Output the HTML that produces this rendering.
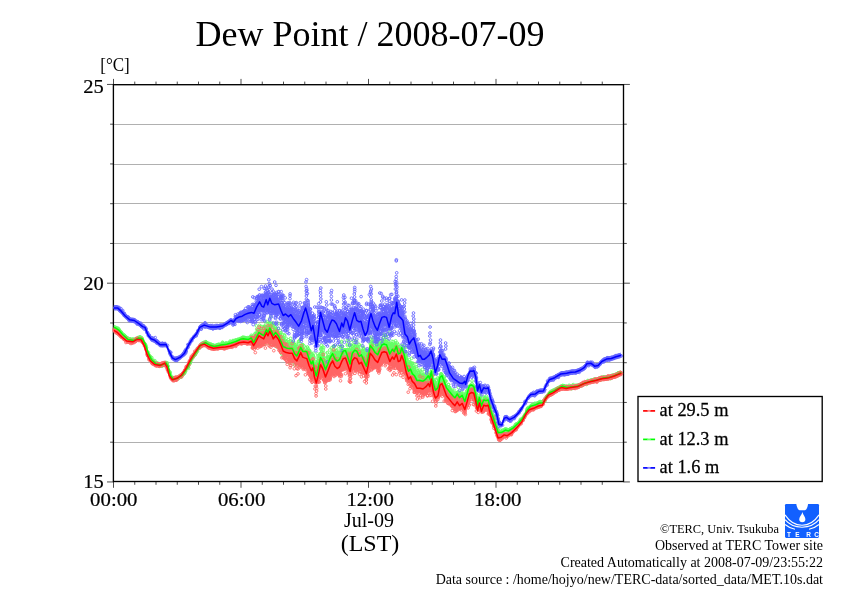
<!DOCTYPE html>
<html lang="en"><head><meta charset="utf-8"><title>Dew Point / 2008-07-09</title>
<style>html,body{margin:0;padding:0;background:#fff}svg{display:block}</style></head>
<body>
<svg width="842" height="595" viewBox="0 0 842 595" font-family="'Liberation Serif', 'Times New Roman', serif" fill="#000">
<defs>
<marker id="mr" markerWidth="4" markerHeight="4" refX="2" refY="2" markerUnits="userSpaceOnUse" overflow="visible"><circle cx="2" cy="2" r="1.35" fill="none" stroke="#ff6464" stroke-width="0.85"/></marker>
<marker id="mg" markerWidth="4" markerHeight="4" refX="2" refY="2" markerUnits="userSpaceOnUse" overflow="visible"><circle cx="2" cy="2" r="1.35" fill="none" stroke="#64ff64" stroke-width="0.85"/></marker>
<marker id="mb" markerWidth="4" markerHeight="4" refX="2" refY="2" markerUnits="userSpaceOnUse" overflow="visible"><circle cx="2" cy="2" r="1.35" fill="none" stroke="#6464ff" stroke-width="0.85"/></marker>
<clipPath id="cp"><rect x="110.5" y="85.0" width="513.0" height="396.5"/></clipPath>
</defs>
<rect width="842" height="595" fill="#fff"/>
<path d="M113.5,124.5H623.5M113.5,164.5H623.5M113.5,203.5H623.5M113.5,243.5H623.5M113.5,283.5H623.5M113.5,322.5H623.5M113.5,362.5H623.5M113.5,402.5H623.5M113.5,442.5H623.5" stroke="#b0b0b0" stroke-width="1" fill="none"/>
<path d="M113.50,481.5v6.3M113.50,84.7v-5.8M134.75,481.5v3.3M134.75,84.7v-3.1M156.00,481.5v3.3M156.00,84.7v-3.1M177.25,481.5v3.3M177.25,84.7v-3.1M198.50,481.5v3.3M198.50,84.7v-3.1M219.75,481.5v3.3M219.75,84.7v-3.1M241.00,481.5v6.3M241.00,84.7v-5.8M262.25,481.5v3.3M262.25,84.7v-3.1M283.50,481.5v3.3M283.50,84.7v-3.1M304.75,481.5v3.3M304.75,84.7v-3.1M326.00,481.5v3.3M326.00,84.7v-3.1M347.25,481.5v3.3M347.25,84.7v-3.1M368.50,481.5v6.3M368.50,84.7v-5.8M389.75,481.5v3.3M389.75,84.7v-3.1M411.00,481.5v3.3M411.00,84.7v-3.1M432.25,481.5v3.3M432.25,84.7v-3.1M453.50,481.5v3.3M453.50,84.7v-3.1M474.75,481.5v3.3M474.75,84.7v-3.1M496.00,481.5v6.3M496.00,84.7v-5.8M517.25,481.5v3.3M517.25,84.7v-3.1M538.50,481.5v3.3M538.50,84.7v-3.1M559.75,481.5v3.3M559.75,84.7v-3.1M581.00,481.5v3.3M581.00,84.7v-3.1M602.25,481.5v3.3M602.25,84.7v-3.1M113.4,481.95h-6.4M623.5,481.95h6.4M113.4,442.20h-3.3M623.5,442.20h3.3M113.4,402.45h-3.3M623.5,402.45h3.3M113.4,362.70h-3.3M623.5,362.70h3.3M113.4,322.95h-3.3M623.5,322.95h3.3M113.4,283.20h-6.4M623.5,283.20h6.4M113.4,243.45h-3.3M623.5,243.45h3.3M113.4,203.70h-3.3M623.5,203.70h3.3M113.4,163.95h-3.3M623.5,163.95h3.3M113.4,124.20h-3.3M623.5,124.20h3.3M113.4,84.45h-6.4M623.5,84.45h6.4" stroke="#000" stroke-width="0.7" fill="none"/>
<rect x="113.40" y="84.70" width="510.10" height="396.80" fill="none" stroke="#000" stroke-width="1.35"/>
<g clip-path="url(#cp)" fill="none" stroke="none" stroke-linejoin="round">
<path d="M113.8,324.9 114.8,324.9 115.8,325.4 116.8,326.1 117.8,326.7 118.8,327.4 119.8,328.5 120.8,329.6 121.8,330.8 122.8,331.9 123.8,333 124.8,333.9 125.8,334.8 126.8,335.8 127.8,336.6 128.8,336.9 129.8,337.1 130.8,337.2 131.8,337.4 132.8,337.6 133.8,337.7 134.8,337.3 135.8,336.8 136.8,336.3 137.8,335.7 138.8,335.4 139.8,335.5 140.8,335.7 141.8,335.8 142.8,336.7 143.8,338.6 144.8,340.5 145.8,342.9 146.8,345.9 147.8,349 148.8,351.6 149.8,353.5 150.8,355.5 151.8,357.3 152.8,358.2 153.8,359.1 154.8,360.1 155.8,361 156.8,361.4 157.8,361.6 158.8,361.8 159.8,362 160.8,362.2 161.8,362.2 162.8,361.7 163.8,361.3 164.8,360.8 165.8,360.4 166.8,361.7 167.8,363.3 168.8,366.3 169.8,370.3 170.8,373.4 171.8,374.7 172.8,375.9 173.8,376.7 174.8,376.3 175.8,376 176.8,375.7 177.8,375.3 178.8,374.7 179.8,374 180.8,373.3 181.8,372.6 182.8,371.7 183.8,370.3 184.8,368.8 185.8,367.3 186.8,365.8 187.8,364 188.8,362 189.8,360 190.8,358 191.8,356.1 192.8,354.5 193.8,352.9 194.8,351.4 195.8,349.8 196.8,348.3 197.8,346.8 198.8,345.2 199.8,343.7 200.8,342.1 201.8,341.5 202.8,341.1 203.8,340.6 204.8,340.2 205.8,340.1 206.8,340.7 207.8,341.2 208.8,341.8 209.8,342.4 210.8,342.7 211.8,343 212.8,343.3 213.8,343.6 214.8,343.8 215.8,343.6 216.8,343.3 217.8,343.1 218.8,342.8 219.8,342.6 220.8,342.4 221.8,342.2 222.8,342.1 223.8,341.9 224.8,341.8 225.8,341.6 226.8,341.4 227.8,341.2 228.8,340.9 229.8,340.6 230.8,340.3 231.8,340.1 232.8,339.7 233.8,339.4 234.8,339.1 235.8,338.7 236.8,338.3 237.8,337.8 238.8,337.4 239.8,336.8 240.8,336.4 241.8,336.3 242.8,336.1 243.8,336 244.8,336.1 245.8,336.3 246.8,336.5 247.8,336.6 248.8,336.4 249.8,335.9 250.8,335.5 251.8,336.1 252.8,337.6 253.8,338.1 254.8,336.6 255.8,335.3 256.8,333.9 257.8,332.5 258.8,331.4 259.8,331.4 260.8,331.6 261.8,331.7 262.8,331.8 263.8,331.7 264.8,330.6 265.8,329.4 266.8,328.9 267.8,329.8 268.8,329.1 269.8,328.2 270.8,329 271.8,330.1 272.8,331.6 273.8,332.1 274.8,331.8 275.8,331.9 276.8,332.9 277.8,333.9 278.8,335.2 279.8,336.7 280.8,338.3 281.8,339.8 282.8,341.4 283.8,342.4 284.8,343.1 285.8,343.8 286.8,344.4 287.8,344.9 288.8,345.3 289.8,345.7 290.8,346 291.8,346.3 292.8,347 293.8,348.2 294.8,349.3 295.8,349.9 296.8,350.5 297.8,349.9 298.8,349 299.8,348.2 300.8,347.6 301.8,348.6 302.8,349.6 303.8,350 304.8,350.5 305.8,350.9 306.8,351.6 307.8,353.4 308.8,355.3 309.8,357 310.8,358.6 311.8,359.2 312.8,359 313.8,361.5 314.8,364.1 315.8,365.7 316.8,365.7 317.8,364 318.8,362.1 319.8,359.9 320.8,358.6 321.8,359.2 322.8,359.9 323.8,361 324.8,362.1 325.8,362.5 326.8,361.1 327.8,359.7 328.8,358.3 329.8,356.8 330.8,355.6 331.8,354.6 332.8,354 333.8,354.7 334.8,355.5 335.8,355.8 336.8,356.1 337.8,355.9 338.8,355.4 339.8,354.7 340.8,353.4 341.8,352.3 342.8,351.2 343.8,350.6 344.8,350.4 345.8,350.6 346.8,351.9 347.8,353.2 348.8,354.4 349.8,355.7 350.8,354.6 351.8,352.3 352.8,350.9 353.8,350.3 354.8,350 355.8,350.1 356.8,350.5 357.8,351.5 358.8,352.6 359.8,352.8 360.8,352.6 361.8,352.9 362.8,354 363.8,355 364.8,355.9 365.8,356.8 366.8,356.4 367.8,354.1 368.8,351.4 369.8,348.3 370.8,347.3 371.8,347.5 372.8,347.8 373.8,348.2 374.8,348.7 375.8,348.9 376.8,349.1 377.8,349 378.8,347.8 379.8,346.5 380.8,345.3 381.8,344.2 382.8,343.8 383.8,343.6 384.8,343.6 385.8,343.8 386.8,344.3 387.8,345.6 388.8,347 389.8,348.1 390.8,347.7 391.8,347 392.8,347.1 393.8,347.9 394.8,347.5 395.8,346.8 396.8,347.2 397.8,349.3 398.8,350.5 399.8,350.8 400.8,350.4 401.8,349.9 402.8,351.6 403.8,353.6 404.8,356.3 405.8,359.4 406.8,361.9 407.8,364.2 408.8,365.9 409.8,366.2 410.8,367 411.8,368.9 412.8,370.5 413.8,371.5 414.8,372.7 415.8,374.2 416.8,375.6 417.8,376.1 418.8,376.4 419.8,376.6 420.8,376.9 421.8,377.2 422.8,377.5 423.8,377.2 424.8,376.8 425.8,376.4 426.8,375.7 427.8,374.9 428.8,375.2 429.8,376 430.8,373.3 431.8,373.7 432.8,377.8 433.8,381 434.8,383.4 435.8,384.6 436.8,384.1 437.8,383.4 438.8,380.5 439.8,377.1 440.8,376 441.8,375.5 442.8,377 443.8,379.1 444.8,381.2 445.8,383.4 446.8,385.3 447.8,386.5 448.8,387.6 449.8,388.8 450.8,389.9 451.8,391.1 452.8,392.2 453.8,393.1 454.8,393.9 455.8,393.1 456.8,391.9 457.8,392.2 458.8,393.5 459.8,394.3 460.8,393.6 461.8,392.9 462.8,393.7 463.8,395.5 464.8,396.8 465.8,394.7 466.8,391.9 467.8,388.9 468.8,385.9 469.8,384.1 470.8,383.7 471.8,383.7 472.8,384.2 473.8,385.2 474.8,388.7 475.8,392.7 476.8,397.4 477.8,400.2 478.8,397 479.8,396.4 480.8,400.3 481.8,401.7 482.8,399.4 483.8,397.6 484.8,397.8 485.8,398.1 486.8,398 487.8,397.8 488.8,400.2 489.8,404.3 490.8,408.1 491.8,411 492.8,413.9 493.8,416.9 494.8,419.9 495.8,423 496.8,426 497.8,429.1 498.8,429.9 499.8,429.7 500.8,429.7 501.8,429.5 502.8,429.1 503.8,428.4 504.8,427.7 505.8,427.4 506.8,427.7 507.8,428.1 508.8,428 509.8,427.4 510.8,426.8 511.8,426.2 512.8,425.6 513.8,424.7 514.8,423.7 515.8,422.8 516.8,421.9 517.8,420.9 518.8,419.9 519.8,418.8 520.8,417.7 521.8,416.6 522.8,415.5 523.8,413.8 524.8,411.9 525.8,410.1 526.8,408.3 527.8,406.7 528.8,405.6 529.8,404.4 530.8,403.5 531.8,403.2 532.8,402.9 533.8,402.6 534.8,402.4 535.8,401.9 536.8,401.5 537.8,401 538.8,400.6 539.8,400.2 540.8,400.1 541.8,400 542.8,399.8 543.8,399 544.8,397.1 545.8,395.2 546.8,393.7 547.8,392.3 548.8,391 549.8,389.9 550.8,389.5 551.8,389 552.8,388.6 553.8,388.1 554.8,387.6 555.8,387.1 556.8,386.5 557.8,386 558.8,385.4 559.8,384.8 560.8,384.3 561.8,383.9 562.8,383.6 563.8,383.9 564.8,384.1 565.8,384.4 566.8,384.6 567.8,384.7 568.8,384.6 569.8,384.5 570.8,384.4 571.8,384.3 572.8,384.1 573.8,384 574.8,383.8 575.8,383.6 576.8,383.5 577.8,383.3 578.8,383.1 579.8,382.8 580.8,382.3 581.8,381.8 582.8,381.3 583.8,380.9 584.8,380.4 585.8,380 586.8,379.7 587.8,379.4 588.8,379.1 589.8,378.8 590.8,378.5 591.8,378.3 592.8,378.1 593.8,377.9 594.8,377.6 595.8,377.4 596.8,377.2 597.8,376.9 598.8,376.6 599.8,376.3 600.8,376 601.8,375.7 602.8,375.4 603.8,375.3 604.8,375.2 605.8,375.1 606.8,375 607.8,374.9 608.8,374.7 609.8,374.5 610.8,374.1 611.8,373.8 612.8,373.5 613.8,373.2 614.8,372.8 615.8,372.3 616.8,371.9 617.8,371.4 618.8,370.9 619.8,370.5 620.8,370 620.8,375.5 619.8,376 618.8,376.4 617.8,376.9 616.8,377.4 615.8,377.8 614.8,378.3 613.8,378.7 612.8,379 611.8,379.3 610.8,379.6 609.8,380 608.8,380.2 607.8,380.4 606.8,380.5 605.8,380.6 604.8,380.7 603.8,380.8 602.8,380.9 601.8,381.2 600.8,381.5 599.8,381.8 598.8,382.1 597.8,382.4 596.8,382.7 595.8,382.9 594.8,383.1 593.8,383.4 592.8,383.6 591.8,383.8 590.8,384 589.8,384.3 588.8,384.6 587.8,384.9 586.8,385.2 585.8,385.5 584.8,385.9 583.8,386.4 582.8,386.8 581.8,387.3 580.8,387.8 579.8,388.3 578.8,388.6 577.8,388.8 576.8,389 575.8,389.1 574.8,389.3 573.8,389.5 572.8,389.6 571.8,389.8 570.8,389.9 569.8,390 568.8,390.1 567.8,390.2 566.8,390.1 565.8,389.9 564.8,389.6 563.8,389.4 562.8,389.1 561.8,389.4 560.8,389.8 559.8,390.3 558.8,390.9 557.8,391.5 556.8,392 555.8,392.6 554.8,393.1 553.8,393.6 552.8,394.1 551.8,394.5 550.8,395 549.8,395.4 548.8,396.5 547.8,397.8 546.8,399.2 545.8,400.7 544.8,402.6 543.8,404.5 542.8,405.3 541.8,405.5 540.8,405.6 539.8,405.7 538.8,406.1 537.8,406.5 536.8,407 535.8,407.4 534.8,407.9 533.8,408.1 532.8,408.4 531.8,408.7 530.8,409 529.8,409.9 528.8,411.1 527.8,412.2 526.8,413.8 525.8,415.6 524.8,417.4 523.8,419.3 522.8,421 521.8,422.1 520.8,423.2 519.8,424.3 518.8,425.4 517.8,426.4 516.8,427.4 515.8,428.3 514.8,429.2 513.8,430.2 512.8,431.1 511.8,431.7 510.8,432.3 509.8,432.9 508.8,433.5 507.8,433.6 506.8,433.2 505.8,432.9 504.8,433.2 503.8,433.9 502.8,434.6 501.8,435 500.8,435.2 499.8,435.2 498.8,435.4 497.8,434.6 496.8,431.5 495.8,428.5 494.8,425.4 493.8,422.4 492.8,419.4 491.8,416.5 490.8,413.6 489.8,409.8 488.8,405.7 487.8,403.3 486.8,403.5 485.8,403.6 484.8,403.3 483.8,403.1 482.8,404.9 481.8,407.2 480.8,405.8 479.8,401.9 478.8,402.5 477.8,405.7 476.8,402.9 475.8,398.2 474.8,394.2 473.8,390.7 472.8,389.7 471.8,389.2 470.8,389.2 469.8,389.6 468.8,391.4 467.8,394.4 466.8,397.4 465.8,400.2 464.8,402.3 463.8,401 462.8,399.2 461.8,398.4 460.8,399.1 459.8,399.8 458.8,399 457.8,397.7 456.8,397.4 455.8,398.6 454.8,399.4 453.8,398.6 452.8,397.7 451.8,396.6 450.8,395.4 449.8,394.3 448.8,393.1 447.8,392 446.8,390.8 445.8,388.9 444.8,386.7 443.8,384.6 442.8,382.5 441.8,381 440.8,381.5 439.8,382.6 438.8,386 437.8,388.9 436.8,389.6 435.8,390.1 434.8,388.9 433.8,386.5 432.8,383.3 431.8,379.2 430.8,378.8 429.8,381.5 428.8,380.7 427.8,380.4 426.8,381.2 425.8,381.9 424.8,382.3 423.8,382.7 422.8,383 421.8,382.7 420.8,382.4 419.8,382.1 418.8,381.9 417.8,381.6 416.8,381.1 415.8,379.7 414.8,378.2 413.8,377 412.8,376 411.8,374.4 410.8,372.5 409.8,371.7 408.8,371.5 407.8,369.8 406.8,367.6 405.8,365 404.8,362.1 403.8,359.3 402.8,357.4 401.8,355.8 400.8,356.2 399.8,356.7 398.8,356.5 397.8,355.2 396.8,353.1 395.8,352.7 394.8,353.5 393.8,353.8 392.8,353 391.8,353 390.8,353.6 389.8,354.1 388.8,352.9 387.8,351.6 386.8,350.3 385.8,349.7 384.8,349.6 383.8,349.6 382.8,349.8 381.8,350.2 380.8,351.3 379.8,352.5 378.8,353.8 377.8,355 376.8,355.1 375.8,354.9 374.8,354.7 373.8,354.2 372.8,353.8 371.8,353.5 370.8,353.3 369.8,354.3 368.8,357.4 367.8,360.1 366.8,362.4 365.8,362.8 364.8,362 363.8,361 362.8,360 361.8,358.9 360.8,358.6 359.8,358.8 358.8,358.6 357.8,357.5 356.8,356.5 355.8,356.2 354.8,356 353.8,356.4 352.8,357 351.8,358.4 350.8,360.6 349.8,361.8 348.8,360.5 347.8,359.2 346.8,357.9 345.8,356.7 344.8,356.4 343.8,356.7 342.8,357.3 341.8,358.3 340.8,359.5 339.8,360.8 338.8,361.5 337.8,362 336.8,362.1 335.8,361.9 334.8,361.6 333.8,360.8 332.8,360.1 331.8,360.7 330.8,361.7 329.8,362.9 328.8,364.4 327.8,365.8 326.8,367.2 325.8,368.5 324.8,368.2 323.8,367 322.8,365.9 321.8,365.2 320.8,364.6 319.8,365.9 318.8,368 317.8,370 316.8,371.7 315.8,371.7 314.8,370 313.8,367.4 312.8,364.9 311.8,365.1 310.8,364.5 309.8,362.9 308.8,361.2 307.8,359.3 306.8,357.5 305.8,356.8 304.8,356.3 303.8,355.9 302.8,355.4 301.8,354.4 300.8,353.4 299.8,354 298.8,354.8 297.8,355.6 296.8,356.2 295.8,355.7 294.8,355 293.8,354 292.8,352.7 291.8,352 290.8,351.7 289.8,351.4 288.8,351 287.8,350.5 286.8,350 285.8,349.4 284.8,348.7 283.8,348 282.8,347 281.8,345.4 280.8,343.8 279.8,342.3 278.8,340.7 277.8,339.5 276.8,338.4 275.8,337.4 274.8,337.3 273.8,337.6 272.8,337.1 271.8,335.6 270.8,334.5 269.8,333.7 268.8,334.6 267.8,335.3 266.8,334.4 265.8,334.9 264.8,336.1 263.8,337.2 262.8,337.3 261.8,337.2 260.8,337.1 259.8,336.9 258.8,336.9 257.8,338 256.8,339.4 255.8,340.8 254.8,342.1 253.8,343.6 252.8,343.1 251.8,341.6 250.8,341 249.8,341.4 248.8,341.9 247.8,342.1 246.8,342 245.8,341.8 244.8,341.6 243.8,341.5 242.8,341.6 241.8,341.8 240.8,341.9 239.8,342.3 238.8,342.9 237.8,343.3 236.8,343.8 235.8,344.2 234.8,344.6 233.8,344.9 232.8,345.2 231.8,345.6 230.8,345.8 229.8,346.1 228.8,346.4 227.8,346.7 226.8,346.9 225.8,347.1 224.8,347.3 223.8,347.4 222.8,347.6 221.8,347.7 220.8,347.9 219.8,348.1 218.8,348.3 217.8,348.6 216.8,348.8 215.8,349.1 214.8,349.3 213.8,349.1 212.8,348.8 211.8,348.5 210.8,348.2 209.8,347.9 208.8,347.3 207.8,346.7 206.8,346.2 205.8,345.6 204.8,345.7 203.8,346.1 202.8,346.6 201.8,347 200.8,347.6 199.8,349.2 198.8,350.7 197.8,352.3 196.8,353.8 195.8,355.3 194.8,356.9 193.8,358.4 192.8,360 191.8,361.6 190.8,363.5 189.8,365.5 188.8,367.5 187.8,369.5 186.8,371.3 185.8,372.8 184.8,374.3 183.8,375.8 182.8,377.2 181.8,378.1 180.8,378.8 179.8,379.5 178.8,380.2 177.8,380.8 176.8,381.2 175.8,381.5 174.8,381.8 173.8,382.2 172.8,381.4 171.8,380.2 170.8,378.9 169.8,375.8 168.8,371.8 167.8,368.8 166.8,367.2 165.8,365.9 164.8,366.3 163.8,366.8 162.8,367.2 161.8,367.7 160.8,367.7 159.8,367.5 158.8,367.3 157.8,367.1 156.8,366.9 155.8,366.5 154.8,365.6 153.8,364.6 152.8,363.7 151.8,362.8 150.8,361 149.8,359 148.8,357.1 147.8,354.5 146.8,351.4 145.8,348.4 144.8,346 143.8,344.1 142.8,342.2 141.8,341.3 140.8,341.2 139.8,341 138.8,340.9 137.8,341.2 136.8,341.8 135.8,342.3 134.8,342.8 133.8,343.2 132.8,343.1 131.8,342.9 130.8,342.7 129.8,342.6 128.8,342.4 127.8,342.1 126.8,341.3 125.8,340.3 124.8,339.4 123.8,338.5 122.8,337.4 121.8,336.3 120.8,335.1 119.8,334 118.8,332.9 117.8,332.2 116.8,331.6 115.8,330.9 114.8,330.4 113.8,330.4Z" fill="#6eff6e"/>
<path d="M115.2,329.3 117.1,328.5 117.1,329.2 117.5,328.3 117.7,329.3 118,330.2 118.4,328.4 119.1,330.4 119.2,330.9 119.2,329.8 119.5,330.2 119.4,330.5 121.2,332.5 121.5,333.2 121.4,332.2 122.7,334 123.6,336.3 124.3,335.6 124.1,334.9 123.8,336 124.8,336 124.9,335.8 126,337 126.1,336.8 127.9,338 128.6,341.8 128.3,339.2 129.7,340 130.1,338.9 131.7,339.9 132.3,339.7 132.2,339.6 132.4,340.7 132.3,342.1 133,340.5 132.9,340.6 133.5,340.1 133.3,339.1 134.1,340.5 134.5,340.9 134.9,340.8 135,339.8 135.1,340.7 135.6,340.1 135.9,339.7 135.8,340.6 136.7,339.1 136.4,339.9 137.2,339.3 138.2,340.2 139,338.6 140,336.7 140.2,338 141.5,338.8 141.8,339.6 142,338.1 141.8,339.2 145.1,344.2 145.4,344.4 145.9,345.7 146,346.4 146.4,347.9 146.3,347.7 148.3,352.5 148.9,354.7 150.3,356.4 150.4,357 151,358.1 151.5,359.8 151.8,357.6 152.9,360.1 154.7,362.6 154.8,360.6 155,363.3 155.2,364.2 155.8,362.4 156.3,364.1 156.4,362.8 157.7,364.6 157.4,364.4 158,364.4 159,365.2 159.6,364.8 160.5,363.9 161.2,365.9 161.6,364.7 162.2,366.2 162.7,363.7 162.4,364.2 163.7,363.1 164.2,364.4 163.8,364 163.8,365.1 164.6,363.6 165.5,363.6 165.5,363 165.6,363.8 166.3,362.6 166.5,364.4 167.1,363.6 167.4,365.3 167.4,362.9 168.1,366.2 169.3,371.3 170.2,372.3 170.2,373.3 170.6,375.1 172.2,378.4 173.2,377.8 172.9,377.5 173.6,378.7 174.1,378.6 174.2,378.3 175.2,379.3 174.9,379.4 175.5,377.8 175.6,379 176.1,379.5 176.2,378.7 176.3,378.8 177.2,377.4 176.9,377.9 177.6,377.5 177.8,378 177.9,378.2 178.4,377.4 178.5,378.5 179,376.9 179.5,376.6 180.1,376.1 180.2,377 180.7,375.5 180.6,376 180.9,376.3 181.1,377.2 181.8,374.8 181.9,374.6 182.4,374.5 182.5,375.3 183.6,374.1 183.4,373.1 184.2,372.4 184.4,372.8 184.7,372.8 184.4,373.5 184.9,371.2 185.3,371.3 185.6,371 185.5,369.6 186.7,367.9 187.1,367.8 187.3,366.8 187.7,366.7 187.8,367.5 187.5,366.5 188.2,367.1 188,366.7 188,367.1 188.6,368.3 188.6,364.6 188.5,365.6 189.6,362.5 189.7,362.7 190.3,362.2 189.9,363.9 190.5,362.6 191.4,360.3 192.6,358.1 193.3,356.5 194.7,355 194.4,353.6 195.1,354.8 195.1,353.6 195.5,353.3 195.4,354.5 196.1,353 195.8,353.3 197,350.9 197.4,351.5 197.4,348.3 198.5,348.2 198.9,348.2 198.9,347.9 199.7,347.5 199.6,347.5 200.1,347.5 199.9,346 200.4,345.1 201,344.6 200.8,345.2 202,344.1 202.3,344.2 203,343.3 203.1,343.5 202.9,343.6 203.9,343.9 204.5,343.1 205.2,343.8 205.8,341.7 206.1,343.5 206,343.4 206.1,342 206.4,342.5 206.9,344 207.2,343.7 208.2,345.3 207.8,344.1 208,344 208.6,343.8 208.9,344.6 208.9,344.8 209.3,344.7 208.9,343.4 209.4,344 209.5,347.5 210.4,344.6 211.1,344.1 212.3,346.9 212,345.7 212.9,347 213.2,345.3 213,346.4 213.4,345.6 214,347.3 214.4,346.9 215.1,347.1 216.2,348.5 216.6,346.3 216.4,345.5 216.6,345.3 217.5,347.1 218.3,344.3 219,346.8 219.2,346.9 219.3,346.6 219,346.2 219.4,346.7 219.5,345.4 220.5,344.7 222.3,344.6 221.9,344.1 222.5,342.2 222.6,344.5 222.8,342.7 223.6,345.7 223.6,344.8 223.5,346.8 225.8,343.7 225.9,343.1 226.7,343.4 228.3,344.5 228.4,344.9 229.2,344.6 229.4,342.8 229.6,342.9 229.5,343.5 229.7,343.4 230.2,342.9 230.1,341.1 230.7,343.8 230.6,345 231.1,343 232,341.5 232,342.3 232.3,342.9 233,340.5 233.8,342.1 233.5,342.2 233.4,340.8 233.6,342.9 233.4,343.7 234.6,341.6 234.9,341.6 235.8,340.7 235.4,339.9 236,340.1 236.8,341.1 237.8,339.9 237.7,341.4 238.1,339.2 238.6,340.4 239.9,341.4 240,339.4 240.5,339 240.4,340.2 240.8,338.9 241.1,338.7 241.5,339.7 242.1,339.5 241.9,338.3 242.7,337.2 242.4,339.1 242.9,338.3 243.4,338.1 243.4,337.3 244.7,338.2 244.7,337.4 245.2,339.4 245.1,339.2 245.3,338.3 245.4,339.1 245.3,339 246,338.6 246.8,339 246.3,338.1 247.2,340.5 247.4,337.7 248.2,338.3 248.5,339.2 249.4,337.3 249.5,340.5 249.4,338 249.6,339 249.9,339.3 250,341 250.2,340.1 250.3,336.9 250.7,337.9 251.1,337 251.3,337.1 251.3,335.3 251.8,337.2 252.2,338.8 252.1,336.2 252.3,343.7 252.4,337.8 252.7,337.4 252.9,343.5 253.1,341.4 252.8,341.1 252.9,339.1 253.3,339.4 253.7,343 253.5,343.8 253.4,339.7 253.7,340.7 253.7,342.5 254.3,342 254,344.6 253.9,341.2 254.3,337.9 254.2,339.2 254.4,347.1 254.5,334 254.8,344.7 254.3,344.3 254.8,337.9 255,341.2 255,337 255,341.9 254.9,342.5 255.4,342.8 255.8,342.1 255.4,342.6 255.6,336.5 255.5,341.5 256,333.7 256.2,338.4 255.9,343.3 256.2,332.3 256,342.2 256.2,336.3 255.8,334.7 256.2,339.3 256.2,339 256.1,341.1 256.3,337.6 256.8,333.4 256.4,325.9 256.4,339.4 256.7,337 256.7,334.4 256.7,329.2 257,336 257.2,339.2 257.6,334.8 257.6,336.1 258.1,334.8 257.9,332.4 258.2,331.6 258.2,332.7 257.8,330.2 258.4,332.1 258.4,329.5 258.9,331.1 259,340.2 259.2,334.2 258.9,337.8 259.5,325.3 259.5,338 259.7,335.7 259.3,329.9 260.1,333.7 260,339.6 260,343.6 259.8,333.9 260.4,339.3 260.3,326.5 260.8,330.4 260.4,336.3 260.6,330.6 260.6,337.5 260.7,335.6 260.6,343.2 260.6,339.5 261.1,329.7 261,332.9 261.2,337.4 261.2,331.1 261.1,336.6 261.3,334 261.7,335.8 261.5,338.4 261.5,336.6 261.4,336.7 261.7,326.4 261.4,332.3 262,332.5 262,331.1 262.2,334.1 262.1,336.4 262.1,334.5 261.9,335.8 261.8,334.2 262.6,337 262.3,333.3 262.4,334 262.7,338.8 262.7,332.6 262.9,334.8 263.2,332.8 263,330.5 262.9,338.6 263.6,340.7 263.7,340.9 263.6,338.1 263.6,340.3 263.3,337.7 263.5,336.4 263.5,328.9 263.8,341.7 263.9,327.7 264.2,335.6 263.9,332 264.2,330.7 263.9,338.2 264.1,337.1 264.4,326.3 264.4,344.2 264.8,332.3 264.7,331.7 264.4,326.2 264.4,326.7 264.4,334.8 265.1,335.2 264.9,326.6 265.2,338.9 265,326.4 264.9,334.2 265.7,322.5 265.5,327.4 265.7,330.1 265.4,329.1 265.5,339.4 265.4,333.7 265.8,327.5 266.2,329.7 265.8,337.1 266.4,333.9 266.5,329.7 266.8,332.5 266.6,328.6 266.8,321.4 267.3,328 267.2,332.4 266.9,334.5 267.3,329.8 267.3,326.7 267.3,334.4 267.6,335.2 267.7,333.5 267.7,326.8 268.2,332.1 268,334.1 268,326.8 268.6,330.9 268.5,337.1 268.5,325.5 268.6,326.1 268.8,332.9 268.4,336 269.3,322.6 268.9,327.3 269.2,330.5 268.9,330.7 269.1,323.3 269.1,325.6 269.1,331.4 269.1,333.2 269.3,334.1 269.5,334.2 269.6,325.7 269.7,323.6 269.4,335 269.8,331.8 269.5,323.5 269.9,338.7 270.2,337.9 269.8,344 270.1,333.4 270.2,330.5 269.9,336.5 270.1,332 269.9,335.5 269.9,335.4 269.8,328 270,329.4 270.2,335 270.7,332.5 270.4,331.9 270.5,335 270.3,327.9 270.5,317.1 270.6,331.1 270.6,329.2 270.9,335 271,338.6 271,324.2 271.2,336.1 271.2,337 270.8,332.7 271,333.2 271.2,326 271.4,331.4 271.4,326.7 271.7,325.5 271.4,338.4 271.4,322.6 271.4,337 271.3,324.6 271.6,331.2 271.8,332.9 272.1,335.4 272.3,334.3 272.4,336.9 272.7,337.6 272.4,323.8 272.4,335.7 272.7,336.6 272.4,327 273,336.9 273.2,325.6 272.8,339.2 273.3,325.9 273.7,330.9 273.5,337.2 273.3,332.6 273.8,324.1 273.7,336.4 273.4,335.7 273.4,341 273.8,334.6 274.1,333.6 274.1,333.2 273.9,339.8 273.9,342.8 274.2,338.1 273.9,333.7 274,335 274.4,330.4 274.5,330.5 275.2,326.7 275,337.2 275,331.5 275,329.4 275,332.9 275.2,339.8 274.9,329.5 274.8,336.1 274.9,332.4 275.1,330 274.8,328.9 275.5,336.4 275.5,336.1 275.7,328.1 275.6,335.8 276.1,340.4 276.1,332 276.2,342.8 276.2,331.8 276.2,344.5 275.8,334.2 275.9,328.7 276.5,336.7 276.8,331.7 276.7,339.7 276.5,340.4 276.6,346.7 276.3,330.6 277.2,343.1 276.9,338.5 277.2,338.1 277.2,345.7 276.8,338.4 277.2,331.1 277,340.4 277.3,341.6 277.4,330.3 277.7,323.7 277.7,336.8 277.4,333 277.7,334.3 277.7,340.4 277.8,346.6 278.2,333.9 278.1,328.5 278.2,340.4 278,342.6 278,338 278,332.8 278.3,337.9 278.6,340.2 278.5,337.7 278.5,337 278.4,342 278.5,339.1 278.5,337.9 278.8,339.4 279,338.6 279.3,341.9 279,343.3 279.2,337.8 278.9,341.4 279.3,334.2 279.1,339.6 279.1,341.2 279.7,336.8 279.6,338.2 280,338.3 280.2,330.7 280.1,336.7 280.2,334.8 280.6,346.3 280.5,338 280.4,334.6 280.4,346.7 280.3,333.1 280.7,336 280.7,349.5 281.1,337.3 281,350.9 281.1,332.5 281.2,344.9 281.3,344.7 281.3,348.5 281.5,343.9 281.7,354 281.4,339.9 281.4,339.3 281.6,339.2 282,345 282.3,338 282.1,346.7 282.6,334.8 282.4,344.8 282.4,350.3 282.6,351.3 282.6,347 282.7,342.1 282.6,338.2 282.4,350.3 283.1,344.4 283.2,339.3 282.9,345.8 282.9,338.7 283.2,344.4 283,345.4 282.9,338.9 283,349.3 283.3,337.5 282.9,341.6 283.7,355.6 283.4,353.5 283.5,350.3 283.5,353.5 283.8,340.6 283.5,349.8 283.4,344.6 283.3,354.7 283.6,345.6 283.3,344.8 284.1,346 284.2,343.3 284.3,342.7 284.2,351.4 284.1,349.1 284,345.2 283.9,343.9 283.9,341.2 284.5,344.7 284.7,335.7 284.6,349.6 284.7,344.8 284.4,351.2 284.7,353.5 284.3,334.8 285,352.1 285,354.9 284.8,352.8 285.3,353.8 285.2,346.7 285.6,343.6 285.3,339.9 286.3,345.2 286.2,341.6 285.9,342.3 285.8,349.8 286.1,346.1 286.2,338.4 286.2,348.6 286.1,343.7 286.3,346.3 286.5,354.8 286.7,348.9 286.4,348.6 286.6,347.9 286.4,342 286.6,350.8 286.4,348.1 287,344.3 287.1,347.6 286.9,350.7 287.1,346.3 286.8,345.1 286.9,353.2 287.1,345 287.6,346.3 287.5,344.6 287.6,349.5 287.4,347.7 287.5,349.9 287.7,344.2 287.4,346.2 287.8,348.7 287.9,347.7 287.9,349.4 288.2,354.4 288.1,350.9 288,353.2 287.9,352.9 287.9,352.9 288.3,339.9 288.6,346.3 288.4,344.5 288.5,341.9 289.2,344.6 288.9,346.9 289.1,343.8 288.8,344.4 289.4,351.4 289.5,351.3 289.5,345.6 289.4,353.6 289.8,356.8 289.7,363.1 289.5,351.9 289.6,341.6 289.6,358.7 290.2,349.9 290.2,346.7 290.2,340.9 290.5,348.2 290.8,353.3 290.7,346 290.3,350.6 290.6,338.4 290.5,343.7 290.4,349.6 290.4,347.2 290.6,349.6 290.3,353.8 291.1,354.8 291.1,347.4 290.9,344.3 291.7,345.8 291.4,354.3 291.7,349.6 291.4,350.3 291.7,359.9 292.3,344.4 292.1,354.3 292.5,351.1 292.4,342.2 292.3,344.9 293.3,355.9 293.2,354.3 293,345.2 292.8,357.6 293.2,343.4 293.5,350.4 293.6,353.5 293.4,350.3 293.4,346.4 293.7,353.5 293.4,341.5 293.7,343.5 293.5,344.3 293.5,351.5 293.5,352.4 293.8,358.5 293.3,351.5 293.5,352.3 294.1,349.5 294,362 294,355.1 294.2,355.8 294.3,352 294.3,354.3 294.5,364.9 294.4,359.3 294.4,359.6 294.4,346.9 294.9,356.9 295,347.2 294.9,359.7 295.3,349.9 295.2,351.2 294.9,344.3 295,344.9 295.5,347.6 295.5,351.4 295.7,350.3 295.7,348.7 295.7,351.4 295.5,347.7 295.6,348.2 295.3,358 295.3,351.8 295.4,347.5 295.4,355.2 296.3,350.5 295.8,362.8 296,358 295.8,354.4 296,359.2 296.1,353.8 296,351.7 296.7,346.5 296.7,351.2 296.7,354.4 296.6,344.3 296.3,353.6 296.7,349 296.8,354.2 297.8,348.1 297.4,348.4 297.8,354.1 297.8,358.2 297.5,352.5 297.5,355.1 297.3,346.6 297.4,356 297.6,354.7 298.3,349.9 298,364.7 298.1,350.1 297.8,356.6 298.2,350.3 298.1,356.3 298,351.2 298.1,353.2 298.6,341.6 298.7,343.7 298.6,351.4 299,352.6 298.9,358.7 298.9,349.3 298.8,355.6 299.1,348.3 298.9,341.6 299.1,353.7 299.5,351.3 299.3,358.3 299.5,340.4 299.4,353.5 299.3,350.7 300,348.5 300.1,351.6 300,352.8 299.9,350 299.9,357.7 300.2,347.1 300.4,350.7 300.3,358.6 300.6,358.3 300.4,345.6 300.5,349.1 300.5,360.2 300.9,347.2 301.2,350.8 301,357.2 301.1,360.4 300.8,355.4 301.6,359.3 301.3,346.4 301.5,349.6 301.5,354.4 301.4,356.7 301.6,357.9 301.5,348.6 301.5,354 302,358.7 302.1,346.1 301.9,354.3 301.8,348.1 301.9,346.8 301.9,345.9 302.1,344.6 302,351.2 301.8,349.6 301.9,352 302.3,347.7 302.2,348.2 302.3,353.9 302.5,352.3 302.6,359.5 302.8,344.8 302.6,344.8 302.6,350.3 302.6,350.7 302.5,349.3 302.5,359.9 302.7,357.6 302.6,351.2 302.8,357.8 302.6,348.6 303.1,354.5 303.3,354.7 303.6,354.6 303.8,352.9 303.7,358.6 303.4,360.7 304.1,353.4 304.2,353.3 304.2,346.1 304.3,352.2 304,352.4 304.3,359.3 304.7,353.2 304.6,362.6 304.5,350.2 305.1,362.1 304.8,352.7 305,357.8 305.3,358.9 305.5,362.4 305.7,354.8 305.5,357.1 305.6,360.2 305.5,347.8 305.6,358.1 306.3,351.8 305.9,353.9 306.3,364.5 306.4,353.5 306.7,359.9 306.6,349.9 306.3,355.8 306.3,353.5 307.1,357.7 307.1,350.9 307.6,351.9 307.8,356.5 307.3,347.1 307.4,355.4 307.5,350.5 307.6,347.2 307.4,359.4 307.5,356.1 308,362.4 308.3,361.6 308.3,359.9 308.1,358.5 308,358 307.9,352.8 308.2,348.8 308.3,358.8 308.2,365.7 307.8,362.4 308,358.6 308.7,350.5 308.7,361.1 308.6,359.2 308.8,353.9 309.1,350.6 309,359.7 309.2,353.8 309.2,358.2 308.9,355.2 309,358.1 308.9,362 309.7,354.4 309.4,352.2 309.5,350.4 309.7,355.6 309.7,352.9 309.4,352.1 309.7,363.2 309.4,359.2 310.2,364.5 309.9,357.5 310.1,354 310,358.6 310.5,359.9 310.5,358.2 310.5,362.1 310.7,360.3 310.6,357 310.8,363.6 310.7,362.1 310.7,352.2 310.6,359.7 310.8,362.7 310.9,359.8 311.2,359.3 311.5,354.3 311.7,361.8 311.6,368.5 311.3,370.1 311.5,362.2 311.7,366.7 311.4,370.4 311.8,366.1 311.9,359.9 312,359.6 311.8,370.4 312.1,359.7 311.9,367.7 312.1,368.7 312.1,361.4 312.2,360.9 312.1,368.8 312,368.3 312.2,354.1 312.3,365 312.6,363.5 313,364.8 313.2,355.9 313.1,355.7 313.1,356.3 313.8,364.5 313.5,368.6 313.5,368.6 313.6,367.8 313.7,367.5 313.4,368.5 313.8,365.8 313.9,357 314.3,370.1 313.8,365.2 313.8,365.3 313.9,353.2 313.9,360.4 313.9,358.3 314.4,363.9 314.5,371.4 314.8,367.1 314.4,369.3 314.7,368.7 314.7,365.6 314.8,362 314.6,367.7 314.9,371.4 315.3,366.1 315.2,366.5 314.9,369.4 315.1,364.6 315.3,370.3 315.5,371.3 315.7,375.3 315.6,372.4 315.3,365 315.3,372.5 315.3,365.7 315.8,369.5 315.8,372.1 315.8,371.5 316.1,368.2 316,372.2 316.2,364.7 315.9,369.2 316.5,372.6 316.3,377 316.7,374.7 316.5,371.8 316.6,373.2 316.7,372.7 316.5,372.2 317,369.4 317.2,374.3 317.3,362.5 317.6,361 317.8,363 317.4,369.9 317.5,353.9 317.7,361.3 317.4,365.7 317.7,362.4 317.7,367.9 318.1,367.4 317.9,355.8 318,362.8 318,363.2 317.9,358.3 318.6,366.3 318.3,362.2 318.4,371.6 318.6,363.6 318.4,360.4 318.3,367.3 318.4,373.9 318.6,369.7 318.4,369.4 318.5,364.3 318.3,362.4 318.4,369.5 319,363.9 319.3,363.6 319.3,355.5 319.2,355.9 319,367.5 319,358.8 318.9,366.3 319.1,366.3 318.9,358.4 319.6,368.1 319.8,361.5 319.7,361.8 319.7,367.6 319.5,368.1 319.8,372.4 319.7,365.3 319.8,363.3 319.8,360.8 320.1,359.6 320.1,362.2 320.3,363.2 319.9,360.5 320.3,357.7 320.3,359.8 320.6,356.4 320.4,355.8 320.4,362.5 320.5,361 320.4,360.4 320.4,354.3 320.8,349.4 320.8,348.8 320.8,361.4 320.6,365.7 320.6,353.3 321.3,359.5 320.9,356.5 321,362.3 321.2,367 321.3,361.9 321.1,355.7 321.1,359.9 321.1,353.4 321,360.1 321.7,359.1 321.4,347.8 321.4,359.7 321.7,352 321.5,361.9 321.4,361.9 321.5,345.4 321.8,355.4 321.6,352.2 321.8,349.6 321.4,358.9 322.1,354.6 321.9,360.7 322,362.4 322.1,362.8 322.1,365.3 322.2,355.5 322.4,365.2 322.5,361.3 322.5,352.9 322.6,358.3 322.8,366.2 322.4,367.8 322.8,346.9 322.4,362.6 322.4,358.3 322.6,356.9 323.2,364 322.9,363.5 323,355.6 323.2,354.9 323.2,358.9 322.9,362.2 323.2,360.1 323.1,357.3 323.3,365.5 323,362.3 322.9,369.6 323.7,347.8 323.8,366 323.4,368.5 323.5,366.3 323.3,349.8 323.7,359.4 323.6,359.5 323.3,363.1 323.6,352.5 323.6,357 324,370.4 323.9,375.3 324,367.2 323.9,376.6 324,363.5 323.9,372.6 324.2,362.3 324.1,369.3 324.2,364.3 324.4,364.6 324.5,370.5 324.5,364.2 324.4,363.9 324.7,362.8 324.7,362.7 324.6,371.1 324.7,367.3 325,375.8 325,373.1 325.2,371.6 325,361.1 325.1,367.4 325.4,368.4 325.7,370 325.3,365.7 325.4,368.4 325.7,368 325.4,375.9 325.7,377.4 325.5,368.6 325.4,374.1 326,363.3 326.2,358.3 326.1,367.8 325.8,366.6 325.9,362 326,370.1 325.9,371 326.7,366.9 327.1,366.4 326.8,359.6 327.2,357.6 327.4,356.6 327.7,367.7 327.4,352.5 327.3,353.2 327.4,363.3 328.2,362.3 327.9,366.5 328.1,367.2 327.8,366.2 327.9,356.6 327.9,361 328.2,357.8 328.4,357.5 328.7,367.1 328.4,363.7 328.5,367.3 328.5,363.9 328.6,360.1 328.4,358.5 328.7,360.9 329.1,367 329.1,363.6 329.2,364.2 329.3,367.2 328.9,357.8 328.8,365.3 329.3,356.9 329.2,366 329.4,363.4 329.5,363.7 329.7,362.1 329.5,358.1 329.4,370.9 329.6,359.2 329.8,350 329.6,356.9 330,361.1 329.9,357 329.8,366.7 330.1,363.7 330,358.9 330.2,357.2 330,358.9 330.7,360.5 330.6,373.2 330.4,368.7 330.4,357.8 330.7,363.9 330.6,371.6 330.4,359.4 330.6,358.1 330.5,362.1 330.6,362.2 330.8,361 330.7,358.4 330.8,358.4 331.3,359.2 331,371.7 330.8,363.4 331.2,353.9 330.8,366.5 331,363.9 331.2,364.5 331,361.7 331.2,359.9 331.5,347.9 331.7,364.8 331.3,353.9 331.4,355.9 331.4,354.3 331.8,360.7 331.8,353.2 332.1,358.2 332.2,355.3 332.1,352.9 331.9,357.5 332.2,362.7 332.3,351.6 332,355.9 332.3,364.4 332.3,358.9 332,365.6 332.7,363.6 332.5,362.8 332.6,359.5 332.7,353.6 332.4,356.4 332.7,361.9 332.7,356.8 332.5,355.6 332.5,355.3 333.1,361.7 333.3,365.9 333.1,359.4 333.2,351.4 333,355.8 333,349.1 333.1,358 332.8,355.9 333.1,354.3 333.1,365.5 333,346.5 333,353 333,360.1 333.2,356.9 333.4,353.5 333.6,357.5 333.4,357.8 333.7,362.5 333.6,359.1 333.5,356.1 333.7,358.3 333.8,355 333.8,354.8 334.2,346 334.2,352.5 334.2,346.6 334,345.9 334.7,363.7 334.5,355.4 334.7,355.4 334.4,362.4 334.5,361.6 334.4,353 334.5,361.5 335.3,359.4 335.1,360.6 335.1,354.7 335.4,352.4 335.5,362.6 335.5,361.5 335.5,353.8 335.5,357.7 335.6,362.7 335.6,360.6 335.7,353.8 335.5,355.4 335.9,360.9 336.3,362 336,361.1 336.1,353.7 335.9,350.5 336.1,357.7 336.7,359.7 336.6,350.8 336.6,359.5 336.3,358.5 336.8,349.8 336.8,365.9 336.8,360.3 337.1,362.5 337.8,355.1 337.4,357.1 337.8,357.5 337.5,358 337.3,353.2 337.6,367.1 337.5,361.7 337.4,354 337.3,352.4 337.8,371.2 338.1,363.3 338.1,363.3 338.3,368 338.3,367.9 338.1,359.7 338.3,359.7 338.1,358.3 338,360 337.8,363.2 338.2,369.1 338.2,365.7 338.2,360.2 338.6,354.8 338.5,358.1 338.7,354.5 338.7,355.2 339.2,359.6 339,355.3 339,359.4 339,352.5 339,364.4 339,358.4 339,358.1 338.9,354.1 338.8,346.4 339.2,352.9 338.9,356.9 338.9,358.6 339.2,362.9 339.6,354.6 339.3,360.6 339.7,358.3 339.5,359.1 339.5,366.6 339.7,352.5 339.3,364.6 339.4,357.1 340,354 340,364.3 340.2,361.1 340.2,359.8 339.9,355.6 340,354.5 340.2,357.1 340.3,358 340.1,358.7 340.7,350.4 340.5,353.3 340.6,354.6 340.6,358.3 340.8,361.1 340.5,360.8 340.4,354.4 340.6,363.3 340.7,346.2 340.3,347.4 341.1,359.3 341,357 341.3,347.2 341.5,357.3 341.5,353.2 341.7,342.2 341.7,349.4 341.7,341.4 342.2,359.9 342.1,364.5 342.3,358 341.9,358.8 342.2,351.7 342.1,353.9 341.9,355.6 342.2,352 342.4,353.9 342.4,362.9 342.8,357.2 342.4,356.3 342.8,360.2 342.6,361.1 342.4,346.2 342.5,358.9 342.4,346.6 342.5,356.4 343,351.7 343.1,353 343.1,352.4 343,355 343,355.6 343.4,359.5 343.4,353.9 343.5,354 343.6,352.2 343.4,354.9 343.4,354.4 343.7,360.5 343.3,355.4 343.9,361.3 344.2,364.6 343.9,351.3 343.8,358.1 343.8,357 343.9,349.7 344.5,351.2 344.3,354.3 344.7,350 344.3,350.6 344.6,364.6 344.3,355.4 344.5,350.3 344.7,350.6 344.8,353 344.9,356.9 345.3,366.2 345.2,362.2 345,357.2 345,356.8 345.1,355.4 345.3,350 345.7,352.5 345.7,360.7 345.7,355.1 346,349.7 346.2,357.4 345.9,354.1 346.3,356.7 346.1,359.7 346.2,357.2 346.7,358.9 346.6,355 346.5,356 346.9,354.3 346.8,358.9 347,355.1 347.1,354.5 347.1,356.8 347.3,340.5 347,361.6 346.9,352 347.2,358.8 347.1,353.5 347.1,349.9 346.8,355.8 347.3,351.7 347.3,354.6 347.4,345.5 347.4,344.3 347.7,355.6 347.6,359.1 347.5,349.6 347.6,352.6 347.4,349.9 347.9,355.6 348.2,352.3 347.9,357.5 348.3,358.3 347.9,368.4 347.8,361.2 348,361.8 348.6,353.9 348.6,356.6 348.4,340.4 348.6,349.8 348.7,357.7 348.6,358.5 348.4,357.5 348.6,363.3 348.6,356.6 349,357.3 349.3,361.4 348.9,363.2 349.2,357.2 349.1,350.4 349.2,369.5 349.8,345.4 349.6,350.3 349.4,355.8 349.6,354.3 349.8,360.8 349.7,358.7 349.5,349.7 349.5,345.6 349.6,355.2 349.9,370.1 350.3,359.4 350.2,358.2 350.5,346.7 350.5,361.9 350.8,353.7 350.6,347.6 351.2,352.3 351,350.6 351.2,356.2 351.1,354.2 351.2,342.4 351.2,364.6 351.6,357.6 351.4,355.4 351.4,351.3 351.4,359 351.6,364.3 351.6,353.8 351.6,354.2 351.7,350.6 351.6,351.6 352.2,351.6 352.1,356 352.2,345.7 351.9,346.7 352.1,353 352.4,353.5 352.6,359 352.6,351 352.7,360.1 352.5,357.4 352.4,360.3 352.6,359 352.4,355.2 352.6,349.1 352.7,362.6 352.6,361.5 352.6,356 352.4,359.8 352.4,353.9 352.9,353.8 353.1,348.7 352.9,355.6 353,359.4 353.2,350 353.1,357.1 353.2,360.3 353.3,359.4 352.8,356.2 353.5,340.1 353.8,358.9 353.8,347.9 353.4,355.9 353.8,344.9 353.9,350.5 353.9,356.7 354.3,352 353.8,359.4 354.1,360.3 354.1,361 353.8,357.1 354,355.1 353.9,345.1 353.8,367.8 354.7,353.7 354.4,355 354.8,358.9 354.4,350.5 354.7,349.3 354.6,353.3 354.9,356.1 354.9,350.1 355,353.9 355.2,354.3 354.9,350.2 355.2,359.4 354.9,350.6 355,357 355,349.9 355.7,346.4 355.3,351.2 355.7,346.1 355.7,344.7 355.6,341.1 356,347.2 356,350.1 356.3,355.1 356.1,359.9 356.1,350.6 356.8,352.3 356.3,348.5 356.5,353.3 356.6,353.4 356.7,348.3 356.5,360.1 356.6,341.2 356.4,348.2 356.4,352.6 356.5,359.2 356.7,350.7 356.7,355.4 356.6,355.4 357.2,354.6 356.9,359.1 356.8,358.5 356.9,366.3 357,355.9 357.4,361.9 357.6,347 357.4,356 357.3,351.1 357.4,357.4 357.5,362.2 357.7,354.9 357.4,355.1 357.3,350.1 357.6,357.3 358.3,352.4 357.8,350.9 357.8,359.8 357.9,357.5 358.1,357.6 358.1,365.4 358.2,358.1 357.9,368.6 358,362 358.6,359.3 358.4,348.5 358.3,351.1 358.8,349.4 358.5,347.8 358.7,353.6 358.5,352.8 358.9,354.7 359.2,345 359,355.8 358.9,344.3 358.9,353.8 359.2,360.4 359.5,364.3 359.5,364 359.7,360 359.4,358.5 359.4,363.4 359.7,358.9 359.8,353 359.4,364.9 360.2,357.1 360.5,350.6 360.6,360.5 360.4,365.2 360.4,352.1 360.4,356.7 360.8,365.5 361.2,354.8 361.2,358.5 360.9,355.1 361,356.3 360.9,353.3 361,354.4 361.2,351.4 361.2,359.7 361.6,345.7 361.3,356.7 361.4,359 361.4,353.4 362,356.9 361.9,357.5 362.1,364.6 362.3,364 362.3,361.9 362,351 362.1,365.3 362.2,360.2 362.8,360.3 362.4,360.8 362.4,355.7 362.4,358.9 362.6,356.6 362.7,365 362.5,364.2 362.4,365.1 362.5,362.9 362.7,353.8 362.7,362.5 362.6,354.7 362.6,359.2 362.8,356.7 362.7,354.9 362.6,358.4 363.1,365.5 363.2,361 362.8,351 363.1,359.1 363.3,351.6 363.7,364.2 363.4,355.9 363.5,348.5 363.8,353.3 363.8,359.7 363.8,359.7 363.4,347.7 363.3,349.2 363.8,353.3 364,353.6 364,348.5 364,361.5 364,354.3 364.1,356.9 364,357.8 364.4,354.9 364.4,354.7 364.5,364.3 364.8,357.4 365.1,358.2 365,360.8 365,359.4 365,365.5 364.8,363.1 365.1,358.3 365.3,370.3 365.3,366.7 365.6,357.1 365.3,363.3 365.5,359.8 365.5,365.4 365.7,358.2 365.7,356.6 366.2,353.8 365.8,364.3 366,359.4 366,350.3 366.3,354.9 366.3,364.1 366.1,354.3 366,352 366.5,362.5 366.3,362 366.4,361.6 366.3,360.5 366.5,356.6 366.7,370.4 366.5,357.3 366.7,356.2 367.1,368.3 367.1,365.2 366.9,369.8 366.8,358.1 367,358.2 367.1,351.6 367.6,366.3 367.6,353 367.8,363.1 367.8,361 367.5,359.8 367.5,353.2 367.6,366.4 367.6,361 367.5,358.2 367.7,362.5 367.8,363.9 367.5,355 367.9,364.5 367.9,362.9 368,366.2 367.8,355.8 368.4,351.5 368.5,359.2 368.7,351.7 368.6,365.2 368.9,360.7 369.2,351.6 369,353 368.9,351.5 369.5,354.6 369.7,358 369.6,354.4 369.4,360.5 369.6,351.8 370.2,339.1 370.1,354.7 369.8,355.2 370.2,352.7 369.8,355.3 369.9,351.9 370,348.7 370.6,351.6 370.7,344.8 370.4,348.8 370.6,352.5 370.3,343.4 370.5,343.9 370.5,353.7 371.2,358.8 371.5,347.3 371.4,337.2 371.5,346.5 371.6,341.8 371.7,351.3 372,340.3 372.2,350.1 372.2,343.5 372.1,346.3 372,344.6 372.2,345.8 372.6,350 372.3,345 372.5,348 372.4,342.2 372.5,357.7 372.6,347.7 372.5,363.8 372.7,350.2 372.3,351.6 373.3,348.9 373,347.9 372.9,347.7 373.2,357.3 373.1,354.2 373,349.9 372.9,341.8 373.7,352.9 373.3,353.5 373.4,353.9 373.7,355.2 373.4,352.8 373.5,349.8 373.3,348.2 373.7,353 373.4,351.8 374.1,348.6 374,338.1 374.2,350 374.1,345.7 374.6,351 374.8,349.4 374.7,343.8 374.7,361.1 374.6,352 375.1,361.9 375.3,356.9 375.3,353.2 375.1,353.3 374.9,361.8 375.4,348.5 375.6,357.5 375.4,356.6 375.4,355.4 375.6,347.6 375.6,356.7 375.8,355.4 376.2,350.4 375.9,359.3 376.5,349.8 376.6,346.4 376.6,346.4 376.7,345.9 376.7,348.4 376.6,334.3 376.4,346.2 376.7,341.7 376.7,343.2 376.6,350.2 376.5,352.4 376.7,343.2 376.6,345.4 377.3,353.2 377.2,350.6 376.9,345.8 376.9,353.1 376.8,347 376.9,360.8 377,350.3 377.1,349.9 377.8,358.8 377.4,351.3 377.7,350.9 377.7,351.5 377.8,349.7 377.5,354.1 377.8,342.3 377.8,354 377.9,353.2 378.2,347.1 378.2,364.5 378.1,357 378.2,356 378.2,362.7 378.2,360.1 378.6,347.4 378.7,349.9 378.8,352.6 378.4,350.2 378.7,346.4 378.8,351 378.4,351.6 379.2,349.9 379.2,350.9 378.9,350.3 379.1,352.5 378.9,352.5 378.9,346.5 378.9,345.7 378.8,354.1 378.8,352.4 379,342.2 379.5,352.9 379.4,354.3 379.6,349.9 379.6,355.2 379.6,344 379.5,347.9 379.6,352.9 380.3,349.8 380,350.6 379.9,348.2 380.2,352.3 380.1,347.6 380.2,356 379.9,351.2 380,354 380.3,347.8 380.3,348.7 380.6,349.2 380.5,347.8 380.4,349.2 380.6,351.5 380.6,346 380.8,346.7 380.5,348.7 380.5,350.5 381.1,343.8 381,345.8 381.1,340.7 381.8,351 381.7,354.4 381.7,347.1 382.1,349.6 382.2,342.6 381.9,355.1 382,352.3 382,344.6 382.2,352.7 381.9,343.5 382.1,333.5 382.6,351.4 382.5,342.4 382.6,343.1 382.5,347.7 382.8,340.4 382.9,349.8 383.2,340.8 383,351.6 382.9,351.2 383.6,337 383.7,344.1 383.5,343.6 383.8,343.6 383.8,343.9 383.6,337.7 384,349.5 384.3,347.9 384.1,340.1 384.3,350.6 384.1,358.4 384.2,343.3 384.8,353.5 384.5,334.6 384.7,344.9 385,341.2 385,345.7 385.2,335.1 384.9,349.4 385.2,343.4 385.6,349.5 385.8,356.8 385.5,349.1 385.7,343.9 385.7,353.6 385.4,344.5 385.6,350.6 385.5,354.9 385.3,348.1 385.6,347.7 385.8,344.6 386.2,352.3 386.3,346 386.2,341.6 385.9,335.9 386.4,337.3 386.5,342.2 386.7,351 386.6,348.3 386.4,346.2 386.3,346.6 386.5,340.4 387.2,334.4 387,350.6 387,349.6 387,348.7 387.2,343.8 387.5,344.2 387.7,350.9 387.6,351.5 387.7,349.5 388.1,349.8 388.1,359.8 387.9,352.5 388,350.2 388.1,347.6 387.9,347.2 388.1,347.1 388.3,352.5 388.1,343.7 388,340.9 388.5,348.2 388.4,350.6 388.6,341.9 388.7,343.4 388.7,345 389.1,343.6 389.1,345.7 389.1,360.2 389.1,352.3 388.9,347.5 389.4,347.9 389.5,353.6 389.7,358.1 389.5,354 389.5,355 389.3,355.8 389.8,347.6 389.3,346.8 389.4,349.6 389.9,346.6 389.8,346.1 390.1,351 390.1,354.1 389.8,356.4 389.9,331.9 390.1,349.6 390.1,344.3 390.3,357.5 390.5,354.7 390.7,345.2 390.4,351.8 391.2,356.5 391.2,350.4 391.1,350.1 391,354.7 391,350.7 390.9,351 390.9,360.1 391.6,343.6 391.4,351.2 391.3,345.6 391.7,348 391.4,356.2 391.9,354.3 392.2,356.3 391.8,355.9 391.9,349.4 392.3,344.7 392.1,343.7 392.2,344.8 392,341.3 392,355.8 391.8,345.6 392.3,351.1 392.5,358.5 392.5,358 392.5,352.6 392.5,346.6 392.6,353.1 393.1,347.1 393.3,341.7 393,351.7 393,345.9 393.1,353.7 393.3,353.6 393.6,350.7 393.7,352.1 393.7,363.1 394.2,349.1 394,347.3 394,354.4 394.5,359.8 394.5,357.5 394.7,348.7 394.4,355.7 394.5,347.6 394.5,345.1 394.6,344.3 395.2,352.8 395.2,348 395.1,357.5 394.9,353.1 394.9,354.3 394.9,353.9 394.8,344.8 394.9,345.8 395.1,352.5 395,343.9 395.8,347.4 395.4,345.8 395.4,342.8 395.4,347.1 395.6,340.8 395.4,350.1 396,345.3 395.8,355.2 396.3,361.9 395.9,348.1 395.8,357.5 396,359.4 396.7,363.1 396.4,348.2 396.6,356.3 396.5,353.2 396.8,347.6 396.9,358.3 396.8,351.8 397,347.4 397.2,343 397.2,363 396.8,351.6 397,354.5 396.9,348 397.6,354.6 397.6,349.7 397.5,345.8 397.4,355.8 397.5,357 397.3,348.3 398.1,353.3 398.1,344.4 397.9,349.2 398.3,352.3 398.4,357.1 398.7,346.6 399.1,357.5 398.9,353.4 399.1,357.7 398.8,354.5 398.8,358.6 399.1,348.9 399.2,351 399.2,354.9 398.9,347.5 399.4,346.9 399.8,357.3 399.5,358.7 399.6,354.2 399.7,348.9 399.7,353.1 399.4,352.7 400.3,358.5 399.9,357.7 399.9,357.7 399.9,356.2 400.6,355.8 400.4,353.8 400.3,352 400.5,349.8 400.3,362.2 401.2,360.7 400.8,361.6 401,357.9 400.9,355.5 401.3,361 401.3,359.7 401.2,363.7 401.1,356.7 401.2,362.4 400.9,360.8 401.2,353.7 401.1,356.8 401.4,360.2 401.3,345.9 401.5,354.8 401.8,352.7 402,352.8 402.3,361.8 401.8,358.3 402.1,364.1 402.3,353.4 402.1,354.6 401.9,354.9 402.1,347.5 401.9,352.9 402.8,357 402.5,353.2 402.5,354.2 402.6,346.3 402.7,348.4 402.5,346.3 402.4,358.6 402.3,351.4 402.4,348 403.2,354.5 403.2,358.5 403,350.5 403.2,358.7 402.9,350.1 402.8,363.5 403.4,353.6 403.7,364.8 403.6,359.7 403.6,353 403.8,352.8 404.1,356.6 403.9,361.6 403.8,354.4 404.3,355.9 404.1,356.8 404.3,353.1 404.5,359.8 404.5,359.4 404.7,351.6 404.5,344.7 404.7,358.6 404.6,362.2 404.7,362.9 404.3,348.1 404.5,357.2 405.1,357.2 405.2,358.3 405,358 404.9,356.9 404.9,352.4 405.2,361.6 405.1,364.6 404.9,353.3 405.1,357.4 405.6,347.3 405.5,352.5 405.7,356 405.6,365.5 405.5,358.6 405.6,362.9 405.5,355.1 405.8,357.3 405.5,365.8 406,365.8 406.2,358.9 406.1,365.6 406,356.6 406.1,363.9 406.7,366.6 406.7,361 406.6,372.8 406.4,357.2 406.4,359.5 406.8,359.9 406.7,360.3 406.6,353.5 406.8,375.4 406.9,367 407,362.6 407.7,365.5 407.6,363.2 407.4,363.5 407.6,370.1 407.5,368.1 407.5,370 408,368.5 407.8,375.9 407.8,374.1 408.2,368.7 408.1,364.4 408,372.6 408.7,365.1 408.8,367.6 408.3,365.1 408.9,369.8 409.2,359.5 409.2,369.9 409.3,362.4 409.3,366.6 409.1,369.6 408.8,371.4 409.6,371.4 409.6,371.9 409.6,369.4 409.3,374.5 409.3,366 410,374.6 410,370.3 410.2,367.9 410.1,373.3 410,371.4 410.1,367.5 409.8,373.4 410.3,366.6 410.7,367.6 410.7,369.7 410.5,371.1 410.7,372.4 410.7,363.7 410.3,361.9 410.4,371.2 410.5,369.5 410.4,363.3 410.5,374.8 410.3,362.8 411,380.6 411.6,358.3 411.3,366.9 411.6,369.3 411.4,364.4 411.5,367.7 412.2,363.7 411.9,372.8 411.9,368 411.9,372 412,370.6 412.4,366.8 412.4,376.4 412.3,366.7 412.7,375.1 412.3,363.5 412.9,363.2 413.3,384.3 413.1,375.2 413.1,365.5 413.6,377.9 413.7,374.8 413.6,379.8 413.7,367.9 413.8,375.4 413.6,374 413.5,377.1 413.4,376 413.4,375.1 414.2,369.5 414.3,382.3 414,368 414.1,374 413.9,371.7 414.3,377.1 414.1,367.4 414.5,376.4 414.5,380.2 414.5,369.3 414.4,370.4 414.7,370 414.5,371.4 414.6,371.1 414.8,371.7 415.2,378.2 415.3,375.5 415.1,382.2 415.3,378.3 415,377.5 415.6,381.2 415.4,376.9 415.4,378.5 415.4,375.2 415.8,376.2 415.5,377.5 416,379.1 415.8,375.2 416.3,375.5 416.2,376.1 416,373 416.2,382.5 415.9,385.1 416.2,364.7 416.4,379 416.3,372 416.4,366.9 416.6,378.8 416.6,374.9 416.8,368.8 416.8,387.1 416.5,376.1 416.9,379.7 417.1,380.4 416.9,381.8 417.3,376.3 417.8,384.6 417.5,389.9 417.7,379.4 417.7,382.9 417.4,377.2 417.8,379.4 417.6,386.7 417.9,376.6 418.1,377.9 418.2,379.6 418.2,377.3 418.1,370.6 417.9,380.9 418.2,372.1 417.8,379.9 418.1,374.2 418.2,372.5 418.1,377.7 418.6,383.6 418.7,378.2 419.2,379.7 418.9,377.7 419.1,378.7 419.1,376.5 419,379.2 419.1,378 419.2,378.7 419.3,376.3 418.8,378.5 419.7,376.4 419.8,377.6 419.7,375 419.6,377.4 419.7,370.2 419.7,384 419.8,373.4 420.2,374.7 419.9,377.7 420,379.6 420.5,378.7 420.5,371.6 420.5,377.9 420.6,377.8 420.4,375.7 420.5,374.7 421.1,392.1 421.3,385.6 421.3,382.3 421.3,387.4 420.9,386.9 420.8,380 420.9,378.9 420.9,378.6 421.4,380.2 421.6,377.1 421.5,380.3 421.5,380.3 421.8,376.1 421.6,379.2 421.5,372.8 422.1,380.8 421.9,381 422,379.1 421.9,377.9 421.9,376.6 421.9,378 422.7,377.2 422.5,369.4 422.3,384.8 422.3,383.4 422.8,379.5 422.4,378.7 422.5,386.6 422.4,375.6 423.1,380 423.1,374.9 423.3,379.7 422.9,378.2 423.1,377.5 423,378.8 423.1,378.8 422.9,385.5 422.9,378.5 423.6,378.3 423.7,384 423.3,380.7 423.4,375 423.8,383.2 423.3,379.9 423.6,385 423.6,382.6 423.5,382 423.6,382.1 423.9,376.3 423.9,376.4 423.8,379.4 424,376.4 424.3,382 423.9,383.4 424.4,375.3 424.5,383 424.5,378.6 424.4,379.1 424.4,371.7 424.6,387.1 425.1,388.6 425,387.3 425.1,379.7 424.8,384.8 425.4,385.5 425.6,382.2 425.8,378.5 425.8,383.9 426.1,374.9 425.9,381.3 426.3,383.4 426.7,377.1 427,371.3 427.2,382.1 427.2,377.9 426.8,376 427.1,377.6 427.3,378.1 427.1,382.2 427,376.6 427,380.9 426.8,377.5 427.1,377 427.8,377.1 427.7,378.3 427.6,384 427.3,380.3 427.7,378.9 427.6,377.3 427.9,374.1 428.3,374.9 428.1,383.1 428.2,378.5 428,377.8 428.1,382.8 428,373.2 428.2,379.3 428.7,377.1 428.3,375.9 428.3,380.8 428.7,377.8 428.6,379.1 428.4,376.5 429,376.3 429.2,383 429.2,379.9 429.2,374.9 429.5,378.5 429.3,385.4 429.4,378.3 429.8,379.6 429.6,382.2 429.6,376.2 429.7,379.4 430.1,374.6 430.2,376.6 429.9,378.8 430,379.9 430.4,377 430.4,379.6 431,371.7 430.8,375.7 430.9,378.5 431.1,378 431,377 431,376.6 431.3,378.1 431.4,376.8 431.8,375.8 431.3,374.2 431.3,376.6 431.6,383.5 432.2,371.1 432.1,378.1 431.9,381.5 432.3,376.9 432,365 431.9,369.7 432.1,374.1 432.4,373.5 432.3,375.2 432.4,384.6 432.5,373.1 432.9,370.7 433.1,379.6 433.1,375 433.3,374.9 433.2,370.5 433.3,385.3 433.5,388.1 433.7,384.1 433.5,383 433.3,379.8 433.6,385 433.9,388.4 434,384.1 433.9,381 434,382.8 434.7,385.7 434.4,386.7 434.4,382.7 434.6,389.7 434.6,379.6 434.7,381.8 434.5,381.8 434.5,390 434.7,389.6 434.8,383.7 435.6,385.1 435.5,384.8 435.4,390.8 435.4,385.5 436.3,388.6 436,384 436,383.2 436.2,380 436,389.7 435.8,386.3 435.9,385.9 435.8,387.5 435.8,384.3 436.6,391.9 437,388 437.1,385.5 437,386 437.3,391.5 437.3,388.1 436.8,396.6 437.2,388.9 437.5,384.4 437.4,378 437.3,386 437.9,389 438.1,382.8 438.2,386 437.9,390.2 438,388.5 437.9,392.4 438.1,385.8 438.5,378.8 438.4,386.9 438.4,384.1 438.3,389.2 439,383.8 439,381.1 439,380.2 439.7,378.7 439.6,382 439.3,384.8 439.6,378.1 439.4,380.6 440.1,381.4 440,384.8 440.2,384.8 440,376.9 440.7,377.3 441,379.7 441,379 441,373.7 441.1,381.8 440.9,385.5 441.3,381.9 441.1,378.1 441.3,374.2 440.8,375.1 441.1,382.1 441.8,383.1 441.5,383 441.4,381.7 441.8,375 441.4,374.4 441.3,379.2 441.6,382 441.8,374.3 441.5,379.6 442.3,376.2 442.1,379.9 442.1,383.8 441.8,375.8 442,380 442.5,382.4 442.5,376.4 442.4,385.7 442.6,380.6 442.5,377.3 443.2,385.6 443,383.8 443.1,380 443.8,384.1 443.6,383.4 443.4,378.7 443.5,379.6 443.5,378.7 443.8,378 444.3,382.8 444,381.5 443.9,384.8 444.6,387.3 444.4,388.1 444.7,386.1 444.5,377 444.8,388.4 445.3,385.3 444.9,381.3 444.9,381.4 445.1,390.4 444.9,386.6 445.7,380.9 445.5,382.3 446.2,386.6 445.9,381.1 446.1,388.5 446.4,391 446.3,386.7 446.7,386.2 446.4,389 447.2,388.9 446.8,388.2 447.1,396 447.6,390.7 447.3,392.2 447.8,389.3 447.4,393.6 447.6,390.4 447.7,392 447.9,386.7 448.1,388.4 447.8,389.7 448.7,386.9 448.7,390.6 448.5,384.6 448.5,384.7 448.4,391.6 448.7,388 448.8,387.4 449.5,393.9 449.8,387.6 449.4,388.7 449.5,390.3 449.7,392.5 450.3,389.1 450.8,393.3 450.5,392.9 450.3,390.2 450.6,393.6 450.7,390.9 450.4,398.3 451,401.1 451,390.6 450.8,391.6 450.9,393.3 451.6,398.5 451.5,396.5 451.9,392.9 452.1,393.4 451.9,394.2 452.1,394.9 452.2,394.8 452.7,395.4 452.7,392 452.6,396.5 452.4,397.1 452.3,390.2 453.1,394.3 453.4,394.7 453.6,396.6 453.3,398.6 454,393.1 453.9,390 454.5,397.1 454.5,394.5 454.5,403.9 455.2,401.2 455,394.1 455.1,396.6 455.6,397.4 456.2,392.7 456.3,394 456.3,399.9 456.1,398.8 456.4,403.2 456.8,397.4 456.6,396.7 456.8,395.8 456.4,398.2 456.6,401.5 456.5,398.5 456.4,395.5 456.3,407 456.6,395.7 456.7,395.1 456.3,393 457.1,394.7 457.1,396.5 457,393.2 457.2,399.7 457.6,393.9 457.7,394.3 458.2,392.2 457.9,395.3 458.2,391.9 458.2,396.8 458.6,400.1 458.4,392.3 458.5,387.6 458.8,392.3 458.6,398.1 458.6,396.3 458.8,399.3 458.8,399.6 459,393.2 459.2,393.3 459.3,400.6 459.1,394.9 459.3,396.1 459.8,400.6 459.7,393.5 460.1,397.9 460.1,400.5 460.4,397.4 460.7,392.7 460.6,399.3 460.4,393.8 460.5,393.6 460.4,394.4 460.6,394.6 461.3,398.8 460.9,394.2 460.9,396.4 461.1,395 461,396.4 461.2,391.4 461.7,395.7 461.6,395 462.1,400.9 462.2,401.3 462.1,396.2 461.8,395.1 462.7,398.1 462.5,397.2 462.6,398.7 463.2,393.4 463.2,394.1 463,396.6 463.1,395.3 463.2,399.2 463.7,395.6 463.5,395 463.5,399 463.5,396.6 463.9,396.2 463.9,397.1 464.1,398.2 464.1,398.9 464.5,404.9 464.6,395.8 464.3,399.9 464.4,399.1 464.5,398.3 464.9,401.3 465.6,401.2 465.4,400 465.5,395.3 465.8,395.4 466,394.5 465.8,393.4 466.1,397.6 466.2,400.2 466.5,397.7 466.6,393.3 466.5,391.1 466.9,394.6 467.5,394.9 467.5,390.3 467.8,392.3 467.8,389.3 468.4,390.8 468.6,393.3 468.6,388.4 468.5,388.9 469,388.5 468.8,386.7 469,392.2 469.1,391.9 469.4,390 469.8,393.4 470.2,385.4 470.7,386.9 470.7,385.3 470.5,386 471.5,386.1 471.5,385.5 472,380.9 472,383.5 472.4,389.3 472.7,388.2 472.7,390.5 472.3,386.4 472.7,387.7 472.6,387.9 472.3,385.8 473.2,388.1 473,388.7 472.9,385.1 473.4,392 473.7,389.7 473.7,387.6 473.8,389.5 473.8,388.8 473.8,386.1 473.9,389.7 474.2,386.6 474.2,387.9 473.9,389.2 473.9,390.9 474.6,388.6 474.4,395.1 474.5,392.2 474.3,392.1 474.4,391.4 475.1,390 474.9,389.4 475.7,393.8 475.5,396.8 475.6,393.7 475.5,394.2 475.7,393.1 475.5,391.1 475.3,394 476.1,396 475.9,394 476,394.6 476.7,399.1 477,400.2 477.1,402.6 476.9,400.6 477.5,401.7 477.7,398.2 477.5,399 477.3,397.8 478.1,403.9 478.2,401.7 477.8,404.3 478.8,401.7 479.2,397.6 479.1,404.9 478.8,399.8 479.4,400.3 479.5,400.2 479.6,400 479.5,397.7 479.3,400.8 479.6,398.1 480.1,397.8 480.2,401 480.1,395.7 480.2,397.7 480.1,394.6 480.4,405.7 480.8,401.2 480.8,402.8 480.8,403.8 481.2,402.6 481.3,400.6 480.9,406.1 481.6,403.2 481.5,406.8 481.7,405.5 481.6,405.9 481.6,403.7 481.5,405.7 481.5,404.8 482,406.9 482.2,406 482.5,404.5 482.8,403.4 482.5,403.5 482.7,402.1 482.3,404.1 483.3,397.1 483.2,401.3 482.9,400.8 483.8,402.7 483.5,401.2 483.4,402 483.4,401.7 483.7,401.7 484,400.4 484,400.8 483.8,399.9 483.9,400.2 484,401.1 484.7,398.2 484.5,397.4 484.6,398.5 484.9,400.7 485.2,398.7 485.2,401.7 485.7,399.7 485.5,401.9 485.4,397.3 486.1,402 486.3,396.2 486.1,401.1 486.3,401.9 486.6,400.3 486.6,401.2 486.7,404.9 487.1,401.6 487.2,399.1 487.1,402.1 487.1,403.2 487.4,401.1 487.5,403.2 487.7,402.1 487.6,399.4 487.7,399.3 487.3,402 487.6,401.3 487.5,401.7 488,401 488,399.1 488,399.9 488.1,399.5 488.4,400.5 489,401.4 489.3,407.5 489.5,407.5 489.8,404.8 489.7,403.6 489.6,403.9 489.6,401.8 489.4,402.4 489.6,403.9 489.4,405.9 490.1,404.1 490.1,406.7 490.2,407.9 490,409.3 490,406.4 490.6,411.7 490.4,406.5 490.3,408.2 490.5,409.8 490.6,411.2 491,413.3 491,413.5 491.1,411.2 491,413.6 491.5,412.3 491.9,413.1 492.1,414 492,414.1 492.6,414.6 492.7,415.9 493.1,415.5 493.1,417.7 493,420.1 493,417.3 493.1,418.4 493.3,417.7 493.7,416.8 494.2,417.2 493.8,419.1 494.1,420.9 493.9,420.9 494,418 494.2,421.2 494.8,420.3 494.6,420.7 494.4,421.8 494.9,423.1 495.5,423 496.2,426.8 496.2,423.7 496.3,425.5 496.5,429.5 496.8,428.7 497.2,428.1 496.8,425.7 497.2,430.3 497.1,429.9 497.4,428.6 498.5,430.3 499.2,432.8 499.1,435.7 500.3,432.8 499.8,434.2 500.1,435.6 499.8,432.4 500.4,430.1 500.9,433 501.3,433.8 502.2,434.2 502.5,432.3 502.8,434.1 502.5,430 503,433 503.1,433.3 502.8,432.6 503,433.1 503.6,431.2 503.3,431.9 503.7,431.3 504.7,429.5 505,429.2 505.8,431.1 505.8,429.2 506.1,430.3 506.7,429.3 507.5,429.8 508,430.4 508.2,430.7 508,430.5 509.3,430.9 509.2,431.1 509.8,429.4 509.8,430.4 509.9,429.2 510.3,430.4 510.7,429.9 510.8,428.9 511.8,428.1 512.5,428.4 512.5,428 513.1,429 513.5,427.8 513.7,427.9 515.4,424.6 515.4,427.5 516.3,423.9 516,426.1 516.7,425.1 516.4,425.9 517.1,425.4 517,424.9 517.5,424.4 517.9,423.4 520.2,420.8 520.4,419.3 521.1,421.6 521.1,420.5 522.6,418.3 522.9,418.6 523.9,416.5 524.8,414.7 524.9,415.7 526.8,411.5 527.3,410.4 527.1,410.7 527.3,410.5 527.1,410.8 527.2,408.8 527.7,409.5 527.3,409.8 527.9,409.3 528.1,407.5 527.9,409 528.6,408.5 528.8,407.9 529.3,408.4 531.2,405.9 531.2,408.7 532.3,405.3 532.5,404.7 532.5,405.7 533.6,406 533.8,405.2 533.9,405.2 534.7,403.6 534.5,405.2 535.2,403.3 536.1,404.4 536,406.5 536.4,404.9 536.8,403.4 536.9,403.8 537.8,404.9 538.7,402.5 538.4,402.8 538.8,404.2 539.4,403.3 540.1,401.5 540,402.6 540.8,403.6 541.3,402.8 541.7,402.8 542.5,404 543.3,402.4 543,401.9 543.5,401.1 543.8,400.8 543.6,401.1 543.9,401 545,400.4 544.9,401.2 545.4,397.7 547.1,396.2 549.2,394 549.7,393.4 551.9,393.8 552,392.1 552.8,390.8 552.4,391.8 552.6,392.4 553,390.9 553.6,390.6 553.6,391.1 554.7,390.8 555,390.7 556.2,389.5 557.1,388.7 557.8,388.1 557.5,389.9 558,388.2 557.8,388.8 559.8,388.3 559.6,388.4 560.6,387.7 561.9,387.4 562.6,387.1 562.3,386 563.8,386.8 563.4,386.6 564.1,386.2 564.9,388.4 566.5,387 567.3,387.1 567.6,387.6 567.9,388.4 568.3,387.8 568.5,386.8 569.1,385.3 570.5,386.4 571.5,388.8 571.8,386.3 572.4,388 572.3,388 573.2,384.6 573.3,387.7 575.4,386.5 576.9,387 577.3,386.1 577.8,386.8 577.4,385.8 578.5,387 580.1,384.8 580.9,385 580.9,385.3 582,384.3 582,385.6 583.9,382.7 583.8,383.3 584.1,383.7 584.7,382.9 584.4,383.4 586.6,384.4 587.5,382 587.9,380.5 587.9,382.5 588,381.9 588.7,382 589.2,381.8 589.3,381.7 589.5,381.5 590.1,381.7 591,380.1 591.4,380.3 591.8,381.4 593.1,381.2 594,379.1 594.4,380.3 595,380.6 594.8,379.6 594.9,379.8 594.9,380.5 595.5,379.7 595.5,379.2 596.7,380.3 597.8,380.1 597.5,379 598.1,379.3 598.5,378.5 599.8,379.2 600.2,379.7 600.3,379.3 601.3,377.2 601.3,379.1 601.2,379.1 600.9,379.7 602.1,378.7 603.1,379.1 603.6,377.5 603.4,377.3 604,378.9 604.7,377.8 604.4,377 604.3,378.7 606,378.6 606.5,377.3 607.1,377.7 608.4,377.2 609,377.8 609.9,376.8 610.6,378.6 610.9,377.1 610.9,376.5 612.2,377.3 612.3,375.2 613.2,376.4 613.9,375.9 613.8,375.4 614.4,375.2 614.5,375 615.2,375.7 615.9,374.7 618.1,372.9 617.8,375.8 617.9,373.9 618.8,373.5 618.4,373 618.5,373 619.7,374.4 620,373.9 620,373.6 620.6,373.9 621.2,372.9" marker-start="url(#mg)" marker-mid="url(#mg)" marker-end="url(#mg)"/>
<path d="M113.8,327.7 114.8,328.3 115.8,328.9 116.8,329.5 117.8,330.2 118.8,331.1 119.8,332.1 120.8,333.1 121.8,334.1 122.8,335 123.8,335.8 124.8,336.6 125.8,337.5 126.8,338.2 127.8,338.4 128.8,338.5 129.8,338.7 130.8,338.8 131.8,338.9 132.8,339 133.8,338.5 134.8,337.9 135.8,337.4 136.8,336.8 137.8,336.5 138.8,336.7 139.8,336.8 140.8,337 141.8,338.2 142.8,340.1 143.8,342.1 144.8,344.7 145.8,347.7 146.8,350.7 147.8,353.1 148.8,355.1 149.8,357.1 150.8,358.5 151.8,359.3 152.8,360.2 153.8,361 154.8,361.8 155.8,362 156.8,362.1 157.8,362.3 158.8,362.4 159.8,362.6 160.8,362.3 161.8,361.8 162.8,361.3 163.8,360.8 164.8,360.7 165.8,362.2 166.8,363.8 167.8,367.3 168.8,371.3 169.8,373.9 170.8,375.1 171.8,376.4 172.8,376.9 173.8,376.6 174.8,376.2 175.8,375.9 176.8,375.6 177.8,374.9 178.8,374.2 179.8,373.6 180.8,372.9 181.8,371.9 182.8,370.4 183.8,368.9 184.8,367.4 185.8,365.9 186.8,364.1 187.8,362.1 188.8,360.1 189.8,358.1 190.8,356.3 191.8,354.7 192.8,353.2 193.8,351.6 194.8,350.1 195.8,348.6 196.8,347.1 197.8,345.7 198.8,344.2 199.8,342.9 200.8,342.5 201.8,342.2 202.8,341.8 203.8,341.5 204.8,341.7 205.8,342.2 206.8,342.9 207.8,343.4 208.8,344 209.8,344.4 210.8,344.7 211.8,345 212.8,345.4 213.8,345.5 214.8,345.3 215.8,345.2 216.8,345 217.8,344.9 218.8,344.8 219.8,344.6 220.8,344.6 221.8,344.5 222.8,344.5 223.8,344.4 224.8,344.4 225.8,344.3 226.8,344.1 227.8,343.9 228.8,343.7 229.8,343.5 230.8,343.2 231.8,342.9 232.8,342.5 233.8,342.2 234.8,341.9 235.8,341.4 236.8,341 237.8,340.5 238.8,340.1 239.8,339.8 240.8,339.7 241.8,339.5 242.8,339.3 243.8,339.2 244.8,339.3 245.8,339.5 246.8,339.7 247.8,339.9 248.8,339.7 249.8,339.2 250.8,338.7 251.8,339.3 252.8,340.4 253.8,341.1 254.8,339.7 255.8,338.4 256.8,337.1 257.8,335.9 258.8,334.8 259.8,334.8 260.8,334.9 261.8,335 262.8,335 263.8,334.9 264.8,333.9 265.8,332.8 266.8,332.3 267.8,333.2 268.8,332.5 269.8,331.7 270.8,332.4 271.8,333.5 272.8,334.9 273.8,335.5 274.8,335.3 275.8,335.4 276.8,336.4 277.8,337.5 278.8,338.7 279.8,340.4 280.8,342 281.8,343.8 282.8,345.6 283.8,346.8 284.8,347.6 285.8,348.3 286.8,349 287.8,349.5 288.8,350 289.8,350.5 290.8,350.8 291.8,351.1 292.8,351.9 293.8,353.2 294.8,354.4 295.8,355.1 296.8,355.6 297.8,355.1 298.8,354.4 299.8,353.6 300.8,353.2 301.8,354.4 302.8,355.6 303.8,356.2 304.8,356.9 305.8,357.5 306.8,358.4 307.8,360.2 308.8,362.2 309.8,363.9 310.8,365.5 311.8,366.2 312.8,366 313.8,368.6 314.8,371.2 315.8,372.9 316.8,372.9 317.8,371.3 318.8,369.3 319.8,367.2 320.8,365.9 321.8,366.6 322.8,367.3 323.8,368.4 324.8,369.5 325.8,369.9 326.8,368.6 327.8,367.2 328.8,365.8 329.8,364.3 330.8,363.1 331.8,362.1 332.8,361.6 333.8,362.3 334.8,363.1 335.8,363.4 336.8,363.7 337.8,363.5 338.8,363.1 339.8,362.4 340.8,361.2 341.8,360 342.8,359 343.8,358.4 344.8,358.1 345.8,358.4 346.8,359.6 347.8,360.9 348.8,362.2 349.8,363.5 350.8,362.4 351.8,360.1 352.8,358.7 353.8,358.2 354.8,357.8 355.8,357.9 356.8,358.3 357.8,359.3 358.8,360.4 359.8,360.6 360.8,360.4 361.8,360.7 362.8,361.8 363.8,362.8 364.8,363.8 365.8,364.7 366.8,364.3 367.8,362 368.8,359.2 369.8,356.2 370.8,355.1 371.8,355.4 372.8,355.6 373.8,356.1 374.8,356.5 375.8,356.8 376.8,356.9 377.8,356.8 378.8,355.7 379.8,354.4 380.8,353.2 381.8,352.1 382.8,351.7 383.8,351.5 384.8,351.5 385.8,351.7 386.8,352.2 387.8,353.5 388.8,354.9 389.8,356 390.8,355.6 391.8,354.9 392.8,355 393.8,355.8 394.8,355.4 395.8,354.7 396.8,355.1 397.8,357.2 398.8,358.5 399.8,358.8 400.8,358.3 401.8,357.8 402.8,359.5 403.8,361.4 404.8,364.2 405.8,367.2 406.8,369.7 407.8,372 408.8,373.6 409.8,373.9 410.8,374.7 411.8,376.6 412.8,378.1 413.8,379.2 414.8,380.4 415.8,381.8 416.8,383.2 417.8,383.7 418.8,384 419.8,384.3 420.8,384.6 421.8,384.9 422.8,385.2 423.8,384.9 424.8,384.6 425.8,384.3 426.8,383.6 427.8,382.9 428.8,383.2 429.8,384 430.8,381.7 431.8,382 432.8,385.7 433.8,388.6 434.8,390.7 435.8,391.8 436.8,391.4 437.8,390.9 438.8,388.3 439.8,385.3 440.8,384.5 441.8,384.1 442.8,385.5 443.8,387.4 444.8,389.3 445.8,391.4 446.8,393.2 447.8,394.3 448.8,395.4 449.8,396.5 450.8,397.7 451.8,398.8 452.8,399.9 453.8,400.8 454.8,401.5 455.8,400.9 456.8,399.9 457.8,400.2 458.8,401.4 459.8,402 460.8,401.4 461.8,400.8 462.8,401.4 463.8,403 464.8,404.1 465.8,402.1 466.8,399.7 467.8,397 468.8,394.3 469.8,392.7 470.8,391.8 471.8,391.5 472.8,391.8 473.8,392.4 474.8,395.3 475.8,398.6 476.8,402.6 477.8,405 478.8,402.2 479.8,401.8 480.8,405.3 481.8,406.7 482.8,404.8 483.8,403.3 484.8,403.5 485.8,404 486.8,404 487.8,403.9 488.8,406.1 489.8,410 490.8,413.6 491.8,416.4 492.8,419.2 493.8,422 494.8,425 495.8,428 496.8,431 497.8,434.1 498.8,435 499.8,434.8 500.8,434.6 501.8,434 502.8,433.2 503.8,432.5 504.8,432.3 505.8,432.6 506.8,432.8 507.8,432.5 508.8,431.9 509.8,431.2 510.8,430.5 511.8,429.8 512.8,428.9 513.8,427.9 514.8,426.9 515.8,425.9 516.8,424.9 517.8,423.7 518.8,422.6 519.8,421.4 520.8,420.3 521.8,419 522.8,417.2 523.8,415.3 524.8,413.5 525.8,411.6 526.8,410.1 527.8,408.9 528.8,407.7 529.8,406.9 530.8,406.6 531.8,406.2 532.8,405.9 533.8,405.5 534.8,405.1 535.8,404.6 536.8,404.1 537.8,403.6 538.8,403.2 539.8,403 540.8,402.8 541.8,402.6 542.8,401.4 543.8,399.4 544.8,397.4 545.8,395.9 546.8,394.5 547.8,393.1 548.8,392.2 549.8,391.7 550.8,391.2 551.8,390.6 552.8,390.1 553.8,389.5 554.8,388.9 555.8,388.2 556.8,387.6 557.8,386.9 558.8,386.3 559.8,385.7 560.8,385.2 561.8,384.9 562.8,385.1 563.8,385.3 564.8,385.4 565.8,385.6 566.8,385.5 567.8,385.4 568.8,385.2 569.8,385 570.8,384.9 571.8,384.7 572.8,384.5 573.8,384.4 574.8,384.2 575.8,384 576.8,383.9 577.8,383.7 578.8,383.3 579.8,382.8 580.8,382.3 581.8,381.8 582.8,381.4 583.8,380.9 584.8,380.6 585.8,380.3 586.8,380 587.8,379.7 588.8,379.4 589.8,379.1 590.8,378.9 591.8,378.6 592.8,378.4 593.8,378.2 594.8,378 595.8,377.7 596.8,377.4 597.8,377.1 598.8,376.8 599.8,376.5 600.8,376.2 601.8,376 602.8,375.8 603.8,375.7 604.8,375.6 605.8,375.5 606.8,375.4 607.8,375.3 608.8,375 609.8,374.7 610.8,374.4 611.8,374.1 612.8,373.8 613.8,373.5 614.8,373.1 615.8,372.7 616.8,372.3 617.8,371.9 618.8,371.5 619.8,371.1 620.8,370.7 620.8,376.2 619.8,376.6 618.8,377 617.8,377.4 616.8,377.8 615.8,378.2 614.8,378.6 613.8,379 612.8,379.3 611.8,379.6 610.8,379.9 609.8,380.2 608.8,380.5 607.8,380.8 606.8,380.9 605.8,381 604.8,381.1 603.8,381.2 602.8,381.3 601.8,381.5 600.8,381.8 599.8,382 598.8,382.3 597.8,382.6 596.8,382.9 595.8,383.2 594.8,383.5 593.8,383.7 592.8,383.9 591.8,384.1 590.8,384.4 589.8,384.6 588.8,384.9 587.8,385.2 586.8,385.5 585.8,385.8 584.8,386.1 583.8,386.4 582.8,386.9 581.8,387.3 580.8,387.8 579.8,388.3 578.8,388.8 577.8,389.2 576.8,389.4 575.8,389.5 574.8,389.7 573.8,389.9 572.8,390 571.8,390.2 570.8,390.4 569.8,390.5 568.8,390.7 567.8,390.9 566.8,391 565.8,391.1 564.8,390.9 563.8,390.8 562.8,390.6 561.8,390.4 560.8,390.7 559.8,391.2 558.8,391.8 557.8,392.4 556.8,393.1 555.8,393.7 554.8,394.4 553.8,395 552.8,395.6 551.8,396.1 550.8,396.7 549.8,397.2 548.8,397.7 547.8,398.6 546.8,400 545.8,401.4 544.8,402.9 543.8,404.9 542.8,406.9 541.8,408.1 540.8,408.3 539.8,408.5 538.8,408.7 537.8,409.1 536.8,409.6 535.8,410.1 534.8,410.6 533.8,411 532.8,411.4 531.8,411.7 530.8,412.1 529.8,412.4 528.8,413.2 527.8,414.4 526.8,415.6 525.8,417.1 524.8,419 523.8,420.8 522.8,422.7 521.8,424.5 520.8,425.8 519.8,426.9 518.8,428.1 517.8,429.2 516.8,430.4 515.8,431.4 514.8,432.4 513.8,433.4 512.8,434.4 511.8,435.3 510.8,436 509.8,436.7 508.8,437.4 507.8,438 506.8,438.3 505.8,438.1 504.8,437.8 503.8,438 502.8,438.7 501.8,439.5 500.8,440.1 499.8,440.3 498.8,440.5 497.8,439.6 496.8,436.5 495.8,433.5 494.8,430.5 493.8,427.5 492.8,424.7 491.8,421.9 490.8,419.1 489.8,415.5 488.8,411.6 487.8,409.4 486.8,409.5 485.8,409.5 484.8,409.1 483.8,408.9 482.8,410.4 481.8,412.4 480.8,411.1 479.8,407.6 478.8,408.1 477.8,411 476.8,408.6 475.8,404.7 474.8,401.4 473.8,398.6 472.8,398 471.8,397.8 470.8,398.1 469.8,398.7 468.8,400.3 467.8,403 466.8,405.7 465.8,408.1 464.8,410.1 463.8,409 462.8,407.5 461.8,406.8 460.8,407.5 459.8,408.1 458.8,407.5 457.8,406.3 456.8,406 455.8,407 454.8,407.7 453.8,407 452.8,406.1 451.8,405 450.8,403.9 449.8,402.8 448.8,401.7 447.8,400.6 446.8,399.5 445.8,397.7 444.8,395.7 443.8,393.7 442.8,391.9 441.8,390.5 440.8,390.9 439.8,391.8 438.8,394.8 437.8,397.3 436.8,397.9 435.8,398.3 434.8,397.2 433.8,395.1 432.8,392.3 431.8,388.6 430.8,388.2 429.8,390.6 428.8,389.8 427.8,389.6 426.8,390.3 425.8,391 424.8,391.4 423.8,391.7 422.8,392 421.8,391.8 420.8,391.5 419.8,391.2 418.8,391 417.8,390.7 416.8,390.2 415.8,388.9 414.8,387.5 413.8,386.4 412.8,385.3 411.8,383.8 410.8,381.9 409.8,381.2 408.8,380.9 407.8,379.3 406.8,377.1 405.8,374.6 404.8,371.6 403.8,368.8 402.8,366.9 401.8,365.3 400.8,365.8 399.8,366.3 398.8,366 397.8,364.8 396.8,362.6 395.8,362.2 394.8,363 393.8,363.3 392.8,362.6 391.8,362.5 390.8,363.2 389.8,363.6 388.8,362.5 387.8,361.1 386.8,359.8 385.8,359.3 384.8,359.1 383.8,359.1 382.8,359.3 381.8,359.7 380.8,360.8 379.8,362 378.8,363.3 377.8,364.4 376.8,364.5 375.8,364.4 374.8,364.2 373.8,363.7 372.8,363.2 371.8,363 370.8,362.7 369.8,363.8 368.8,366.8 367.8,369.6 366.8,371.9 365.8,372.3 364.8,371.4 363.8,370.5 362.8,369.4 361.8,368.4 360.8,368.1 359.8,368.3 358.8,368.1 357.8,366.9 356.8,365.9 355.8,365.6 354.8,365.4 353.8,365.8 352.8,366.4 351.8,367.8 350.8,370 349.8,371.2 348.8,369.9 347.8,368.6 346.8,367.3 345.8,366 344.8,365.8 343.8,366 342.8,366.6 341.8,367.7 340.8,368.8 339.8,370.1 338.8,370.8 337.8,371.2 336.8,371.4 335.8,371.1 334.8,370.8 333.8,370 332.8,369.3 331.8,369.8 330.8,370.8 329.8,372 328.8,373.5 327.8,374.9 326.8,376.3 325.8,377.6 324.8,377.2 323.8,376.1 322.8,374.9 321.8,374.2 320.8,373.5 319.8,374.8 318.8,377 317.8,378.9 316.8,380.6 315.8,380.5 314.8,378.8 313.8,376.2 312.8,373.6 311.8,373.8 310.8,373.1 309.8,371.5 308.8,369.8 307.8,367.8 306.8,365.9 305.8,365.1 304.8,364.4 303.8,363.8 302.8,363.1 301.8,361.9 300.8,360.7 299.8,361.1 298.8,361.9 297.8,362.6 296.8,363.1 295.8,362.5 294.8,361.8 293.8,360.7 292.8,359.4 291.8,358.6 290.8,358.3 289.8,357.9 288.8,357.5 287.8,356.9 286.8,356.4 285.8,355.7 284.8,354.9 283.8,354.1 282.8,352.9 281.8,351.2 280.8,349.4 279.8,347.7 278.8,346.1 277.8,344.8 276.8,343.7 275.8,342.7 274.8,342.6 273.8,342.8 272.8,342.2 271.8,340.8 270.8,339.7 269.8,338.9 268.8,339.7 267.8,340.4 266.8,339.6 265.8,340 264.8,341.1 263.8,342.1 262.8,342.3 261.8,342.2 260.8,342 259.8,341.8 258.8,341.8 257.8,342.8 256.8,343.9 255.8,345.1 254.8,346.2 253.8,347.3 252.8,346.5 251.8,344.8 250.8,344.2 249.8,344.7 248.8,345.2 247.8,345.4 246.8,345.2 245.8,345 244.8,344.8 243.8,344.7 242.8,344.8 241.8,345 240.8,345.2 239.8,345.3 238.8,345.6 237.8,346 236.8,346.5 235.8,346.9 234.8,347.4 233.8,347.7 232.8,348 231.8,348.4 230.8,348.7 229.8,349 228.8,349.2 227.8,349.4 226.8,349.6 225.8,349.8 224.8,349.9 223.8,349.9 222.8,350 221.8,350 220.8,350.1 219.8,350.1 218.8,350.3 217.8,350.4 216.8,350.5 215.8,350.7 214.8,350.8 213.8,351 212.8,350.9 211.8,350.5 210.8,350.2 209.8,349.9 208.8,349.5 207.8,348.9 206.8,348.4 205.8,347.8 204.8,347.2 203.8,347 202.8,347.3 201.8,347.7 200.8,348 199.8,348.4 198.8,349.7 197.8,351.2 196.8,352.6 195.8,354.1 194.8,355.6 193.8,357.1 192.8,358.7 191.8,360.2 190.8,361.8 189.8,363.6 188.8,365.6 187.8,367.6 186.8,369.6 185.8,371.4 184.8,372.9 183.8,374.4 182.8,375.9 181.8,377.4 180.8,378.4 179.8,379.1 178.8,379.7 177.8,380.4 176.8,381.1 175.8,381.4 174.8,381.7 173.8,382.1 172.8,382.4 171.8,381.9 170.8,380.6 169.8,379.4 168.8,376.8 167.8,372.8 166.8,369.3 165.8,367.7 164.8,366.2 163.8,366.3 162.8,366.8 161.8,367.3 160.8,367.8 159.8,368.1 158.8,367.9 157.8,367.8 156.8,367.6 155.8,367.5 154.8,367.3 153.8,366.5 152.8,365.7 151.8,364.8 150.8,364 149.8,362.6 148.8,360.6 147.8,358.6 146.8,356.2 145.8,353.2 144.8,350.2 143.8,347.6 142.8,345.6 141.8,343.7 140.8,342.5 139.8,342.3 138.8,342.2 137.8,342 136.8,342.3 135.8,342.9 134.8,343.4 133.8,344 132.8,344.5 131.8,344.4 130.8,344.3 129.8,344.2 128.8,344 127.8,343.9 126.8,343.7 125.8,343 124.8,342.1 123.8,341.3 122.8,340.5 121.8,339.6 120.8,338.6 119.8,337.6 118.8,336.6 117.8,335.7 116.8,335 115.8,334.4 114.8,333.8 113.8,333.2Z" fill="#ff6e6e"/>
<path d="M114,329.3 114.2,330.9 114.7,331 115,330.9 115.4,331 116.8,333.1 116.9,332.1 117.2,331.2 117.3,332.4 117.5,332.1 117.6,332.7 118.1,332.1 118.2,333 118.9,334.5 119.2,334.7 119.2,334.7 119.6,334.4 120.1,334.4 120.3,335.5 120.8,336.5 121.3,336.6 121.3,335.2 121.4,336.9 121.4,336.5 121.9,337.2 122.5,337 123.6,336.8 123.9,338.9 124,339.2 124.3,338.9 125.5,339.8 125.5,340.2 125.9,342.5 126,338 128.3,341.2 128.6,341.1 128.6,340.9 129.1,341.2 129.6,341.1 130.4,340.5 130.4,343.4 131,340.5 131.4,342.2 131.5,341 131.7,343.4 132.6,341.8 133.5,340.5 133.8,342.7 135.1,341.5 135.3,340.5 135.5,341.5 136.1,338.6 136.7,338.9 136.9,338.9 137.3,338.4 137.3,338.7 137.6,338.8 137.9,339.1 138.4,340 141.3,339.1 141.3,340.3 141.4,340.2 141.5,338.9 141.6,339.5 141.9,341.3 142,341.5 142.4,341.3 143,343 144.3,343.2 144.5,346 145.8,348.4 146,349.8 147.1,353.2 147.2,354.3 147.3,355 147.8,356 147.9,356 148.1,355.2 148.8,356.3 148.9,359.1 149.1,358 149.3,360.1 149.4,358.1 150.3,359.2 150.8,360.4 151.9,363.1 152.2,361.6 152.4,362.5 152.5,363.9 152.9,363.4 153.6,363.9 155,363 156.2,365.5 156.5,364.8 156.5,365.7 157.1,363.8 157.6,363.5 158.2,364 158.5,365.6 159,366.1 159.5,366.3 160.6,363.8 160.8,365.1 161.6,363.6 161.9,363.1 162.4,365.4 163,363 163.1,364.9 163.2,364.8 163.9,364.1 164.6,362.8 165,365 165.1,363.3 165.6,363.1 165.9,365.2 165.9,366.2 166.6,367.7 167.2,366.1 167.4,369.7 167.8,370.5 167.9,369.7 168.2,370.1 168.3,369.9 168.5,372.3 170.5,377.7 170.9,377.8 171.4,378.2 171.5,378.8 171.7,378.7 171.9,379.4 172.5,378.4 173.6,380.1 173.9,378.6 174,380.8 174.6,379.8 175,377.5 175.8,380.1 175.8,377 176.3,379.4 176.6,379.4 176.6,380.2 176.7,379.2 177.5,378.1 180.9,376.4 181.1,375.8 181.7,376.8 181.8,375.3 182.8,374.5 183,372.8 183.1,373.9 183.2,372.9 183.3,373.4 184.7,370.6 185,369.8 186.3,367.9 186.3,366.5 186.4,367.5 186.7,366.5 186.7,367.3 188.6,364.6 188.6,363.2 188.8,365.3 189.4,361.1 189.6,361.5 189.7,361.6 189.9,360.9 190.2,360.2 190.9,358 191.2,359.2 191.4,356.3 191.8,357.8 192,356.8 192.5,356.8 193,354.6 193.1,356.2 193.2,356.7 194.5,353.2 194.5,354.9 194.8,351.2 195.8,351.9 196.7,350.1 197.5,348.7 199.2,347.2 199.2,348.4 199.7,346.4 200.2,347.2 202.1,345.8 202.7,345.9 203.7,345 203.8,344.7 204.4,345.1 204.6,345.3 205.3,343.3 206.4,344 206.8,345.5 208.4,344.9 208.5,348 208.9,346.4 209.3,346.7 209.4,346.7 209.8,348 210.3,346.3 210.6,347.1 211.3,348.8 211.4,347 211.7,346.6 212.4,348.3 212.9,347 213.1,347.7 214.2,347.6 214.3,348.1 214.4,349.1 216.2,348.1 216.4,348.1 216.7,347.4 217,346.7 217.9,348.8 219.8,348 220.2,347.6 221.4,347 221.6,348 221.9,346.7 222.9,347 223.1,347.1 223.1,347.3 223.1,346.5 223.2,348.5 224.3,346.5 224.5,347.2 224.5,349.1 224.5,347.8 225.7,347.9 225.9,345.6 226.8,346.6 226.8,346.8 226.9,347.9 227,346.8 227.3,346.4 227.8,346.6 228.2,346.4 228.6,346.9 228.6,345.2 229.8,346.3 230.8,346.9 231.9,346.3 232,346.4 232.3,347.3 233,344.7 233.7,344.3 234.4,343.7 235.8,346.4 235.8,343.7 236.1,345 236.2,343.4 236.4,344.5 237.1,343.4 237.3,343.7 237.5,344.2 237.7,344.3 238.2,342.2 239,341.5 239.6,342.4 239.8,341.7 240.3,343 241.3,343.2 241.4,342.7 241.6,344.1 242.2,341.8 242.3,339.5 242.4,342.6 243,341.3 243.5,342.7 243.7,341.5 243.9,342.1 244.2,342.8 244.6,341.5 244.7,343.1 245.6,342.8 245.9,342.4 246.2,341.3 246.5,342 246.8,344 246.9,342.3 247.4,343.1 247.7,342 248.1,343.7 248.2,342.1 248.4,341.6 248.5,341.9 248.6,342.6 248.9,341.5 249.5,342 249.8,343.2 250.1,344 250.3,341.9 250.8,342.2 251.4,342.7 251.5,339 251.6,339.3 251.6,338 251.7,341.5 251.7,337.4 251.8,339.9 251.8,338 252.1,341.4 252.3,347.9 252.4,341.7 252.4,344.6 252.5,344.8 252.6,343.4 252.8,344 252.8,345.3 252.8,348.2 253,347.1 253.1,341.7 253.1,342.2 253.1,341.4 253.2,341.5 253.2,343.2 253.3,338.7 253.3,341.8 253.4,347.2 253.5,338.2 253.5,341.8 253.7,343.9 254,346.4 254.1,347.1 254.1,343.8 254.2,349.2 254.5,344.2 254.7,344.4 255,347.5 255,341.7 255.1,343.8 255.2,343.1 255.3,352.6 255.3,335.9 255.5,342.8 255.5,340.1 255.6,346.1 255.6,341.2 255.7,345.3 255.9,344.4 255.9,336.9 255.9,342.2 256,347.5 256.1,342.7 256.2,345.8 256.3,341.2 256.5,344.3 256.5,336.6 256.8,339.9 256.8,346.2 257.1,344.7 257.3,342.3 257.4,342.8 257.4,342.2 257.4,339.2 257.4,341.3 257.5,341.9 257.6,338.5 257.7,343.5 257.7,341.7 257.7,348.1 257.8,329.5 257.9,344.8 258,337.5 258.1,334.2 258.2,336.3 258.5,343.4 258.7,336 258.7,343.7 258.9,339.1 259,344.6 259,342 259.2,327 259.3,340.6 259.3,340.2 259.3,343.8 259.3,336.8 259.3,337.5 259.5,340.2 259.6,335.5 259.6,332.4 259.6,345.7 259.6,337.1 259.7,335.2 259.8,346.8 260,339.4 260.1,337.7 260.3,337.5 260.4,337.1 260.4,339.7 260.5,346.2 260.6,341.2 260.6,343.9 260.7,337.3 260.7,339.8 260.8,345.9 260.8,339.1 260.8,341 260.9,338.2 261,338.8 261.1,333.8 261.2,328.5 261.3,340.8 261.3,337.3 261.4,341.6 261.5,337.7 261.6,342.9 261.8,340 261.9,345.8 261.9,342.1 262,339.3 262.1,340.8 262.2,339.9 262.2,335.1 262.4,344.2 262.4,337 262.5,343.5 262.5,334.9 262.5,338.7 262.6,341.9 262.7,332.6 262.8,341.8 262.9,341.4 263,344.8 263,340.3 263.1,336.3 263.3,342.2 263.4,341.6 263.4,340.9 263.5,335.9 263.5,344.1 263.5,336.5 263.7,335.4 263.9,335.5 263.9,338 263.9,340.5 263.9,336.7 263.9,328.1 264,342.2 264,340.6 264.1,337.5 264.1,338.6 264.1,340.1 264.1,333.9 264.2,332.8 264.3,340.8 264.3,342.6 264.3,339.6 264.4,339.7 264.5,336 264.5,344.4 264.6,341.3 264.8,341.5 264.9,340.1 264.9,338.8 264.9,337.3 265.1,337.8 265.2,338.1 265.2,338.7 265.3,344.4 265.4,348.1 265.4,330.3 265.5,335.7 265.6,335.7 265.6,336.7 265.6,336.8 265.6,338 265.7,342.2 265.7,341.2 266,337.2 266.1,335 266.1,336.2 266.1,333.7 266.1,334.4 266.3,338.5 266.3,334.9 266.4,335.7 266.4,341.1 266.5,337.1 266.6,333.9 266.6,334.3 266.6,333.9 266.7,330.3 266.7,335 266.7,342.6 266.8,334.7 267,335.1 267.1,341.2 267.2,333.6 267.3,334.3 267.3,335.6 267.3,336.7 267.6,325.6 267.7,335 267.7,340.1 267.8,331.8 267.9,341 267.9,340.9 268,336.5 268.1,339.5 268.2,336.3 268.2,337.1 268.2,341.2 268.3,340.8 268.4,338 268.4,335 268.5,336.9 268.5,337.1 268.5,335.8 268.5,334.8 268.6,345.3 268.8,342.2 268.8,337.3 268.9,338.2 268.9,334.3 268.9,336.6 269,329.9 269,330.1 269.2,335.6 269.2,331.1 269.3,338.8 269.3,340.8 269.4,333.2 269.5,343.2 269.6,341.8 269.7,339.8 269.7,346.3 269.8,342 269.9,334.2 269.9,336.3 269.9,336.5 269.9,334.4 270,329.9 270.1,342.7 270.3,339.2 270.4,332.2 270.4,335.7 270.5,332.1 270.5,339.8 270.7,336.5 270.8,334.7 270.8,338.6 270.8,340.9 270.9,326 270.9,336.2 270.9,347.2 270.9,335.7 270.9,340.5 270.9,338.9 271.2,336 271.2,344.7 271.4,340.3 271.6,344.7 271.6,340.9 271.6,341.7 272,338.3 272,337.9 272.1,338.3 272.2,344.4 272.6,345.3 272.8,338.7 272.8,336.9 272.8,329.4 273,339.4 273.1,342.7 273.2,342.2 273.4,341.3 273.6,337.6 273.7,345.2 273.7,332 273.8,344.8 273.8,350.7 273.9,337 274,337.3 274,340.5 274,337.2 274,344.1 274.1,341.6 274.2,344.5 274.5,334.7 274.5,333.1 274.5,344.8 274.6,338.2 274.9,341.1 275.1,339.9 275.1,340.4 275.3,340.2 275.3,344.2 275.4,344.1 275.4,346.2 275.5,340.5 275.5,341.4 275.6,337.4 275.8,341.3 275.9,337.7 275.9,338.2 276.2,344.6 276.3,333.2 276.3,343.1 276.5,339 276.7,332.3 276.9,331 277.2,340.9 277.2,336.7 277.2,347 277.3,336.3 277.4,346.3 277.6,342.4 277.7,334.9 277.7,340.3 277.7,339.5 277.8,334.7 277.9,343.8 278,334.1 278,334.3 278,344.9 278.1,341.2 278.2,341 278.3,343.4 278.3,340 278.3,335.9 278.5,343.1 278.5,342.8 278.6,346.7 278.8,337.7 278.9,350.2 279.1,341 279.2,336.7 279.3,346.2 279.3,348.2 279.3,345.9 279.3,348.5 279.5,341 279.5,343.8 279.7,347.9 279.7,350.4 279.9,339.7 280,348.5 280.2,346.8 280.3,343 280.4,342.6 280.4,342.2 280.5,340.8 280.5,343.7 280.5,350.6 280.7,351.9 280.7,352.5 280.7,352.2 280.8,344 280.8,340.3 281,342.9 281.1,343.5 281.1,344.5 281.1,336.7 281.2,345.3 281.3,348.3 281.3,348.4 281.4,350.6 281.4,345.6 281.5,344.1 281.5,350.6 281.6,346.7 281.7,350.2 281.7,349.7 281.8,357.7 281.9,347.6 282.1,346.8 282.2,346.5 282.4,343.2 282.5,347.1 282.6,343.4 282.6,348.8 282.7,348.2 282.7,348.2 282.7,346.3 282.7,349 282.8,340.8 283,351.4 283,357.1 283,348.7 283.1,353.2 283.1,347.1 283.1,353.6 283.2,351.5 283.2,350.5 283.2,353.4 283.4,347.2 283.5,353.5 283.5,357.7 283.6,351.9 283.7,349.2 283.8,351.7 283.9,348.6 283.9,353.5 284.2,350.7 284.2,350.8 284.2,358.6 284.3,343.9 284.3,354.4 284.7,349.5 284.8,351.5 284.8,352.2 284.9,356.4 285,358.1 285.1,350.5 285.1,353.9 285.1,353.4 285.3,343.9 285.3,354.9 285.3,355.8 285.3,351.4 285.4,359.1 285.4,357.6 285.5,347.9 285.6,353.4 285.6,349 285.7,350.3 285.8,353.4 285.9,353.8 285.9,354.8 285.9,354.3 286.1,352.8 286.2,354.9 286.2,360.4 286.4,359.9 286.5,354.8 286.5,346 286.7,353.6 286.7,351.4 286.9,350.1 286.9,344.5 287.1,351.3 287.1,354.6 287.2,364.3 287.2,362 287.4,356.8 287.4,353.9 287.5,354.5 287.7,351.2 287.7,354.1 287.8,357.3 288,353.3 288,353.1 288.1,361.3 288.2,352.7 288.3,352.1 288.4,359.1 288.4,353.1 288.6,355.5 288.7,358.6 288.7,347.5 288.7,349.1 288.7,356.2 289,356.8 289.3,361.4 289.4,356.6 289.5,353 289.6,356.5 289.7,351.1 289.7,355.9 289.7,358.9 289.7,353.9 289.7,356.7 289.8,362 289.8,357.5 289.8,355 290,358.1 290.1,360.5 290.1,367.7 290.1,354.7 290.1,355.7 290.1,355.7 290.2,351.4 290.2,355.3 290.2,357.6 290.3,357.8 290.3,356.9 290.4,365.6 290.6,358.1 290.6,348.8 290.6,356.8 290.7,359 290.8,352.4 291,358.1 291,363.1 291,356.7 291.1,365.3 291.1,361.1 291.3,350.8 291.5,353.6 291.5,351.7 291.5,357.5 291.5,355 291.6,360.1 291.7,348.6 291.9,352.8 292.1,343.6 292.1,354.8 292.1,352.5 292.1,360.8 292.2,355.9 292.2,360.1 292.6,354.3 292.7,356.6 292.8,359.4 292.9,355 292.9,360.7 292.9,350.5 292.9,354.7 292.9,361.5 293.1,361.4 293.2,354.3 293.3,357.9 293.5,358.8 293.5,353.6 293.7,351.9 293.7,357.7 293.9,360.4 293.9,355.8 293.9,360.1 293.9,357 294.1,357.6 294.2,357.7 294.3,368.8 294.3,361.3 294.5,359.1 294.5,358.8 294.5,355.3 294.6,362 294.6,355.9 295,365.1 295.4,352.7 295.5,354.3 295.7,358.1 295.8,359.2 295.9,362.1 296,375.6 296.1,361.1 296.2,361 296.2,364.2 296.3,360.9 296.4,358.5 296.6,363.3 296.7,359.1 296.7,353.1 296.7,355.8 296.7,362.2 296.8,365.5 296.8,359.8 296.9,353 296.9,368.4 297,359.5 297.3,358.1 297.4,360.3 297.4,360.3 297.6,359.7 297.6,357.4 297.6,360.5 297.9,360.5 297.9,369 298,373.9 298.2,361.2 298.2,363.3 298.4,363.9 298.4,353.8 298.5,356 298.6,348.4 298.6,359.6 298.7,358.1 298.9,357.9 299.1,352 299.1,363.2 299.1,362.6 299.2,357.7 299.2,355.8 299.2,358.2 299.2,359 299.2,361.7 299.3,361.6 299.4,355.1 299.4,367.6 299.4,361.4 299.4,362.6 299.5,359.3 299.5,347.5 299.6,364.6 299.6,360.2 299.7,353.6 299.7,365.8 299.8,355.8 299.9,356 300,359.7 300,356.3 300.1,348.8 300.2,363.4 300.3,363.5 300.3,355.3 300.3,364.8 300.4,365.2 300.4,351 300.5,354.5 300.5,362.2 300.5,361.7 300.6,366.4 300.6,349.7 300.6,357.6 300.7,357.6 300.9,355.9 300.9,361.8 301.1,350.1 301.2,356.3 301.2,359.6 301.2,352.5 301.3,356.2 301.3,345.6 301.4,350.7 301.4,355.6 301.5,351.2 301.6,361 301.6,365.7 301.6,358.8 301.6,355.9 301.6,357.3 301.8,360.7 301.8,357.9 301.9,356.6 301.9,357.3 301.9,353.2 302,363.9 302.1,359.9 302.1,357.2 302.1,363.6 302.2,362.5 302.4,357.2 302.4,355 302.4,356.7 302.5,367.9 302.6,349.2 302.6,358.4 302.6,365.6 302.6,361.6 302.6,362.8 302.7,355.9 302.7,360.7 302.7,366.8 302.8,365.3 302.9,360.2 302.9,360.5 302.9,360.8 303.1,363.8 303.2,360.6 303.3,355.2 303.4,369.3 303.5,359.9 303.7,355.2 303.8,360 303.8,366.1 303.8,358 303.9,362 304,365.3 304,359.9 304.1,365.8 304.1,360.8 304.2,368.1 304.4,366.8 304.4,359.6 304.5,358 304.5,363.5 304.7,362.9 304.7,355.9 304.8,363.3 304.8,358.8 304.8,362.5 304.8,356.3 305,359.2 305,369.1 305,354.3 305.1,363.2 305.2,357.4 305.2,367.2 305.2,365.4 305.3,362 305.4,374.8 305.4,367.3 305.4,353.5 305.4,363.2 305.5,359.4 305.5,363.5 305.6,360.4 305.7,352 305.9,356 306.1,357.7 306.1,360.3 306.1,357.1 306.2,364.6 306.2,353 306.3,363.2 306.3,366.4 306.3,364.4 306.4,368 306.4,364.3 306.6,357.9 306.6,364 306.7,358 306.7,357.5 306.8,362.8 307,361.5 307,363.9 307.1,366.6 307.2,352.3 307.2,361.4 307.2,360.9 307.3,371.3 307.4,365.4 307.4,359.8 307.5,362.9 307.5,362.4 307.6,361.6 307.6,367.2 307.6,369.1 308,358.6 308.1,361.8 308.1,354.5 308.2,360 308.2,363.6 308.3,371.8 308.3,373.7 308.4,368.5 308.4,364 308.5,368 308.6,367 308.6,362.4 308.6,370.7 308.6,363.7 308.7,366.7 308.7,368.9 308.7,370.4 308.8,366.2 308.8,374.1 308.8,352.9 308.8,363.2 308.8,368.6 308.9,362.3 309.1,364.6 309.3,364.6 309.3,365.8 309.3,369.1 309.3,371.3 309.4,372.7 309.4,370.1 309.4,361.1 309.6,371.5 309.6,360.4 309.8,371 309.8,379.5 309.8,374.1 310,366.8 310.1,363 310.1,375.9 310.2,366.3 310.2,371.3 310.3,369 310.4,375.8 310.4,369.1 310.6,366.6 310.6,376.8 310.7,365.6 310.8,368.2 310.9,366.3 311,368.5 311.1,380.6 311.2,370.8 311.5,377.2 311.6,361.3 311.7,368.4 311.7,371 311.7,372.5 311.8,378 311.9,372.1 311.9,369 312,378.1 312,382.3 312,371.9 312,373.1 312.1,377.3 312.2,372.7 312.4,370.4 312.4,369.3 312.4,365.6 312.4,379.3 312.5,372.1 312.5,375.9 312.6,381.4 312.7,373.7 312.8,375.4 312.8,368.7 313,374.3 313,358.8 313.1,367.8 313.2,359.4 313.3,373.2 313.3,369 313.5,374.2 313.5,375.8 313.6,365.7 313.9,376.6 314,373.4 314,373 314.2,376.1 314.2,368.2 314.2,366.4 314.2,376.7 314.2,367.1 314.2,370.7 314.3,371.1 314.9,388.9 315,382.2 315.1,378.9 315.2,373.8 315.2,376.6 315.3,386 315.3,377 315.3,379.9 315.5,376 315.6,373.9 315.7,366.6 315.8,372.7 315.8,379.3 315.8,381.9 315.9,377.3 316,381.8 316,378 316,393.5 316.1,378.8 316.1,396 316.2,372 316.2,381.4 316.3,379.4 316.3,378.1 316.3,378.3 316.4,381.3 316.4,374.9 316.4,386 316.4,378.2 316.5,382 316.6,391 316.6,379 316.7,376.3 316.7,388.5 316.7,371.8 316.7,368 316.8,378 316.8,375.7 316.8,377.1 316.8,380.2 316.8,378.4 316.9,372.9 316.9,382.6 316.9,373.4 317,379.6 317,378.9 317.1,379.4 317.1,371.7 317.2,368 317.2,375.1 317.3,372 317.4,374.7 317.4,374.1 317.4,382.6 317.5,380.9 317.6,380.8 317.6,377.4 317.6,374.9 318,376 318,381.9 318,374.6 318.2,374.6 318.2,375 318.3,375.8 318.4,377.7 318.5,381.5 318.5,379.3 318.6,376.8 318.6,375.2 318.7,364.1 318.7,377.5 318.9,379.5 319,374 319,371 319.2,373.7 319.2,374.4 319.3,375.2 319.3,374 319.4,375.6 319.4,382.1 319.6,369.2 319.6,377.9 319.6,369.9 319.7,370.6 319.7,369.8 319.8,369.2 320,368.6 320,364.7 320.1,373.4 320.1,372.7 320.1,376.4 320.2,368.5 320.2,366.3 320.4,367.3 320.4,375.5 320.4,359.8 320.5,369.4 320.5,368.1 320.6,363.5 320.6,371 320.7,371.9 320.8,372.3 320.8,374 320.8,368.2 320.8,364.1 321,377.4 321.1,371.6 321.2,372.3 321.2,372.4 321.2,367.8 321.2,371.3 321.2,376.5 321.3,365.3 321.4,366.2 321.4,378.4 321.5,375.3 321.5,371.1 321.5,370.7 321.7,365.8 321.7,367.1 321.8,374.1 322,374.8 322.2,369.5 322.4,365.6 322.4,376 322.5,368.1 322.8,373.1 322.8,374 322.9,370.4 322.9,374.3 323,374.5 323,372.3 323.2,366.4 323.2,359.8 323.3,354.5 323.4,370.8 323.4,372.8 323.5,374.8 323.6,372.7 323.6,369.2 323.7,369.7 323.7,380 323.9,365.5 323.9,377 323.9,367.3 323.9,376.4 324,374.5 324,374.3 324.1,372 324.1,380.4 324.1,379.4 324.3,380 324.3,380.7 324.5,377.8 324.6,376.5 324.7,370.4 324.8,382.3 324.9,368.2 325,383 325,377.1 325.1,373.9 325.1,378 325.1,368.9 325.2,378.9 325.2,374.6 325.3,372.9 325.4,370 325.4,373.3 325.4,373.4 325.4,381.3 325.6,376.5 325.6,379.6 325.7,374.4 325.7,377.9 325.7,379.5 325.8,379.9 325.8,389 325.8,375.9 325.8,386 325.9,380 325.9,362.5 325.9,375.5 326.2,371.7 326.2,375.9 326.3,381.2 326.4,373.8 326.5,372.4 326.6,377.6 326.7,374.7 326.8,374.2 326.8,375.8 326.8,372 326.9,371.2 326.9,377.6 326.9,374.7 326.9,377.4 327,370.9 327,375 327.1,369.5 327.1,380.6 327.2,373.8 327.6,371.5 327.8,376.4 327.9,375.1 327.9,373 327.9,372.4 327.9,369.3 327.9,368 328,375.1 328.1,373.9 328.3,376.6 328.3,372.8 328.4,371.3 328.4,375 328.6,373.9 328.6,379.6 328.6,368.2 328.6,373.2 328.7,365.8 328.8,368.7 328.8,370.4 328.8,374.9 328.9,380.3 329,370.2 329.1,369.2 329.1,369.4 329.1,374 329.1,375.4 329.1,378.7 329.1,370.2 329.2,370.6 329.2,367.7 329.3,366 329.5,369 329.5,371.7 329.5,369.4 329.5,374.7 329.5,378.7 329.5,369.3 329.6,369.8 329.6,364.6 329.8,377.4 329.8,369.7 329.9,367.6 330,378.4 330,366.7 330.1,369.5 330.1,376.7 330.2,370.2 330.2,379.7 330.2,370.4 330.3,372.5 330.3,364 330.4,377.8 330.4,370.4 330.5,366.2 330.5,374.1 330.6,359.9 330.7,374.5 330.7,363.7 330.9,366.3 331.1,368.1 331.2,370.9 331.2,372.9 331.3,369.1 331.4,367.3 331.4,372.4 331.4,373.4 331.4,372.4 331.7,373.2 331.8,374.3 331.8,369 331.8,369.4 331.9,368.3 331.9,370.7 332.2,363 332.3,375 332.3,363.7 332.4,363.4 332.5,367.7 332.5,357.7 332.6,368.4 332.6,369.8 332.7,365.8 333,368.2 333.2,364.5 333.2,364.8 333.2,366.6 333.2,363 333.3,368.2 333.3,366.5 333.4,371.5 333.4,371 333.4,362 333.5,365.4 333.5,363.4 333.6,375.4 333.7,360.8 333.8,371.8 333.8,363.9 333.8,366.4 333.8,366 333.8,349.9 333.9,365.5 333.9,365.6 334,365 334,358.7 334.1,376.5 334.2,372.3 334.2,355.4 334.3,362.2 334.3,368.1 334.5,366.6 334.5,358.3 334.6,373.5 334.6,364.8 334.6,364.5 334.7,368.7 334.7,368.3 334.8,365 334.8,369.2 334.8,364.6 335,371.6 335,366.9 335.1,370.3 335.2,367.5 335.2,358.7 335.2,375.1 335.2,364.3 335.3,367.8 335.3,370.8 335.4,367.7 335.4,373.8 335.4,371.5 335.5,371.2 335.5,365.5 335.6,361.7 335.6,370.8 335.7,360.1 335.8,369.5 335.8,367.5 336,368.8 336,375 336.1,369.7 336.2,366.9 336.2,362.7 336.3,371.8 336.4,369.6 336.5,366.2 336.5,373 336.6,369 336.6,369.8 336.7,366.5 336.7,373 336.8,370.2 336.9,371 337.1,370.7 337.3,367.9 337.3,363.9 337.3,372 337.4,369.3 337.5,368.9 337.5,358.7 337.6,371.8 337.6,372.6 337.8,364.1 337.8,369.5 337.9,366.7 337.9,368.3 338,372.3 338,369.5 338,363.3 338,371.2 338,366.5 338.2,371.9 338.2,365.8 338.2,369 338.2,368.7 338.2,369.5 338.3,367.5 338.3,367.2 338.3,363.5 338.3,369.9 338.4,373.1 338.5,367.2 338.6,371.5 338.6,367.6 338.7,370 338.7,373 338.7,368.6 338.7,370 338.8,373.3 338.8,364.1 338.9,371.5 339,374.6 339.1,371.5 339.1,375.3 339.2,371.5 339.3,361 339.4,367.1 339.5,364.3 339.5,371.1 339.5,375.2 339.5,365.8 339.5,368 339.6,371.7 339.7,366.1 339.8,371.8 339.8,376.6 340,367.9 340.1,371 340.2,363.3 340.3,364.7 340.3,366.9 340.5,380.8 340.5,374 340.5,371.2 340.6,366.5 340.6,370.6 340.8,368.3 341,374.4 341,370.4 341.2,376.5 341.2,366.5 341.3,360.2 341.4,364.7 341.5,369.7 341.6,367.2 341.6,375 341.6,364.1 341.6,362 341.9,357.5 342,367.6 342.1,366.7 342.1,364.5 342.1,363.3 342.1,365.7 342.2,362.7 342.2,362.5 342.3,364.4 342.3,363.4 342.4,366.5 342.4,363.6 342.4,366.9 342.4,353.2 342.4,363.3 342.6,366.6 342.7,369.8 342.8,358.2 342.8,364.7 342.9,369.2 342.9,362.7 343.1,361.9 343.1,368.3 343.2,367.2 343.3,361.2 343.3,366.4 343.3,357.2 343.4,365.8 343.5,363.4 343.5,363.4 343.6,365.9 343.7,360.9 343.7,358.9 343.8,366.1 343.8,369.5 343.8,366.3 343.9,361.1 343.9,363.8 343.9,368 344.5,359.8 344.6,361.4 344.7,364.2 344.7,361.6 344.7,367.5 344.8,364.8 344.8,363.6 344.9,368.8 345,367 345.1,367.2 345.1,362.8 345.2,360.4 345.2,364.2 345.3,356.7 345.4,357.8 345.4,362.9 345.5,373.7 345.5,363.7 345.5,366 345.6,359.7 345.7,361.4 345.7,366.6 345.8,365.7 346.4,363.6 346.4,361.1 346.5,362.9 346.5,363.1 346.5,366.6 346.5,367.5 346.6,368.2 346.8,362 346.9,365.3 347.2,370.4 347.2,365.4 347.3,365.8 347.3,366.9 347.3,368 347.4,366.6 347.4,367.1 347.4,360.3 347.5,369.2 347.7,366.5 347.7,368 347.7,361.6 347.8,364.6 347.9,364 348,365.6 348,367.6 348,360.9 348.3,354.8 348.3,363.3 348.4,369.6 348.4,369.9 348.4,366.7 348.4,359.2 348.5,353.4 348.6,357.1 348.6,373 348.7,365.2 348.9,369.8 348.9,367.1 348.9,360.2 349,367.5 349,366.3 349,359.3 349.1,355.3 349.3,367.1 349.3,381.1 349.4,374.5 349.5,364.5 349.5,376.2 349.6,362.5 349.7,371.9 349.8,360.8 349.8,365.2 349.9,368.8 350,368.7 350,382 350,379 350.1,367.8 350.1,374 350.1,367.6 350.2,376 350.2,370.1 350.3,366.9 350.3,364.9 350.3,368 350.5,378.3 350.5,363 350.5,367.8 350.5,367.1 350.5,370.7 350.6,382.1 350.8,368.6 350.8,370.7 351,364.9 351.1,366.5 351.1,369.2 351.2,362.1 351.2,370.7 351.2,364.6 351.2,372.6 351.3,367.2 351.4,369.3 351.4,365.5 351.5,359.6 351.6,367.5 351.7,353 351.7,357.2 351.7,368.4 351.7,368.8 351.8,366.7 351.8,365.9 351.8,362.6 352.1,374 352.1,369.4 352.1,364.6 352.1,361.8 352.2,368 352.2,365.3 352.3,366.3 352.3,364.9 352.5,365.4 352.5,364.4 352.6,360 352.6,359.2 352.8,361.8 352.8,366.7 352.8,368.6 352.9,367.5 352.9,360.4 353,365.9 353,364 353.1,354.8 353.1,355.4 353.2,364.6 353.2,363.9 353.3,367.9 353.3,355 353.3,364.9 353.3,360 353.4,357.4 353.4,361.7 353.4,355 353.5,367.3 353.6,366.3 353.6,365.5 353.7,362.8 353.9,361.6 353.9,361 354,370.7 354,357.6 354.1,365.5 354.1,364.4 354.2,366.5 354.3,364.7 354.4,358.4 354.5,354.4 354.5,360.1 354.6,367.1 354.6,368.3 354.6,362.3 354.6,362.6 354.6,362.3 354.7,362.1 354.7,365.8 354.7,367 354.8,366.3 354.8,365.9 354.8,368.3 354.8,366.6 354.9,373.3 354.9,365.4 355.1,360.9 355.3,369.4 355.3,359.5 355.3,370.3 355.4,369.8 355.4,358 355.5,361.2 355.6,365.5 355.6,363.4 355.6,362.6 355.8,359.5 355.8,365.2 356,361.6 356,359.3 356.5,363.6 356.5,359.6 356.6,349.5 356.7,365.6 356.7,360.7 356.8,370.4 356.8,364.3 356.8,361.7 356.9,366.5 356.9,364.2 356.9,365.7 356.9,361.6 357.1,360.9 357.1,359.5 357.1,357 357.1,367.4 357.3,357.3 357.3,367.3 357.4,360.5 357.4,361.3 357.4,371.7 357.4,358.9 357.5,358.4 357.6,365.2 357.8,358.8 357.8,359.3 357.8,353.8 357.9,354.4 358,360.6 358,362.3 358.1,365.7 358.3,368.7 358.4,366.6 358.4,367.1 358.4,369.2 358.5,366.2 358.5,366 358.6,360.5 358.7,365.8 358.7,359.2 358.8,364.9 358.8,355.3 358.8,354.9 358.8,370.9 359,363.2 359.1,358.3 359.2,354.2 359.2,360.9 359.2,362.1 359.3,351.7 359.6,361.2 359.6,374.2 359.7,366.2 359.8,365.7 359.8,367.7 359.9,365.1 359.9,371.4 360,361 360,365.7 360,362.5 360.1,366.4 360.1,366 360.2,366.3 360.2,365.6 360.2,363.7 360.3,366.3 360.4,363.8 360.5,371.6 360.7,365.8 360.7,366.5 360.8,366.5 361.2,364.8 361.4,368.1 361.5,376.8 361.6,364.5 361.7,366.5 361.8,368 361.8,369.7 361.8,361.1 361.9,366.1 362,362.9 362,369.4 362.1,372.7 362.1,367.1 362.1,362.9 362.2,366.6 362.2,372.5 362.3,372.5 362.3,370.9 362.3,361.9 362.4,365.7 362.4,365.8 362.5,369.6 362.6,372.2 362.7,358 362.7,363.6 362.8,361.3 362.9,367 362.9,360.7 363,370.4 363,359.4 363,365.3 363,369 363,370.5 363,369.3 363.1,366.2 363.1,358.1 363.3,363.8 363.4,369.3 363.4,370 363.4,358.3 363.5,363.2 363.5,367.7 363.5,375.9 363.6,365.5 363.6,373.1 363.6,368.2 363.6,366.9 363.7,371.3 363.7,368.8 363.8,368.8 363.8,366.9 363.8,367.2 364,370.2 364.3,365.4 364.6,381.3 364.9,369.7 364.9,368.4 364.9,374 365,373.7 365.1,372.2 365.2,370.5 365.3,369 365.3,371.6 365.3,366 365.5,365.1 365.6,373.1 365.7,361.3 365.7,362.5 365.8,376.4 365.8,368.5 365.8,368.1 366.1,377 366.2,366.7 366.2,380 366.3,372.2 366.3,374.7 366.3,383 366.3,376.4 366.4,371.2 366.4,380 366.5,371 366.5,377.6 366.6,375.1 366.7,375.1 366.7,373 366.7,366.8 367.1,363.3 367.1,373.4 367.1,369.8 367.2,369.8 367.2,362.4 367.3,365.1 367.3,371.1 367.6,370.6 367.7,372.3 367.7,371.4 367.8,375 367.8,358.8 367.8,356.2 367.8,363.6 367.9,376.5 368,364.5 368.1,368.2 368.2,362.9 368.2,365.1 368.2,371.9 368.3,360.7 368.3,369.7 368.4,363 368.5,367 368.6,366.9 368.6,363.4 368.6,364.9 368.8,363.6 368.8,365.1 368.9,353.8 368.9,354.9 368.9,365.7 369,360.8 369,363.6 369.1,362.4 369.2,360 369.2,363.8 369.3,371.1 369.4,358.2 369.5,361.5 369.5,366.9 369.7,353.5 369.7,351.3 369.8,359.1 369.9,358.7 369.9,356.1 369.9,359.1 370,361.7 370.2,360.1 370.2,363.7 370.3,358.3 370.3,366.8 370.4,361.9 370.4,361 370.4,347.5 370.4,358.8 370.4,363.1 370.6,365.9 370.7,360.9 370.7,351.7 370.8,368.9 370.9,351.2 370.9,366.6 371,355.1 371,349.5 371,360.5 371.2,359.8 371.2,352.5 371.5,360.5 371.5,356.8 371.5,356.5 371.6,357.9 371.6,369.6 371.7,361.1 371.7,346.1 371.8,369.8 371.9,361.6 372.2,350.7 372.3,366.4 372.4,360.3 372.4,350.2 372.4,356.9 372.4,351.6 372.4,358.6 372.5,367.9 372.6,359.7 372.6,368.3 372.7,360.1 372.7,357.9 372.7,360.8 372.9,367.8 372.9,361.8 372.9,353.2 373,354.7 373,366.6 373.1,363.6 373.1,367.3 373.1,364.8 373.3,365.8 373.3,364.5 373.3,362.5 373.4,353.9 373.7,367.1 373.8,360.7 373.8,354.4 373.8,356.3 374,353.6 374,357.3 374.1,364.9 374.1,367.1 374.2,360 374.2,361.3 374.2,360.8 374.5,358.4 374.5,357.4 374.6,368 374.7,361.9 374.7,365.4 374.9,364.7 375.1,362.9 375.1,355.7 375.1,366.8 375.4,360.3 375.4,365.6 375.6,366 375.6,366.4 375.7,357.4 375.7,363.5 376.1,359.1 376.1,366.5 376.2,358.5 376.2,361 376.2,363.8 376.3,363.7 376.4,365 376.4,359.7 376.4,367 376.5,359.9 376.6,358.8 376.7,362.9 376.8,358.5 376.8,364.1 377.1,366 377.1,368.2 377.2,361.2 377.3,358.1 377.4,366.6 377.4,356.1 377.4,360.8 377.5,367.1 377.5,361.4 377.5,364.6 377.6,356.2 377.8,370.9 377.8,361.5 377.9,368.1 377.9,360.1 377.9,352.3 378.1,358.9 378.1,366.3 378.2,363.5 378.2,360.7 378.2,364.5 378.2,362.3 378.2,360.4 378.3,357.8 378.3,367.3 378.3,370.7 378.4,360.7 378.6,365.6 378.6,359.9 378.7,354.2 378.7,360.2 378.8,364.4 378.8,359 378.9,373 378.9,362.7 379,369 379,357.1 379.2,370.5 379.2,371.1 379.3,362.3 379.3,366.8 379.4,359.2 379.4,349.2 379.4,361.8 379.4,351.5 379.4,359.5 379.5,352.9 379.5,351.2 379.5,356.6 379.6,363.4 379.6,365.2 379.7,349.5 379.8,364.2 379.8,354.4 379.8,358.4 379.8,361.7 379.9,369.2 380,362.1 380,363.8 380.1,362.1 380.2,358.9 380.2,362.4 380.4,359.6 380.4,364.3 380.5,364.4 380.6,359.2 380.7,362.8 380.9,363.8 381,359 381,361.3 381.1,359.5 381.2,348.5 381.2,353.5 381.3,358.5 381.3,365.5 381.4,360.6 381.4,360.6 381.4,363.9 381.5,356.2 381.5,351.6 381.5,357.1 381.5,355.2 381.6,355.7 381.6,353.8 381.8,353.7 381.9,362 382,360.1 382,363 382,354.5 382,361.2 382,359.8 382.3,360.8 382.3,353.3 382.4,358.3 382.5,353.7 382.5,354.6 382.6,349.7 382.6,359.4 382.6,358.8 382.6,350.6 382.7,356.9 382.7,360.9 382.7,356.8 382.7,353.6 382.8,352.4 382.8,359 382.8,357.1 382.9,353.2 382.9,356.3 383,358.2 383,354 383,355.2 383.3,353.8 383.4,355.7 383.4,353.5 383.8,357.6 383.8,358.5 384,348.3 384,356.8 384.1,352 384.2,360.1 384.2,354.8 384.4,356.4 384.6,360.7 384.6,358.7 384.6,362.6 384.7,359.1 385,356.4 385,358 385.1,352.8 385.1,357.2 385.2,359.3 385.2,365.7 385.3,348.1 385.4,354.4 385.6,351.9 385.7,359.5 385.7,353.1 385.7,364.4 385.7,361.8 385.7,354.7 385.9,360.9 386,356 386,356.2 386,358.8 386.1,361.9 386.2,357.5 386.3,357.3 386.5,356.7 386.5,353.3 386.6,352.5 386.7,355.6 386.8,353.3 386.8,361.9 386.9,355.5 387.1,348.4 387.5,353.1 387.5,361.7 387.6,359.4 387.7,357.8 387.7,359.1 387.8,353.8 387.9,357.1 387.9,353.1 388.1,362.4 388.1,355.9 388.2,369.1 388.6,350.8 388.7,359.3 388.9,363 388.9,360.3 389,361.1 389,368.2 389.2,361 389.2,356.7 389.2,353.4 389.3,363 389.3,361 389.3,363.5 389.4,354 389.4,359.4 389.4,360.5 389.4,361.3 389.5,356.9 389.6,357.3 389.7,357.5 389.7,361 389.8,367.8 389.9,364.2 389.9,360.1 389.9,366.5 390,370.5 390,364.3 390.1,361.5 390.2,360.1 390.2,359.9 390.3,368.8 390.3,357.6 390.4,361.8 390.5,358 390.6,362.1 390.8,364.2 391,369.3 391,354.6 391,366.5 391.2,361.9 391.3,362.9 391.4,363 391.4,364.6 391.4,366.5 391.5,362.5 391.5,360.9 391.6,360 391.7,357.8 391.7,359.9 391.7,361.8 391.9,358.5 392.1,354.1 392.2,356.9 392.3,363.3 392.3,356.6 392.3,360.7 392.4,359.1 392.5,357.6 392.5,364.1 392.6,375 392.6,358.1 392.6,356.8 392.7,360.2 392.7,362 392.8,359.5 392.8,357.5 392.9,360.3 393,359.3 393.1,360.6 393.2,366.2 393.3,365.7 393.3,367.2 393.3,354.3 393.3,362.5 393.3,357.2 393.4,351.8 393.4,362.8 393.5,349.9 393.6,360.9 393.7,359.5 393.7,354.3 393.8,350.6 393.8,368.2 393.8,356.8 393.8,355.9 393.9,360.5 394,360.2 394,365.3 394,372.9 394.3,353.3 394.3,361.7 394.4,364.8 394.5,366 394.5,365.2 394.7,357.6 394.9,357.6 394.9,364.4 394.9,360.1 395,360.5 395.2,368.1 395.4,356.4 395.4,362.9 395.5,361.1 395.6,352.6 395.6,359 395.6,368.4 395.9,364.6 396.2,359.7 396.3,346.8 396.3,360.1 396.3,361.7 396.3,360.3 396.3,374.6 396.4,358.1 396.6,356.1 396.7,363.6 396.7,356.1 396.8,360.1 396.9,364.8 396.9,359.7 396.9,359.8 397.1,358 397.1,359.7 397.2,364.4 397.3,357 397.4,355.1 397.5,362.2 397.5,358.7 397.5,365.9 397.6,360.9 397.7,357.4 397.8,351.4 397.8,367 397.9,368.1 397.9,362.9 397.9,360.7 398,362.3 398.1,349.6 398.2,360 398.2,367.6 398.2,368 398.2,358.5 398.3,360.1 398.4,364.4 398.5,360 398.6,364.3 398.7,358 398.7,368.8 398.8,361.8 398.8,366.4 398.8,369 398.9,364.3 399,355.2 399,368.2 399,357.7 399.1,361.7 399.2,371.2 399.2,367.9 399.2,351.5 399.3,367.3 399.4,360.5 399.4,369.1 399.5,360.8 399.5,365.9 399.5,366.5 399.6,351.2 399.7,360.2 399.7,366.5 399.7,361.4 399.8,372.8 399.8,364.1 399.9,365.6 400,358.8 400.1,369.6 400.4,353.5 400.4,370.4 400.5,363.5 400.5,353 400.6,375.5 400.6,369.8 400.6,354.5 400.6,350.3 400.6,370.5 400.7,356.2 400.8,366.9 400.9,361.5 400.9,361.2 401,360.1 401.1,363.9 401.1,363.9 401.2,357.9 401.3,359.6 401.3,359.3 401.3,363.5 401.3,362.7 401.3,367.3 401.4,364 401.4,366.6 401.4,360.2 401.5,372.6 401.5,366.3 401.5,362.7 401.5,359.5 401.5,369.4 401.6,362.6 401.6,360 401.7,370.2 401.7,362.8 401.7,360.3 401.8,357.2 402,361.5 402.6,365.1 402.6,365 402.6,357.5 402.7,354.3 402.8,352.4 402.8,366.2 402.9,363.4 402.9,370 402.9,355.9 403,364.4 403.1,377.2 403.1,365.3 403.3,370.1 403.3,360.3 403.3,362 403.4,364.3 403.5,362.4 403.6,363.7 403.6,374.3 403.8,362.9 404,368.2 404.2,369 404.2,367.6 404.2,366.8 404.2,371.9 404.6,367.1 404.6,373.4 404.8,367.7 404.8,367.6 404.8,366.7 404.8,366.3 404.9,373.3 405,366.4 405.1,366.7 405.3,371.7 405.5,373.1 405.5,368.3 405.6,364 405.6,369.8 405.6,369.4 405.6,366.8 406.1,369.1 406.2,373.7 406.3,372.8 406.3,370.2 406.3,378.9 406.3,371.2 406.3,368.8 406.4,373 406.5,366 406.8,374.6 406.8,380.6 407,372.8 407.1,371.5 407.2,375.9 407.2,376.8 407.2,374.9 407.2,379 407.3,381 407.3,378.4 407.3,378.4 407.5,378.2 407.6,378.5 407.7,376.8 407.8,374.1 407.9,372.8 408.1,374.9 408.1,378 408.2,392.2 408.2,384.3 408.4,374.7 408.5,378.2 408.6,367.5 408.6,367.4 408.6,367 408.8,381.3 409,383.3 409,371.7 409.1,379.5 409.2,378.5 409.3,380.3 409.3,378.7 409.3,378.3 409.3,378.2 409.5,380.4 409.5,379.8 409.5,377.6 409.8,379.6 410,388.7 410.2,378.1 410.4,385.4 410.5,381.4 410.9,379.6 411,379 411.1,384.6 411.1,378.6 411.2,384.4 411.3,382.9 411.7,386.5 411.8,382 411.9,377.3 412.1,377.4 412.1,387.1 412.1,379 412.3,382.2 412.5,387.7 412.7,380.4 412.7,378 412.8,384.2 412.9,377.4 412.9,378.7 413,385 413.1,385.5 413.1,382.7 413.2,376.3 413.2,382.2 413.3,380.5 413.3,384.2 413.5,378.7 413.6,382.4 413.7,386 413.8,381.1 413.8,378.2 414,389.6 414,385.3 414.1,392.3 414.1,381.2 414.1,385.9 414.2,384.1 414.2,382.2 414.3,381.2 414.4,384.6 414.4,386.4 414.5,385.6 414.5,390.5 414.6,384.6 414.7,391.6 414.7,378.8 414.7,382 414.7,383.3 414.8,392.1 414.8,389.1 414.8,383 414.9,384 414.9,385.7 414.9,385.5 415,381.7 415,384.5 415.4,382.5 415.4,389.6 415.4,389 415.5,385.3 415.5,382.6 415.6,384 415.6,380.7 415.6,382.9 415.7,390.9 415.7,383.4 416,383.8 416,383.6 416.1,386.7 416.3,387.4 416.4,388.4 416.7,392.3 416.8,386.1 416.9,388.8 416.9,395.8 416.9,393.2 417,389.5 417,389 417,390.3 417,391.9 417,388 417,382.6 417.1,390.8 417.2,384.3 417.3,382.6 417.4,399 417.4,388.2 417.4,390.1 417.5,389.5 417.6,385.6 417.6,385.3 417.6,388.6 417.7,387.7 417.8,388.8 417.9,385.6 417.9,390.7 417.9,389.5 417.9,387.9 418,388.1 418,389.6 418.1,389.7 418.1,395.2 418.3,389.8 418.3,389.9 418.7,383.7 418.8,383.1 418.8,391.7 418.9,385.5 419,384.6 419.2,389.5 419.4,386.5 419.4,389.9 419.4,388.3 419.4,388.7 419.6,381.2 419.6,389.3 419.7,386 419.7,391.5 419.8,391.3 419.9,384.1 419.9,376.3 419.9,382.5 420.1,390.5 420.2,387.7 420.2,386.6 420.2,391.3 420.2,388.8 420.3,386.6 420.4,397.8 420.4,382.1 420.5,387.8 420.5,390.3 420.6,389.5 420.6,395.8 420.6,389.2 420.7,389 420.7,382.2 420.9,389.7 421,392 421.1,390.1 421.2,382.6 421.2,387.2 421.3,390 421.5,394 421.6,386.1 421.6,391.1 421.6,383.6 421.7,389.7 421.7,387.5 421.8,388.6 421.8,386.9 422,387.5 422,392.8 422,387.7 422.1,389.8 422.1,382.8 422.1,391.2 422.2,389.1 422.3,389.2 422.3,392.7 422.3,391.2 422.4,389.6 422.4,392 422.4,386.1 422.4,387.9 422.7,390.4 422.7,385.9 422.8,388.1 422.8,389.3 422.8,391.9 422.8,377.6 422.8,397.1 422.8,388.6 422.9,389.6 423,386.4 423,395.7 423,390.1 423.5,386.9 423.6,389.7 423.7,388.5 423.7,393.1 424,382.4 424.2,386.8 424.2,394.1 424.3,394.3 424.4,388 424.4,383.9 424.4,386.4 424.5,393.7 424.5,392.6 424.5,391.7 424.6,391.9 424.6,389.2 424.7,383.3 425.2,393.2 425.4,390.3 425.4,385.8 425.4,384.9 425.5,389 425.6,385.8 425.6,388.6 425.7,390.4 425.9,383.4 426.1,391.3 426.2,389.3 426.2,391.8 426.4,389.4 426.5,380.2 426.6,387.4 426.6,384.8 426.8,392.4 426.8,388 427.1,385.6 427.1,391.3 427.1,390.2 427.3,390.4 427.3,390.7 427.4,395.7 427.5,395.8 427.6,395.2 427.8,383.2 428.2,387.7 428.2,389.1 428.3,393.5 428.7,387.8 429,385.6 429,392.9 429,388.1 429,384.6 429.2,382.7 429.5,386.9 429.8,388.2 429.9,395.5 429.9,390.8 429.9,389.9 430,386.7 430,388.7 430.4,384.6 430.5,388.6 430.5,390.4 430.6,383.2 430.6,381.9 430.7,390.2 430.7,387.7 430.7,378.7 430.9,389 430.9,374.8 431,384 431,379 431.1,386.9 431.3,395.3 431.4,382.6 431.4,385.9 431.6,387.9 431.7,388.3 432.2,375.8 432.4,385.2 432.5,389.5 432.6,401.3 432.7,384.3 432.8,390.1 432.8,386.7 432.8,392.9 432.9,387.6 433,390.1 433,387.2 433,387.5 433.1,384.5 433.1,391.6 433.1,388.3 433.3,395.6 433.5,394.1 433.5,393.3 433.5,393.1 433.6,392.1 433.6,391.4 433.6,388.5 433.8,395.1 433.9,393.9 434.1,394.5 434.2,391.4 434.3,392.9 434.4,397.7 434.5,393.8 434.5,395.1 434.7,398.7 434.8,392.9 434.8,395.7 434.9,387.3 435,398 435.3,393.2 435.5,390.2 435.6,401 435.7,394.4 435.7,394.6 435.8,406 435.9,401.6 436,394.6 436,403.5 436.1,390 436.2,394.6 436.4,397.9 436.4,390.3 436.6,400.1 436.9,396.8 437,394.9 437,397.6 437.1,396.8 437.1,392 437.6,396.1 437.8,399.5 438.1,395.5 438.2,397.2 438.3,397.7 438.3,391.8 438.3,394.7 438.4,396.5 438.5,392.4 438.6,390.6 438.6,389.2 438.6,392.5 438.6,390 439,390 439.1,390.1 439.1,390.5 439.2,394.8 439.3,389.6 439.3,392.7 439.3,388.2 439.3,387 439.3,395.9 439.3,393.1 439.3,394.4 439.4,388.3 439.4,392.2 439.5,389.8 439.5,387.6 439.6,391.1 439.6,391.4 439.7,390.2 439.7,385.3 439.7,391.7 439.9,392.9 439.9,384.1 439.9,386.6 440,387.3 440.4,384.1 440.5,387.4 440.6,386.4 440.9,389.4 441,385.5 441.1,389.9 441.1,391.9 441.1,389.5 441.2,387.7 441.2,386.3 441.2,390.4 441.2,391 441.4,387 441.4,388.4 441.4,392.7 441.5,391.1 441.6,394.7 441.8,385.9 441.8,392.7 441.8,391.4 442,390 442,385.9 442,389.5 442,389.1 442.1,388.7 442.2,386.4 442.3,396.3 442.4,394 442.5,389.9 442.7,390.2 443.3,391.3 443.4,387.7 443.4,391.8 443.5,394.3 443.5,389.7 443.7,386.9 443.7,382.5 443.7,389.1 443.7,388.5 443.8,391.3 443.9,387.4 443.9,388.6 444,392.9 444,392.5 444,395.1 444.1,393.6 444.2,391.3 444.2,401.1 444.3,391.9 444.4,393.9 444.4,389.4 444.5,387.3 444.8,394.4 445,393.7 445.2,391.3 445.3,394.1 445.5,399.1 445.7,393.3 445.7,395.7 445.7,396.5 445.9,401.1 446.1,400.7 446.2,391.9 446.2,395 446.3,393.9 446.3,397.1 446.3,397.5 446.3,390.1 446.5,395.7 446.6,399.9 446.7,398.3 446.8,397.6 447,395.7 447,392.8 447.1,397.1 447.2,398.1 447.2,398.5 447.3,397 447.3,398.3 447.3,397.6 447.6,396.5 447.7,403.2 447.7,397 447.9,398.6 447.9,394.7 448,400.3 448.1,400.1 448.2,394.8 448.3,403.3 448.4,397.7 448.4,396.9 448.6,395.9 448.9,403.8 449.4,397.5 449.4,400.4 449.5,400.5 449.6,399.5 449.6,399.9 449.8,403.6 449.8,400.1 450.2,401.2 450.2,400.3 450.6,403.4 450.6,399 450.6,398.7 450.8,396.1 450.9,397.2 451.2,405.6 451.2,399.3 451.2,400.2 451.2,404.1 451.3,403.1 451.3,402.6 451.3,395.7 451.5,399.6 451.7,404.3 451.9,401.6 451.9,406.1 452.1,405.6 452.1,400.1 452.2,401.3 452.2,402 452.2,401 452.2,398.2 452.3,410.5 452.4,396.3 452.4,406.4 452.5,404 452.6,401.8 452.7,403.8 452.7,404.5 452.9,403 453,405.5 453.1,406.2 453.2,408.2 453.3,405.9 453.3,400 453.4,401.8 453.7,403.8 454.3,403.6 454.4,407.7 454.4,408.6 454.5,403.9 454.9,411.4 455,409.6 455.3,402.3 455.3,399.6 455.7,409.9 455.7,401.4 455.7,411.5 455.8,398.1 456,408.4 456,402.7 456.1,403.1 456.2,409 456.2,404.9 456.2,398.8 456.3,401 456.3,405.4 456.3,403.6 456.3,407.6 456.4,408.1 456.4,403.2 456.5,401.3 456.6,410.4 456.6,402.6 456.6,402.5 456.8,401.5 456.9,405.1 456.9,404.7 457,405.9 457.1,410.4 457.2,403.2 457.5,408.9 457.5,398.2 457.7,402.6 457.8,406.7 457.8,399.5 457.9,402.2 458.1,403.5 458.1,401.8 458.1,404.8 458.1,399.6 458.4,405.8 458.5,409.5 458.6,406.6 458.7,395.6 458.9,404.3 459.2,402.5 459.3,402.8 459.4,401.6 459.6,408.3 459.8,408.2 459.8,403.9 459.8,406.7 459.8,406.3 460,404 460.1,404.7 460.2,405.4 460.3,404 460.4,407.6 460.5,406.1 460.7,408.8 460.7,407.3 460.7,405.3 460.9,405.2 460.9,399.8 461.2,399.4 461.2,403.1 461.2,406.4 461.3,404.7 461.3,410 461.4,404.7 461.7,405.8 462.2,405 462.3,404.7 462.4,406.7 462.4,402.7 462.4,406.7 462.5,408.4 462.7,401.8 462.8,399.5 462.8,406 462.9,402.9 463.1,405.8 463.1,404.7 463.2,403.6 463.3,402.7 463.5,406.4 463.5,401.6 463.5,407 463.7,404.4 463.7,412.9 463.7,408.7 463.7,410.5 463.9,403.7 464,408.8 464.1,410.1 464.1,407 464.2,403.1 464.3,406.1 464.3,408.6 464.6,407.5 464.7,401.9 464.9,408.7 464.9,408.7 464.9,412 465,411.1 465,413.2 465.2,409.9 465.3,414.5 465.5,405.3 465.7,404.8 465.7,406.9 465.7,402.6 465.8,404.3 465.9,408 465.9,406.8 466.3,405.9 466.6,406.1 466.7,401.9 466.7,403 466.7,406.1 466.7,400.6 466.8,406 466.9,398 467,401.1 467.1,403.5 467.1,402.2 467.2,400.7 467.2,404 467.4,404.7 467.4,402 467.7,403.9 467.7,403.3 468,400.2 468.1,407.9 468.4,404.3 468.6,402.1 468.9,399.3 469,400.6 469.1,402.3 469.3,405.2 469.4,394.7 469.7,395.5 469.7,399.2 469.7,397.7 469.9,394.5 470.4,393.3 470.4,396.3 470.5,397 470.5,391.8 470.6,394 470.6,391.7 470.7,396.3 470.7,389.8 470.8,391.4 470.8,396.1 470.9,391 471.2,393.5 471.3,389.5 471.4,399.5 471.8,393 472,397 472.1,395 472.2,391.3 472.3,391.9 472.4,391.3 472.5,397.5 472.6,396.7 472.7,390.2 472.8,393.3 472.8,390.4 472.9,392.5 472.9,390.1 473,392.1 473.1,392.1 473.2,399.9 473.2,388.8 473.4,395.8 473.4,397.1 473.4,404.4 473.5,394 473.5,391.5 473.6,392.5 473.7,399.7 474,393.3 474,399.6 474.1,399.5 474.2,404.7 474.2,395.1 474.8,400.3 475.1,399.9 475.2,398.7 475.2,395.7 475.2,399.2 475.2,398.4 475.3,398.5 475.7,400.2 475.7,403.4 475.7,403.9 475.7,400.5 475.8,400.2 475.8,399.7 475.9,398 475.9,399.2 476,399.7 476.4,411 476.4,403.5 476.4,406.4 476.5,404.4 476.6,407.9 476.7,401.1 476.8,407.3 476.9,405.4 477,408.1 477.1,401 477.3,405.7 477.3,402.3 477.3,406 477.3,403.6 477.5,405.4 477.5,405.2 477.8,407.9 478,407.3 478,409.3 478.2,412.4 478.3,410.1 478.6,408.2 478.7,404.8 479.1,406.2 479.3,408.8 479.4,401.1 479.4,408.3 479.5,403.3 479.8,404.8 479.8,403.3 479.9,400.7 480.1,404.7 480.2,400.8 480.2,403.6 480.2,405.7 480.2,401 480.5,406.8 480.5,404.2 480.6,407.2 480.7,406.4 480.8,406.5 480.9,410.2 481,408.9 481,410.3 481.3,410.8 481.5,409.8 481.6,410.5 481.9,412.3 482,411.3 482.2,407.3 482.3,409.2 482.3,406.4 482.4,409.3 482.4,401.7 482.8,410.9 482.8,407.2 483.1,410.9 483.3,411.9 483.3,408.7 483.5,404.8 483.5,405.9 483.6,404.4 484,410.8 484.1,409.9 484.1,404.7 484.4,405.2 484.6,406 484.7,408.4 484.8,410.1 484.8,405.9 484.9,407.6 485,408 485.1,404.2 485.2,407.1 485.3,409 485.5,400.1 485.6,409.4 485.6,408.3 485.7,408.1 486,407.8 486,405.5 486.3,406.7 486.6,407.2 486.6,404.8 486.7,408.1 486.9,410.3 487.2,407.1 487.2,405.1 487.8,409.8 487.8,404.7 488.2,403.7 488.3,405.9 488.3,408.3 488.4,414 488.7,409.6 488.8,412.9 488.9,406.4 489,405.7 489,409.8 489.1,409.1 489.2,410 489.4,413.8 489.4,409.3 489.5,413.5 489.6,410.6 489.6,412.8 489.6,408.1 489.7,414.7 490,413.4 490.2,411 490.5,413.9 490.8,413.1 490.9,415.7 491.2,419.5 491.3,416.3 491.5,418.2 491.5,416.1 491.5,419.3 491.6,420.3 491.7,417.3 491.8,417 491.8,420.7 491.8,420.4 491.9,419.5 492,422 492,416.6 492,418.8 492.1,421.2 492.1,419.2 492.2,416.8 492.3,419.6 492.3,423.1 492.4,422.5 492.7,420.3 492.7,419 492.7,419.6 492.8,421.8 492.8,416.9 492.9,422.6 493.1,421.9 493.2,419.9 493.3,418.2 493.4,421.6 493.6,419 493.6,423.2 493.9,428.3 493.9,424.6 494,425.1 494,426.3 494.1,426.1 494.2,423.7 494.3,425.9 494.9,427 494.9,423.7 495.1,426.4 495.4,428.3 496,430.7 496,428.9 496.2,430.1 496.2,429.5 496.2,432.7 496.3,429.7 496.4,433.2 496.6,432.3 497.1,431.7 497.1,435.7 497.2,432.6 497.4,435.4 497.6,434.4 497.6,433.6 497.7,435.6 497.9,437.5 498.2,434.4 498.3,436.7 498.4,436.2 498.7,439.4 498.8,437.6 498.8,436.4 498.8,439.9 499,435.8 499.1,436.2 499.2,438.5 499.3,437.1 499.6,437.2 499.9,440.3 500.2,435.6 500.4,440 500.6,439.5 500.9,436.8 501,437.8 501.5,435.4 501.6,437.1 501.7,435.1 502.1,438.7 502.5,435.9 502.6,437.8 502.8,437.1 503,436.8 503,436.3 503.2,435.9 503.8,434.5 504.1,433.9 504.1,434 504.2,434.9 504.6,435.2 504.6,434.7 504.9,436.8 505.8,433.6 506.1,435.9 506.2,438 506.8,434.9 508.6,432.5 509.3,433.7 509.4,433.8 510.4,433.8 510.5,434.2 510.6,433.2 510.8,433.5 511.2,434.1 511.4,434.7 511.9,432.7 512.8,431 513.8,430.9 514.4,429.3 515.1,428.1 515.3,428.2 515.6,429.3 515.8,429 516.2,429.8 517.4,427.4 520.7,422.4 520.9,422 521.2,423.7 521.2,421.1 522.9,420.4 523.1,420.4 524.2,417.6 524.3,416.6 524.5,417.7 524.9,416.3 525.2,415.9 526.5,413.9 527.1,412.5 527.1,413.6 527.5,411.6 528.1,412.3 528.6,410.9 528.6,410.5 528.8,410.4 529.2,410.6 529.6,411.6 530,409.3 531.3,409.6 531.9,407.2 532.4,409 532.9,409.1 533.1,409.3 533.5,409.9 536.3,407.3 537.1,407.2 537.4,407.4 537.4,406.9 537.4,407.3 538.2,404.2 538.4,406.1 538.7,407.1 540.3,405.5 540.7,405.9 541.3,404.8 541.7,404.9 543.3,404.2 543.5,402.6 544,400.1 544.5,400.5 545,398.8 545.3,399.4 546.6,398.1 546.8,396.3 547.4,396.7 547.7,396.3 548.2,396.5 549,394.8 549.5,395.2 549.7,395 550.2,393 551.2,394.9 551.6,394 552,393.9 552.2,393.7 552.2,392.8 552.7,394 552.8,392.6 554,392.4 555.1,391.4 555.8,390 556.4,391.6 556.7,389.2 557,390.9 557.1,390.6 557.7,388.8 558.9,389.9 558.9,388.7 559.6,389.1 559.8,389.9 560.6,387.7 560.6,387.5 561.1,387.2 561.4,386.9 561.9,388.1 561.9,389.2 562.5,388.5 563.7,388.9 563.7,388 566.2,387.9 566.7,386.4 566.8,388.3 568,387.6 568.9,387.1 569.1,387.5 569.3,388.1 569.5,387.7 570.1,387.6 570.4,386.4 571.1,388.2 571.1,387.3 571.2,386.8 574.4,387.7 574.7,386.8 575.1,388.5 576.7,386.7 576.9,385.7 576.9,386.7 577,387 577.1,387.6 578,385.8 578.3,387.2 578.4,385.8 578.8,386.6 579.4,384.9 580.2,384.6 580.9,384.1 581,385.9 581.9,384.9 582.1,384.4 582.3,385.5 582.9,382.5 582.9,383.8 583.1,382.7 583.2,383.4 583.4,383.1 583.6,383.6 584.2,383.4 584.3,383.8 584.8,381.6 585.9,383 586.5,383 586.9,381.8 587.5,383.1 590.1,382.1 590.9,382.3 591.9,381.3 592.6,380.7 593.7,381.3 593.9,380.8 594.4,380.5 595,379.9 595.4,378.9 595.9,380.6 596,380.1 596,379.6 596.9,382.2 597,380.7 597.1,380.5 598.1,378.8 598.8,379.1 598.9,380.2 599.4,378.2 599.8,378.7 600,380.2 600.4,378.9 601,378.3 601.1,377.5 602.3,377.4 603.6,379.3 604,378.9 604.6,379.3 606,378.7 606.7,377.8 607.3,377.4 607.7,376.9 608.1,375.8 608.3,378.7 609.3,377.2 609.8,376.2 610.8,378.4 610.9,376.1 612,377.9 612.6,377.3 612.8,376.3 613.6,375.8 614,376.9 614.7,377.1 615.8,376.9 615.8,375.1 615.8,375.5 617.4,375.7 617.4,374.7 617.5,375.8 618.5,374.4 618.7,374.3 619.1,373.6 619.5,373.3 619.5,374.7 619.7,374.4 620.1,373.8 620.3,372.5 620.7,373.7 621,374.5 621.1,372.7 621.5,373.7" marker-start="url(#mr)" marker-mid="url(#mr)" marker-end="url(#mr)"/>
<path d="M113.8,305.1 114.8,305.1 115.8,305.1 116.8,305.1 117.8,305.4 118.8,306.3 119.8,307.2 120.8,308.1 121.8,309.1 122.8,310.3 123.8,311.6 124.8,312.8 125.8,313.7 126.8,314.6 127.8,315.4 128.8,316.2 129.8,317 130.8,317.2 131.8,317.4 132.8,317.5 133.8,317.7 134.8,318.1 135.8,318.8 136.8,319.4 137.8,320.1 138.8,320.8 139.8,321.6 140.8,322.4 141.8,323.1 142.8,323.8 143.8,324.2 144.8,324.6 145.8,326.7 146.8,329.2 147.8,331.7 148.8,333.3 149.8,334.5 150.8,335.8 151.8,336.4 152.8,336.8 153.8,337.2 154.8,337.6 155.8,338.4 156.8,339.2 157.8,340.1 158.8,340.9 159.8,341.7 160.8,342 161.8,342 162.8,341.9 163.8,341.9 164.8,341.8 165.8,341.8 166.8,343.2 167.8,345.7 168.8,348.1 169.8,350.1 170.8,352.1 171.8,354.1 172.8,355.3 173.8,355.9 174.8,356.5 175.8,356.7 176.8,356.2 177.8,355.7 178.8,355.2 179.8,354.7 180.8,354.1 181.8,353.1 182.8,352.1 183.8,351.1 184.8,349.8 185.8,347.8 186.8,345.8 187.8,343.8 188.8,341.8 189.8,340.1 190.8,338.5 191.8,337 192.8,335.4 193.8,334.2 194.8,332.9 195.8,331.7 196.8,330.4 197.8,328.4 198.8,326.4 199.8,324.7 200.8,324.1 201.8,323.6 202.8,323.1 203.8,322.6 204.8,322.5 205.8,322.9 206.8,323.2 207.8,323.5 208.8,323.9 209.8,324.2 210.8,324.4 211.8,324.4 212.8,324.4 213.8,324.4 214.8,324.4 215.8,324.4 216.8,324.3 217.8,324.1 218.8,324 219.8,323.8 220.8,323.6 221.8,323.5 222.8,323.2 223.8,322.5 224.8,321.9 225.8,321.3 226.8,320.7 227.8,320 228.8,319.3 229.8,318.6 230.8,317.9 231.8,318.3 232.8,318.8 233.8,318.8 234.8,317.5 235.8,316.2 236.8,315.4 237.8,314.9 238.8,314.5 239.8,314.1 240.8,313.8 241.8,313.5 242.8,313 243.8,312.3 244.8,311.7 245.8,311.1 246.8,310.5 247.8,309.9 248.8,309.3 249.8,308.7 250.8,308.1 251.8,307.6 252.8,307.2 253.8,306.9 254.8,305.6 255.8,304.1 256.8,302.6 257.8,301.3 258.8,300.1 259.8,299.3 260.8,299.7 261.8,300.2 262.8,300.2 263.8,299.8 264.8,298.4 265.8,297 266.8,297.2 267.8,298.1 268.8,296.9 269.8,295.8 270.8,296.7 271.8,297.8 272.8,298.3 273.8,298.7 274.8,299.1 275.8,299.4 276.8,299.6 277.8,299.9 278.8,300.5 279.8,302 280.8,303.6 281.8,305.1 282.8,306.6 283.8,307.2 284.8,307.4 285.8,307.7 286.8,308.4 287.8,309.2 288.8,309.7 289.8,309.6 290.8,309.6 291.8,310.5 292.8,311.4 293.8,312.3 294.8,313 295.8,313.7 296.8,314.4 297.8,315.1 298.8,315.5 299.8,314.7 300.8,313.9 301.8,312.8 302.8,311.3 303.8,309.9 304.8,308.8 305.8,308.5 306.8,310.3 307.8,312.4 308.8,314.6 309.8,316.9 310.8,319.4 311.8,320.1 312.8,319.3 313.8,321.7 314.8,324.8 315.8,327.9 316.8,327.8 317.8,324.5 318.8,320.7 319.8,316.6 320.8,314.2 321.8,315.7 322.8,317.3 323.8,318.8 324.8,320.3 325.8,320.9 326.8,321.4 327.8,320.9 328.8,319.5 329.8,318.2 330.8,317 331.8,316 332.8,315.9 333.8,316 334.8,316.5 335.8,317 336.8,317.8 337.8,318.9 338.8,320 339.8,320.2 340.8,318.4 341.8,317.1 342.8,317.9 343.8,317.4 344.8,315.4 345.8,314.1 346.8,314.7 347.8,315.7 348.8,317.2 349.8,318.4 350.8,317 351.8,315.2 352.8,313.5 353.8,312 354.8,311.3 355.8,312.8 356.8,314.4 357.8,315 358.8,315.5 359.8,315.7 360.8,315.9 361.8,317.5 362.8,319.3 363.8,320.9 364.8,322.3 365.8,322.3 366.8,321.4 367.8,319.9 368.8,317.1 369.8,314.6 370.8,312.8 371.8,313.7 372.8,315.2 373.8,316.4 374.8,317.4 375.8,318.1 376.8,318.7 377.8,318.5 378.8,316.9 379.8,315.3 380.8,313.9 381.8,312.6 382.8,312.1 383.8,311.7 384.8,311.5 385.8,311.4 386.8,311.7 387.8,313.1 388.8,314.5 389.8,313.8 390.8,311.6 391.8,309.6 392.8,308.5 393.8,308.1 394.8,308 395.8,305.8 396.8,304.5 397.8,307.6 398.8,310.7 399.8,311.9 400.8,313.2 401.8,314.7 402.8,316.5 403.8,320.1 404.8,324.2 405.8,326.4 406.8,328.1 407.8,330.1 408.8,333 409.8,334.5 410.8,334.8 411.8,335.2 412.8,335.7 413.8,336.4 414.8,338.7 415.8,341.3 416.8,344.1 417.8,346.9 418.8,348.8 419.8,349.3 420.8,350.3 421.8,351.7 422.8,352.5 423.8,352.9 424.8,353.2 425.8,353.1 426.8,353.1 427.8,352.9 428.8,352.7 429.8,352.2 430.8,351.5 431.8,352.9 432.8,354.8 433.8,357.7 434.8,360.7 435.8,361.7 436.8,360.6 437.8,359.1 438.8,356.9 439.8,355 440.8,355.8 441.8,357.1 442.8,357.6 443.8,357.8 444.8,358.1 445.8,359.9 446.8,362.1 447.8,364.4 448.8,366.8 449.8,369.1 450.8,370.6 451.8,372.1 452.8,373.6 453.8,374.8 454.8,375.6 455.8,376.5 456.8,377.2 457.8,378 458.8,378.7 459.8,379.3 460.8,379.6 461.8,379.9 462.8,379.8 463.8,379 464.8,378.7 465.8,379.7 466.8,376.9 467.8,373.8 468.8,371.7 469.8,369.8 470.8,369.5 471.8,369.6 472.8,369.4 473.8,369.4 474.8,371.9 475.8,375.4 476.8,381.6 477.8,386.1 478.8,383.7 479.8,383.4 480.8,387 481.8,388.4 482.8,386.7 483.8,385.4 484.8,385.7 485.8,386.1 486.8,386 487.8,385.7 488.8,388.3 489.8,392.7 490.8,396.5 491.8,399.2 492.8,401.9 493.8,404.5 494.8,406.8 495.8,409 496.8,411.9 497.8,416.4 498.8,420.8 499.8,421.8 500.8,422 501.8,422 502.8,419.6 503.8,416.6 504.8,415.2 505.8,414.9 506.8,414.9 507.8,415.6 508.8,416.4 509.8,416.8 510.8,416.3 511.8,415.8 512.8,415.3 513.8,414.8 514.8,414 515.8,413 516.8,412 517.8,411 518.8,409.8 519.8,408.4 520.8,406.9 521.8,405.4 522.8,403.9 523.8,402.2 524.8,400.4 525.8,398.6 526.8,396.8 527.8,395 528.8,393.9 529.8,392.9 530.8,392 531.8,391.7 532.8,391.5 533.8,391.4 534.8,391.2 535.8,390.9 536.8,390.2 537.8,389.4 538.8,388.7 539.8,388.4 540.8,388.4 541.8,388.3 542.8,388.3 543.8,387.4 544.8,385.2 545.8,383 546.8,381.1 547.8,379.5 548.8,377.9 549.8,376.9 550.8,376.5 551.8,376.1 552.8,375.7 553.8,375.3 554.8,374.9 555.8,374.3 556.8,373.7 557.8,373 558.8,372.4 559.8,371.8 560.8,371.3 561.8,371.1 562.8,371 563.8,370.9 564.8,370.8 565.8,370.7 566.8,370.5 567.8,370.3 568.8,370 569.8,369.7 570.8,369.5 571.8,369.4 572.8,369.4 573.8,369.3 574.8,369.3 575.8,369.1 576.8,368.7 577.8,368.3 578.8,367.9 579.8,367.6 580.8,367.1 581.8,366.5 582.8,365.8 583.8,365.1 584.8,364.2 585.8,362.6 586.8,361.2 587.8,360.9 588.8,360.8 589.8,360.7 590.8,360.6 591.8,361.1 592.8,362 593.8,362.8 594.8,363.4 595.8,363.3 596.8,363.1 597.8,362.9 598.8,362.2 599.8,361 600.8,359.9 601.8,358.8 602.8,358.2 603.8,357.7 604.8,357.2 605.8,356.7 606.8,356.3 607.8,356.2 608.8,356.1 609.8,355.9 610.8,355.8 611.8,355.6 612.8,355.2 613.8,354.8 614.8,354.4 615.8,354 616.8,353.7 617.8,353.4 618.8,353.2 619.8,352.9 620.8,352.6 620.8,358.1 619.8,358.4 618.8,358.7 617.8,358.9 616.8,359.2 615.8,359.5 614.8,359.9 613.8,360.3 612.8,360.7 611.8,361.1 610.8,361.3 609.8,361.4 608.8,361.6 607.8,361.7 606.8,361.8 605.8,362.2 604.8,362.7 603.8,363.2 602.8,363.7 601.8,364.3 600.8,365.4 599.8,366.5 598.8,367.7 597.8,368.4 596.8,368.6 595.8,368.8 594.8,368.9 593.8,368.3 592.8,367.5 591.8,366.6 590.8,366.1 589.8,366.2 588.8,366.3 587.8,366.4 586.8,366.7 585.8,368.1 584.8,369.7 583.8,370.6 582.8,371.3 581.8,372 580.8,372.6 579.8,373.1 578.8,373.4 577.8,373.8 576.8,374.2 575.8,374.6 574.8,374.8 573.8,374.8 572.8,374.9 571.8,374.9 570.8,375 569.8,375.2 568.8,375.5 567.8,375.8 566.8,376 565.8,376.2 564.8,376.3 563.8,376.4 562.8,376.5 561.8,376.6 560.8,376.8 559.8,377.3 558.8,377.9 557.8,378.5 556.8,379.2 555.8,379.8 554.8,380.4 553.8,380.8 552.8,381.2 551.8,381.6 550.8,382 549.8,382.4 548.8,383.4 547.8,385 546.8,386.6 545.8,388.5 544.8,390.7 543.8,392.9 542.8,393.8 541.8,393.8 540.8,393.9 539.8,393.9 538.8,394.2 537.8,394.9 536.8,395.7 535.8,396.4 534.8,396.7 533.8,396.9 532.8,397 531.8,397.2 530.8,397.5 529.8,398.4 528.8,399.4 527.8,400.5 526.8,402.3 525.8,404.1 524.8,405.9 523.8,407.7 522.8,409.4 521.8,410.9 520.8,412.4 519.8,413.9 518.8,415.3 517.8,416.5 516.8,417.5 515.8,418.5 514.8,419.5 513.8,420.3 512.8,420.8 511.8,421.3 510.8,421.8 509.8,422.3 508.8,421.9 507.8,421.1 506.8,420.4 505.8,420.4 504.8,420.7 503.8,422.1 502.8,425.1 501.8,427.5 500.8,427.5 499.8,427.3 498.8,426.3 497.8,421.9 496.8,417.4 495.8,414.5 494.8,412.3 493.8,410 492.8,407.4 491.8,404.7 490.8,402 489.8,398.2 488.8,393.8 487.8,391.2 486.8,391.5 485.8,391.6 484.8,391.2 483.8,390.9 482.8,392.2 481.8,393.9 480.8,392.5 479.8,388.9 478.8,389.2 477.8,391.6 476.8,387.1 475.8,380.9 474.8,377.4 473.8,374.9 472.8,374.9 471.8,375.1 470.8,375 469.8,375.3 468.8,377.2 467.8,379.3 466.8,382.4 465.8,385.2 464.8,384.2 463.8,384.5 462.8,385.3 461.8,385.4 460.8,385.2 459.8,385 458.8,384.5 457.8,383.8 456.8,383.2 455.8,382.5 454.8,381.7 453.8,381 452.8,379.8 451.8,378.5 450.8,377.1 449.8,375.6 448.8,373.5 447.8,371.1 446.8,368.9 445.8,366.8 444.8,365.2 443.8,365 442.8,364.8 441.8,364.4 440.8,363.2 439.8,362.5 438.8,364.5 437.8,366.7 436.8,368.3 435.8,369.5 434.8,368.5 433.8,365.5 432.8,362.7 431.8,360.8 430.8,359.5 429.8,360.3 428.8,360.9 427.8,361.1 426.8,361.3 425.8,361.4 424.8,361.5 423.8,361.3 422.8,361 421.8,360.2 420.8,358.9 419.8,358 418.8,357.8 417.8,356.2 416.8,353.6 415.8,351.1 414.8,348.8 413.8,346.8 412.8,346.3 411.8,346.1 410.8,346 409.8,346 408.8,344.7 407.8,342.2 406.8,340.4 405.8,339 404.8,337.1 403.8,333.3 402.8,329.9 401.8,328.4 400.8,327.2 399.8,326.1 398.8,324.9 397.8,321.8 396.8,318.6 395.8,320 394.8,322.2 393.8,322.2 392.8,322.6 391.8,323.7 390.8,325.7 389.8,327.9 388.8,328.7 387.8,327.3 386.8,325.9 385.8,325.5 384.8,325.6 383.8,325.8 382.8,326.1 381.8,326.7 380.8,328 379.8,329.4 378.8,330.9 377.8,332.5 376.8,332.8 375.8,332.2 374.8,331.4 373.8,330.4 372.8,329.3 371.8,327.7 370.8,326.8 369.8,328.5 368.8,331 367.8,333.9 366.8,335.4 365.8,336.3 364.8,336.2 363.8,334.8 362.8,333.3 361.8,331.4 360.8,329.8 359.8,329.6 358.8,329.4 357.8,328.9 356.8,328.3 355.8,326.7 354.8,325.2 353.8,325.9 352.8,327.4 351.8,329 350.8,330.8 349.8,332.3 348.8,331.1 347.8,329.5 346.8,328.5 345.8,328 344.8,329.2 343.8,331.2 342.8,331.7 341.8,330.9 340.8,332.2 339.8,334 338.8,333.8 337.8,332.7 336.8,331.6 335.8,330.8 334.8,330.2 333.8,329.8 332.8,329.6 331.8,329.7 330.8,330.7 329.8,331.9 328.8,333.2 327.8,334.6 326.8,335.1 325.8,334.6 324.8,333.9 323.8,332.4 322.8,330.9 321.8,329.4 320.8,327.8 319.8,330.2 318.8,334.4 317.8,338.2 316.8,341.4 315.8,341.5 314.8,338.4 313.8,335.3 312.8,332.9 311.8,333.7 310.8,333 309.8,330.4 308.8,328.1 307.8,325.9 306.8,323.8 305.8,322 304.8,322.3 303.8,323.4 302.8,324.8 301.8,326.3 300.8,327.4 299.8,328.2 298.8,328.9 297.8,328.5 296.8,327.7 295.8,327 294.8,326.2 293.8,325.4 292.8,324.4 291.8,323.5 290.8,322.6 289.8,322.5 288.8,322.4 287.8,321.9 286.8,321.1 285.8,320.3 284.8,319.9 283.8,319.7 282.8,319 281.8,317.5 280.8,315.9 279.8,314.3 278.8,312.7 277.8,312 276.8,311.6 275.8,311.3 274.8,311 273.8,310.5 272.8,310.1 271.8,309.5 270.8,308.3 269.8,307.4 268.8,308.4 267.8,309.6 266.8,308.6 265.8,308.3 264.8,309.7 263.8,311.1 262.8,311.3 261.8,311.2 260.8,310.5 259.8,309.8 258.8,310.4 257.8,311.4 256.8,312.4 255.8,313.6 254.8,314.9 253.8,316 252.8,316 251.8,316.1 250.8,316.2 249.8,316.4 248.8,316.7 247.8,316.9 246.8,317.1 245.8,317.4 244.8,317.7 243.8,318.2 242.8,318.6 241.8,319 240.8,319.3 239.8,319.6 238.8,320 237.8,320.4 236.8,320.9 235.8,321.7 234.8,323 233.8,324.3 232.8,324.3 231.8,323.8 230.8,323.4 229.8,324.1 228.8,324.8 227.8,325.5 226.8,326.2 225.8,326.8 224.8,327.4 223.8,328 222.8,328.7 221.8,329 220.8,329.1 219.8,329.3 218.8,329.5 217.8,329.6 216.8,329.8 215.8,329.9 214.8,329.9 213.8,329.9 212.8,329.9 211.8,329.9 210.8,329.9 209.8,329.7 208.8,329.4 207.8,329 206.8,328.7 205.8,328.4 204.8,328 203.8,328.1 202.8,328.6 201.8,329.1 200.8,329.6 199.8,330.2 198.8,331.9 197.8,333.9 196.8,335.9 195.8,337.2 194.8,338.4 193.8,339.7 192.8,340.9 191.8,342.5 190.8,344 189.8,345.6 188.8,347.3 187.8,349.3 186.8,351.3 185.8,353.3 184.8,355.3 183.8,356.6 182.8,357.6 181.8,358.6 180.8,359.6 179.8,360.2 178.8,360.7 177.8,361.2 176.8,361.7 175.8,362.2 174.8,362 173.8,361.4 172.8,360.8 171.8,359.6 170.8,357.6 169.8,355.6 168.8,353.6 167.8,351.2 166.8,348.7 165.8,347.3 164.8,347.3 163.8,347.4 162.8,347.4 161.8,347.5 160.8,347.5 159.8,347.2 158.8,346.4 157.8,345.6 156.8,344.7 155.8,343.9 154.8,343.1 153.8,342.7 152.8,342.3 151.8,341.9 150.8,341.3 149.8,340 148.8,338.8 147.8,337.2 146.8,334.7 145.8,332.2 144.8,330.1 143.8,329.7 142.8,329.3 141.8,328.6 140.8,327.9 139.8,327.1 138.8,326.3 137.8,325.6 136.8,324.9 135.8,324.3 134.8,323.6 133.8,323.2 132.8,323 131.8,322.9 130.8,322.7 129.8,322.5 128.8,321.7 127.8,320.9 126.8,320.1 125.8,319.2 124.8,318.3 123.8,317.1 122.8,315.8 121.8,314.6 120.8,313.6 119.8,312.7 118.8,311.8 117.8,310.9 116.8,310.6 115.8,310.6 114.8,310.6 113.8,310.6Z" fill="#6e6eff"/>
<path d="M115,307.7 115.2,307.7 116.1,307.6 116.3,307.7 116.6,307.7 117.2,307.4 117.3,307.7 118.1,307.3 118.4,308.6 119.1,307.5 119.2,309.6 119.4,309.4 119.9,310.9 120.4,310.9 120.9,308.6 121.9,311.1 121.9,312.6 122.3,312.8 122.7,310.5 122.9,313.4 123.5,313.4 124.1,315.5 124.1,313.6 124.2,314.6 124.4,313.4 124.4,315.4 125,315.7 126,315.8 126.5,317.1 127.8,317.4 127.9,317.4 128,318.7 128.2,317 129.1,320.6 129.8,319 131,320.4 131.9,319.9 133.6,320.6 133.8,320.5 134.4,320.1 134.8,320.3 135,321.6 135.5,321.9 136.7,322.8 137,322.9 137.1,324.1 137.7,322.2 138.1,322.3 138.1,322.8 138.6,322.6 139.1,323.8 139.2,324.1 139.3,324.6 139.9,323.8 140.1,324.3 140.2,323.6 140.8,323.2 141.6,326.6 142.4,326.8 143,325.5 143.1,326 143.2,327.3 143.6,327 144,329 144.7,327.1 144.9,327.5 145.7,328.1 146,330.3 146.1,329 146.9,332.2 147,332.6 147.3,332.6 147.7,333.1 148.2,335.6 148.6,334.9 149.1,335.9 149.3,335.2 149.5,336.1 150.4,337.3 151,338.1 151.6,337.9 152.1,339.6 152.2,339.4 152.6,337.9 154.9,341.3 155,340.7 155.2,337.6 156.5,342.9 156.7,340.6 157,342.5 157.3,341.2 158.3,342.4 158.4,343.1 158.7,342.4 160.8,343.7 161.2,344.2 161.3,344.5 161.8,344.5 162.4,345.4 162.4,343 162.9,344.2 164.3,344.2 164.5,345 165.1,345.5 165.3,344.7 167.5,345.4 169.4,351.3 170,352.9 170.1,353.7 170.3,353.9 170.6,352.8 170.7,352.2 170.8,355.4 172.1,356.8 172.4,358.5 172.7,357.2 174.3,359.4 174.4,358.9 175.2,359.3 175.8,358.5 175.9,359.5 176.4,357.9 177,360.5 177,358.8 177.2,359.7 178.5,358.3 178.7,358.5 178.7,358.2 179.6,357.3 180.6,356.8 182,355.9 183.3,355.4 183.3,354.7 183.5,353.3 183.6,354.1 184.2,352.6 184.3,354.1 184.5,354.2 184.6,353 184.9,351 185.6,353.1 185.7,349.6 185.7,350.7 185.8,352.1 185.9,351.2 186,351.1 187.5,348 187.9,344.6 188.1,347 188.5,344.5 188.7,344.8 189.4,344.3 190,342.9 190.3,341.4 191.2,340.6 191.4,339.3 191.8,340.8 193.4,337.5 193.5,337.4 194.1,336.8 194.2,336.6 195.8,335.4 196.2,335.9 196.9,334.1 197.5,332.6 197.9,330.6 198.1,331.1 200,326.9 200.3,327.2 200.8,326.7 200.9,328.9 201,326.6 201.3,329.2 201.6,326.7 201.8,325.8 201.9,326.7 202.4,325 203.9,325.2 203.9,326.6 204.6,325.4 205.1,327.1 205.1,322.7 205.2,323.7 205.3,325.5 206.5,324.8 207.8,325.8 208.2,327.1 209.1,327 209.7,325.8 210.5,325.6 210.9,327.2 211,327.4 212.2,325.5 212.6,326.5 212.6,328.6 213.1,328.9 215.1,327.7 215.4,325.6 216.6,327.6 216.6,326.6 217,325.4 217.3,327.2 218,326.9 218.3,327.4 219.6,325.8 219.8,328.2 219.8,325.5 219.9,328 220.4,327.8 220.5,325.5 221.2,325.4 221.4,326.2 221.5,325.8 222,327.5 222.1,326.2 222.7,325.3 223.3,325.8 223.5,325.7 223.7,325.1 226.5,324.5 226.9,323.5 227.4,323.1 227.7,322.6 227.7,322.6 228.4,323.1 228.7,323 228.8,322.3 228.8,323.5 228.9,322.9 229.8,321 230.3,321.4 230.3,321 230.5,322.8 230.6,321.5 230.8,320.1 232.7,322.4 233,325 233.1,323.5 233.3,322.5 233.3,324 233.4,321.6 233.5,321.8 233.5,322.8 233.7,321.5 233.8,320.5 233.9,322.2 234.1,322.1 234.1,320.6 234.2,323.7 234.4,320.1 234.7,319.8 234.8,320.8 234.9,319.6 235,324.4 235.2,320.9 235.4,316.9 235.4,314.8 235.7,316.6 236.3,318.8 236.3,320.6 236.5,317.7 236.6,319.5 236.6,316.9 236.6,318.9 237.1,319.2 237.1,318.8 237.2,319.5 237.2,320.7 237.5,316.4 237.6,319.4 237.8,314.1 238,320.4 238.2,316 238.3,319.6 238.3,316.5 238.7,321.3 238.8,315.2 239,316.8 239,318.7 239.1,316.6 239.3,317.4 239.4,318.1 239.4,320.9 239.6,314.4 239.6,320 239.8,313.2 239.8,314.9 239.9,319.9 239.9,319.3 240,320.6 240.1,314.3 240.1,315 240.2,318.9 240.2,314.2 240.3,319.6 240.5,320.3 240.5,315.3 240.6,321.5 240.8,312.3 241.3,319 241.3,313.3 241.3,314.3 241.4,321 241.5,316.2 241.6,312.5 241.8,315.6 241.9,316.4 242.1,318 242.1,314.6 242.3,312.9 242.3,315.3 242.5,318.3 242.7,320.7 242.8,320 242.9,315.4 243,315.5 243.2,311.6 243.2,316.3 243.4,314.4 243.7,320.1 243.8,319.7 243.9,311.1 243.9,314.4 244,314.4 244.1,318.9 244.1,315.9 244.5,310.8 244.5,316.5 244.8,312.2 245,316.7 245.1,310.8 245.2,314.3 245.2,316.1 245.3,318.7 245.3,318.3 245.4,317.6 245.5,319.9 245.7,312.6 245.7,316.4 245.7,308.5 245.9,313 245.9,317.4 246,315.6 246.1,313.5 246.1,318.7 246.2,312.7 246.2,316 246.2,320.9 246.3,312.9 246.4,315.4 246.4,317.2 246.5,314.2 247,313.1 247.1,314.3 247.2,316.9 247.3,316.3 247.3,322.5 247.3,313.2 247.3,311.4 247.4,313.2 247.4,314.3 247.5,312.1 247.5,315.6 247.7,314.8 247.8,313.9 247.9,307 247.9,313.4 248.3,309.2 248.4,312.3 248.6,312.8 248.7,314.4 248.9,306.8 249.2,315.5 249.2,319.8 249.3,310 249.3,307.7 249.3,316.4 249.5,314.9 249.6,316.2 249.6,315.7 249.6,309.5 249.6,310.6 249.6,315.8 249.8,316.9 249.9,319 249.9,310.9 250.1,314.6 250.2,316 250.2,310.5 250.3,321.3 250.3,310.4 250.4,308.4 250.5,311.2 250.5,314.9 250.6,309.1 250.6,315 250.8,309.7 250.9,313.1 250.9,316.4 251,315.7 251.3,316.8 251.4,317 251.5,317.7 251.5,309.9 251.5,314.1 251.6,321.6 251.7,310 251.9,318.5 252,310.1 252.1,321 252.1,313 252.2,311.7 252.2,306.6 252.3,321.7 252.3,306.3 252.3,315 252.4,307.1 252.4,304.5 252.4,312.3 252.7,316.8 252.8,296.9 252.8,320.4 252.9,317.3 252.9,315.3 253.2,324.6 253.3,314.9 253.4,311.1 253.5,317.8 253.6,309.7 253.8,304.4 253.9,309.1 254.1,311.3 254.3,307.4 254.3,297.8 254.5,319.1 254.5,309.8 254.5,310.8 254.7,305.6 254.8,307.1 254.8,311.3 254.8,307.5 255,321.7 255.1,308 255.1,308 255.1,316.1 255.2,311.8 255.3,309.6 255.3,305.4 255.3,305.2 255.4,309.4 255.4,313.4 255.4,311.8 255.5,316.6 255.5,322.4 255.6,304.8 255.6,310.9 255.8,309 256.1,304.7 256.2,309.5 256.3,301.3 256.4,312.4 256.4,314.4 256.4,317.2 256.5,298.3 256.7,305.3 256.7,319.7 256.8,298.6 256.8,303.3 256.8,307.8 256.9,302.7 257.1,306.7 257.1,315.2 257.2,296.6 257.2,310.1 257.3,307.5 257.3,305.9 257.4,302.1 257.5,307.5 257.5,305.9 257.5,317 257.6,298.3 257.6,316.2 257.7,309.3 257.7,304.6 257.7,319.3 257.8,304.7 257.8,303.2 257.8,308.9 258,312.5 258,311.1 258.1,312.1 258.1,302.4 258.1,316.2 258.2,302.3 258.2,296.5 258.3,310.4 258.3,308.2 258.3,297.6 258.4,310.3 258.6,300 258.7,309.9 258.8,296.8 258.8,297.8 258.9,299.7 259.1,300.7 259.1,298.4 259.2,289.2 259.2,308.3 259.2,301.5 259.5,295.5 259.5,315 259.6,314.8 259.6,301.7 259.6,294.9 259.8,307.8 260.1,304 260.1,300.6 260.2,301.6 260.2,297.6 260.2,309.3 260.2,309.2 260.3,304.9 260.4,310.8 260.4,307.6 260.4,309.3 260.8,317.3 260.9,309.4 261,306.4 261,301.5 261.1,310.9 261.2,302.7 261.2,319.8 261.2,312.6 261.2,309.2 261.4,303.2 261.5,316.4 261.5,286.6 261.6,301.9 261.6,300.6 261.7,296.7 261.7,304.1 261.9,307.3 262,300.4 262.1,295.3 262.1,308.9 262.1,302.3 262.1,304.6 262.2,296.3 262.2,295.4 262.2,299.6 262.4,306 262.7,306 262.8,318.5 262.9,308.7 263,301.1 263.2,319.9 263.3,307 263.3,310.8 263.3,309.5 263.4,309.9 263.5,303.4 263.6,297 263.7,298.8 263.8,310.3 263.8,315 263.8,317.9 263.8,301.4 263.9,298.4 263.9,301.5 263.9,306.4 263.9,308.8 264,300.9 264.1,302.3 264.1,295.3 264.1,316.2 264.1,304.5 264.1,299.3 264.1,304 264.2,303.5 264.2,288.3 264.3,310.6 264.3,295.2 264.3,313.1 264.3,315.4 264.4,302.2 264.4,304 264.5,303.3 264.7,320.9 264.9,304.6 264.9,296.9 265.2,288.6 265.2,313.6 265.2,300.1 265.3,300.8 265.4,304.8 265.4,292.4 265.5,286 265.6,294.9 265.8,303.4 265.9,297.1 265.9,295 265.9,291.9 265.9,310.6 266,293.7 266.2,309.7 266.5,306.5 266.6,288.5 266.6,304.5 266.6,303.7 266.8,302.9 267,306.8 267,309.2 267,296.3 267,302.8 267.1,295.2 267.1,305.4 267.1,304.7 267.1,300.9 267.1,312.4 267.2,303.1 267.2,293.8 267.3,290.1 267.3,301.8 267.4,312.8 267.5,301.6 267.5,309.4 267.8,297.6 267.8,300.2 267.8,302.6 267.8,304.7 267.9,302.7 267.9,309 268,292.7 268,293.3 268,309.9 268,302.2 268.1,311.4 268.1,301.9 268.2,296.9 268.2,308.6 268.3,306 268.5,303.6 268.5,293 268.6,292 268.6,304.2 268.6,296.8 268.7,295 268.7,301.3 268.8,309.1 268.8,279.8 268.8,287 268.8,308 268.8,305.3 268.8,302.4 268.9,289.5 269,309.8 269.2,283.6 269.2,304.3 269.4,305.2 269.6,312.4 269.6,294.7 269.7,318.8 269.7,297.9 269.8,320 269.9,302.9 269.9,301.8 269.9,302.1 270,308.7 270,285.8 270.1,285.5 270.2,313.3 270.2,297.3 270.4,299.8 270.4,302.8 270.4,307.2 270.5,297.7 270.5,311.5 270.6,303.7 270.7,310.9 270.7,307.6 270.8,298.6 270.8,315.8 270.9,313.5 271.1,310.7 271.1,304 271.1,307.9 271.4,308.4 271.4,301.6 271.4,308 271.4,316.8 271.4,299.4 271.5,294.6 271.7,298.9 271.8,296.2 271.9,297.1 272,289.1 272,292.6 272,311.3 272.1,302.1 272.2,313.4 272.4,306.3 272.5,311.1 272.7,295.7 272.7,296.8 272.8,302.9 272.9,309.8 273,297.9 273.1,313.1 273.2,291.2 273.3,303.8 273.4,309.3 273.4,306.5 273.4,302 273.4,306.4 273.5,312.6 273.5,301.9 273.6,322.8 273.6,302.7 273.6,295.5 273.8,301.2 273.8,304.5 273.8,294.9 274,303.8 274,300 274.1,297.7 274.1,307.5 274.1,301.8 274.2,304.8 274.2,300.2 274.2,300.4 274.2,302.3 274.3,313 274.4,305.4 274.4,311.3 274.5,309.2 274.5,307.4 274.5,307.2 274.6,294.5 274.6,309.9 274.7,282 274.9,300 275,303.7 275.1,307.1 275.2,303.6 275.2,293.9 275.3,317.4 275.3,300.1 275.4,302.4 275.5,303.9 275.5,318.4 275.6,297.5 275.7,315.4 275.7,304.1 275.8,296.9 275.9,298.4 275.9,294.1 275.9,311.7 275.9,304.7 276,285.3 276,323.4 276,312.9 276.1,311.4 276.2,311.8 276.2,304.4 276.3,315.4 276.3,311.3 276.4,292.5 276.4,310.4 276.4,302.4 276.5,309.1 276.5,324.6 276.5,296.1 276.6,299.6 276.6,314.4 276.6,297.9 276.6,309.2 276.7,314.4 276.7,322.3 276.7,307.7 276.8,306.9 276.9,294.6 277,299.5 277.1,300.7 277.1,304.4 277.2,312.4 277.2,312.8 277.2,306.8 277.2,307.6 277.5,311.8 277.6,312 277.6,310.7 277.7,299.6 277.8,301.2 277.8,310.1 278,303.5 278,307.5 278.1,314 278.1,310.1 278.2,301.9 278.2,294.2 278.3,316.9 278.3,305.5 278.4,310.4 278.5,297 278.5,302.1 278.5,328.3 278.5,291.6 278.5,300.1 278.5,311.6 278.6,312.6 278.6,310.1 278.8,291.9 278.9,309.8 279.2,305.1 279.3,307.8 279.3,303.8 279.3,294.5 279.7,302.8 279.7,305.8 279.8,309.1 280,298.2 280.1,306 280.1,318.6 280.2,311.6 280.2,309.9 280.4,309.6 280.6,299.5 280.6,309 280.7,319.1 280.7,308.1 280.8,302.8 280.8,297.8 280.9,296.8 281,297 281.2,295.3 281.2,291.6 281.3,298.3 281.4,316.1 281.4,314.5 281.5,324.1 281.5,308.6 281.5,324.9 281.6,307.1 281.7,316.6 281.8,308.9 281.8,303 281.8,311.9 281.9,314.9 282,302.7 282,314 282,323.3 282,311.4 282.1,310.3 282.2,298.2 282.2,300.4 282.3,318 282.3,296.6 282.3,313.4 282.4,294.9 282.5,316.7 282.5,306.4 282.7,308.3 282.9,308 282.9,315 282.9,329.8 282.9,310.4 283,311.2 283.1,315.7 283.1,305.2 283.1,305.8 283.2,312.7 283.2,312.7 283.2,304.8 283.3,327.1 283.4,300.8 283.4,295.6 283.5,311.5 283.7,305.2 283.7,316.9 283.7,317 283.7,323 283.8,308.5 283.8,312.3 283.9,319.9 283.9,319.6 283.9,317.9 284,322.8 284.1,322.2 284.1,318.6 284.1,309.8 284.1,326.4 284.2,313.1 284.2,317.4 284.2,323.1 284.3,308.2 284.6,302.6 284.7,328.1 284.7,312.9 285.2,330.8 285.2,297.9 285.3,319 285.3,316.2 285.4,321.3 285.5,330.2 285.6,306.8 285.7,308.1 285.9,317.3 286,316.4 286,312.3 286.1,326.7 286.2,314.4 286.2,313.8 286.4,329.5 286.4,317.6 286.4,315.4 286.5,320.5 286.6,314.7 286.6,317.6 286.6,314.1 286.6,315.4 286.7,324.3 286.8,307.6 286.8,313.3 286.9,304.8 286.9,320.2 287,308.1 287,317.1 287.1,303.3 287.2,320.2 287.2,309.6 287.3,315.4 287.3,322.7 287.4,332.7 287.4,311.8 287.5,309.5 287.5,326.5 287.6,325 287.6,329.7 287.6,318.2 287.6,327.7 287.7,324.1 287.7,326.7 287.7,314 287.8,317.9 288.1,313.8 288.1,304.7 288.2,322.6 288.3,302.8 288.3,321.1 288.7,320 288.7,325.3 288.8,312.6 288.8,309.6 288.9,314.3 288.9,333.6 289,306.5 289.2,316.7 289.2,320.1 289.2,310.8 289.3,318.9 289.6,307.5 289.6,322 289.6,324.1 289.7,314.5 289.7,312 289.7,302.7 289.7,307.7 289.8,312.3 289.8,322 289.8,311.4 289.9,321.4 290,298.7 290,295.8 290,305.2 290.1,303.4 290.1,293.9 290.2,311.1 290.2,324.1 290.3,309.2 290.6,318.8 290.7,317.3 290.9,321.6 291,315.2 291.1,322.9 291.2,322.5 291.2,322 291.2,307 291.2,315.4 291.3,314.8 291.3,315.8 291.4,309.1 291.5,311 291.5,322.9 291.6,308.1 291.6,308.4 291.7,319.5 291.8,319 291.8,322.8 291.9,326.3 291.9,319.7 291.9,314.1 292,325 292,325.9 292.2,314.2 292.6,309 292.6,314.2 292.8,315.9 293.1,322.8 293.2,304.1 293.2,329.3 293.2,319.1 293.3,341 293.6,302.4 293.7,311.2 293.7,314.9 293.7,311.8 293.8,319.8 293.9,309.7 294.1,325.7 294.1,312.2 294.1,318.1 294.3,325.7 294.4,327.4 294.4,337.9 294.4,317.3 294.5,335.8 294.5,334.8 294.5,325.6 294.5,326.4 294.6,318.8 294.6,337.8 294.6,336.5 294.7,332.6 294.8,320.9 294.8,326.8 294.8,311.4 294.9,307.9 294.9,305.1 295.3,315.7 295.3,320.2 295.3,317.8 295.4,323.6 295.6,309.2 295.7,316.4 295.8,310.3 295.9,317.5 295.9,303.3 295.9,328.1 295.9,322.4 295.9,306.7 296,316 296,336.4 296,336.5 296,321 296.2,322.8 296.3,334.9 296.3,330.9 296.3,325.8 296.3,302.6 296.4,316.7 296.4,317.6 296.5,316.2 296.7,311.9 296.7,329 296.7,327.6 296.9,333.1 296.9,329.3 297,313.9 297,335.1 297.1,315 297.1,309.1 297.1,326.8 297.3,323.7 297.3,317 297.4,316.3 297.4,316.9 297.4,320.3 297.6,313.9 297.6,320.9 297.7,311 297.8,325 297.8,332.1 297.9,324.6 298,335.3 298.1,320 298.1,330.6 298.2,322.1 298.3,312.3 298.4,323.9 298.4,325.9 298.4,325.8 298.5,323.2 298.9,310.9 298.9,327.5 298.9,325.9 298.9,314.4 299,333.5 299,319.5 299,334.1 299,319.5 299.1,326.4 299.1,322.4 299.1,306 299.1,320.5 299.2,328 299.3,324.2 299.3,320.1 299.4,333.5 299.4,320.2 299.4,322.7 299.4,333.9 299.4,329.5 299.6,330.9 299.6,323.8 299.6,310.6 299.6,318.5 299.7,320.4 299.7,325.7 299.7,323.7 299.8,320.5 300.2,322.7 300.2,320.9 300.3,302.7 300.4,313.2 300.5,320.6 300.5,318 300.5,320.3 300.6,326.8 300.6,316 300.7,318.2 300.8,326.2 300.9,311.8 300.9,312.8 300.9,339.1 301,334.6 301.1,320.9 301.2,319 301.3,339.3 301.3,341.3 301.4,311.3 301.4,338 301.5,337.3 301.5,314.3 301.5,325.7 301.6,319.6 301.7,314.8 301.7,334.5 301.7,333.3 301.8,325.8 301.8,330.9 301.8,329.3 301.9,317 302.1,320.9 302.1,307.7 302.2,328.8 302.2,333.7 302.3,332.2 302.3,308.2 302.4,318.6 302.4,322 302.4,312 302.5,320 302.5,330.2 302.7,308.8 302.7,317.7 302.8,328.1 302.8,317.9 302.9,337.4 302.9,307.7 303,317.8 303,313.4 303,318.9 303,317.9 303.1,321.6 303.3,332.9 303.4,319.3 303.5,327.1 303.6,324.6 303.8,314.5 303.9,313.6 303.9,310.1 303.9,325.3 304.1,320.4 304.1,320.9 304.1,307.9 304.1,321.8 304.2,333.5 304.2,306.1 304.2,320.6 304.4,302.8 304.7,305.6 304.7,330 304.8,303.1 304.8,327.8 305,308 305,315.7 305,306.8 305.1,312.7 305.1,319.6 305.1,326.1 305.1,308.7 305.6,325.7 305.6,314.6 305.7,319 305.7,303.2 305.7,319.4 305.8,312 305.8,305.8 305.8,313.4 305.9,316 305.9,323.2 306,320.2 306,282 306.1,317.1 306.1,286.5 306.3,320.7 306.3,321.2 306.3,291 306.3,322.7 306.3,310.4 306.4,334.9 306.4,330.2 306.4,299.2 306.4,296 306.4,327.8 306.5,318.2 306.5,322.6 306.5,319.5 306.6,279.6 306.6,317.1 306.6,293.5 306.6,288.5 306.7,331.9 306.7,330.9 306.7,318.8 306.7,336.6 306.8,332.5 306.9,307.8 306.9,321.3 307,290.3 307,307 307.1,328.3 307.2,300.4 307.4,293.5 307.4,333.9 307.5,310.7 307.6,310.4 307.7,312.5 307.9,310 307.9,311.6 308.1,326.8 308.1,300.7 308.1,311.2 308.1,302.2 308.2,305.5 308.2,306.1 308.3,304.1 308.4,332.6 308.5,332.6 308.6,326.1 308.7,320.9 308.7,308.5 308.9,326 308.9,320.3 309,315.4 309,330.8 309,323.5 309,332.1 309,310.3 309.1,322.6 309.1,313.5 309.2,316 309.2,332.1 309.2,314.2 309.3,320.9 309.3,315.1 309.3,314.9 309.3,325.1 309.4,318.5 309.4,333.3 309.5,318.5 309.5,313.2 309.6,320 309.6,318.2 309.6,323.5 309.7,321.7 309.7,318.5 309.8,309.4 309.8,343.6 309.9,323.5 309.9,322.7 309.9,322.7 309.9,311.9 309.9,340.7 310.1,323 310.2,338.7 310.3,322.6 310.3,312.5 310.4,309.3 310.4,308.8 310.5,321.1 310.5,315.6 310.6,321.2 310.6,317.3 310.7,338.1 310.7,338.3 310.7,330.7 310.7,319 310.8,317.8 310.9,319.8 311,336.9 311.1,334.2 311.1,321.8 311.2,339.4 311.2,329 311.3,319.2 311.4,330.2 311.7,338.3 311.7,337.2 311.8,318.6 311.8,316.9 311.9,331.4 311.9,329.2 312,323.7 312,342.9 312,331.6 312.1,328.5 312.3,340.3 312.3,337.3 312.4,329.7 312.4,313.2 312.5,331.2 312.6,329.9 312.6,317.9 312.7,316.7 312.8,317.4 312.8,322.9 312.8,334.7 313,326.7 313.2,315.8 313.3,322.1 313.3,323.6 313.3,319.5 313.6,331.2 313.6,339.7 313.6,316.3 313.7,325.2 313.7,326.4 313.7,334.7 313.8,321.5 314,328.3 314,338.3 314,333.7 314.1,321.3 314.2,315.1 314.3,317.9 314.4,337.3 314.4,337.8 314.4,333.8 314.5,332.1 314.5,329.5 314.6,340.6 314.7,336.1 314.7,338.4 314.7,338.5 314.8,307 314.9,318.3 315,328.4 315.1,330.2 315.2,324.1 315.4,324 315.4,346.1 315.5,330.2 315.6,339.7 315.7,332.9 315.7,348.5 315.9,350.8 316,345.8 316.1,335.5 316.1,339.2 316.1,337.7 316.2,342.2 316.2,334.8 316.2,343.6 316.2,346.6 316.3,334.8 316.4,339.5 316.5,336.5 316.6,331.9 316.7,326.7 316.8,333.8 316.8,329.3 316.9,333.2 317,342.3 317,307.2 317.1,334.8 317.1,336.5 317.1,327.7 317.1,345.2 317.3,341.7 317.4,341.7 317.6,322.4 317.6,327.2 317.7,321.6 317.8,329.1 317.9,335.7 317.9,339.7 317.9,324.3 318,328.3 318,341.3 318.1,345.6 318.2,330.4 318.3,341.6 318.4,332.8 318.4,321.8 318.5,329.7 318.7,303.7 318.7,317 318.8,331.6 318.8,317.6 318.8,311.7 318.9,309.5 318.9,312.4 319,307.1 319,322.1 319.1,328.1 319.1,311.1 319.1,314.2 319.1,314.9 319.3,330.4 319.4,324.7 319.5,326.9 319.6,328.6 319.7,339.7 319.7,327.2 319.8,331.7 319.8,330.1 319.8,326.9 319.9,330.7 320,321.3 320.2,335.8 320.2,334.4 320.2,331.9 320.3,290.5 320.4,335.1 320.5,313.1 320.5,302 320.5,319.3 320.6,296 320.6,293 320.8,335 320.8,288 320.8,325.1 320.8,330.4 320.9,337.4 320.9,299 321,328.7 321,307.1 321,335.6 321,318.7 321,341.9 321.2,317.2 321.2,330.1 321.2,326 321.2,329.2 321.3,331.8 321.6,327.1 321.7,318.5 321.7,314.4 321.7,322.8 321.7,311.9 322,324.1 322.1,320 322.2,322.9 322.2,320.9 322.2,307.8 322.3,323.6 322.4,324.8 322.4,340.3 322.4,315.7 322.4,321.3 322.4,321.3 322.5,315 322.5,332.4 322.6,322.5 322.6,320.8 322.7,321.1 322.7,315.9 322.8,329.9 322.8,312 322.8,315 322.9,320.8 322.9,320.5 323,330.3 323,328.6 323.2,307.9 323.2,312 323.2,320.8 323.4,328.8 323.5,315.3 323.5,326 323.6,327.9 323.6,320.2 323.8,325.5 323.9,337.6 324.1,342.8 324.2,331.5 324.4,339.3 324.4,338.6 324.5,339.3 324.5,308.5 324.6,333.2 324.7,322.4 324.8,338.4 324.9,338.1 325,337.6 325.1,325.2 325.2,320.2 325.4,324.8 325.4,327.2 325.4,319.2 325.5,317.7 325.5,342 325.5,323.8 325.6,327.9 325.6,318.1 325.6,317 325.7,321.5 325.7,311.7 325.9,335.9 325.9,341 326,333 326,327.9 326,331.1 326,323.9 326.2,341 326.2,328.9 326.2,326.6 326.3,329.9 326.3,341.6 326.3,344.5 326.3,309.1 326.3,323.5 326.3,331.4 326.3,301.8 326.4,323.6 326.5,315.6 326.6,320.7 326.6,324.7 326.8,329.7 326.8,305 326.8,316.5 326.8,322.1 326.9,310.6 326.9,325.8 327,332.5 327.1,327.6 327.1,323.4 327.3,361.9 327.3,332.4 327.3,324.7 327.4,325.1 327.4,335.5 327.5,336.5 327.5,346 327.6,327.5 327.7,313.1 327.8,331 327.8,332.5 328,340.6 328,321.9 328.1,331.8 328.1,317 328.2,322.4 328.2,329.5 328.3,336.2 328.3,324.5 328.4,310.8 328.4,329.5 328.4,338.4 328.5,315.4 328.5,314.8 328.6,335.7 328.6,317.9 328.7,320.9 328.7,329.8 328.8,335.9 329,321 329,316.7 329,332.4 329,331.3 329,312.8 329.3,317.7 329.3,338.2 329.4,326.2 329.5,317.7 329.5,327.1 329.5,324.7 329.5,313.9 329.6,341.8 329.8,328.4 329.8,320.3 329.8,335 329.9,332.7 330,340.7 330,323.7 330,322.9 330,340.3 330,316.5 330,324.6 330.2,316.4 330.3,328 330.3,314.4 330.3,341.5 330.4,318.3 330.4,318.3 330.4,335.9 330.5,335.2 330.5,330.7 330.5,331.8 330.6,317.4 330.6,318.7 330.7,327.8 330.8,323.5 330.8,311.5 331,326.6 331,325.7 331,331.9 331.1,326.5 331.1,293 331.2,304 331.4,300 331.4,296.5 331.6,290.5 331.9,312.4 332.2,334.1 332.2,335.8 332.3,326.6 332.4,319.5 332.4,320.7 332.4,319.4 332.5,326 332.5,318.4 332.6,304.2 332.6,313.1 332.6,323.3 332.7,330.6 332.7,315.8 332.8,332.6 332.8,317.5 332.9,327.2 333,328.6 333,321.6 333.2,329.6 333.2,324.4 333.4,329.9 333.4,341 333.5,324.7 333.6,314.8 333.6,334.7 333.6,329 333.7,330.6 333.7,322.6 333.8,332.4 333.8,346.3 333.9,337 334,321.9 334,320 334.1,331.5 334.2,327.6 334.2,335.1 334.3,336.6 334.4,319.5 334.5,307.1 334.5,327.4 334.5,327.3 334.6,318.8 334.6,310.9 334.6,316.4 334.7,305.8 334.8,333.9 334.8,328.6 334.9,329.8 335.1,325.7 335.1,316.7 335.2,324.2 335.2,318.9 335.3,345 335.3,314.2 335.3,321.8 335.3,336.2 335.3,308.1 335.6,325.2 335.6,326.6 335.7,314.3 335.7,322.2 335.7,338.3 335.8,330.4 335.8,331.5 335.8,319.9 335.9,328.2 336,319.6 336,336.3 336.1,314 336.3,335.1 336.3,325.7 336.3,335.5 336.4,331.1 336.4,331.1 336.5,321 336.5,324 336.6,334 336.6,312 336.7,331.9 336.7,316.5 336.7,326 336.7,332.1 336.9,323.6 336.9,314.9 337,313.5 337,313.7 337,321.6 337,335.6 337,313.5 337,323.1 337.2,318.4 337.2,322.4 337.3,322.7 337.3,301.8 337.3,330.7 337.4,317.1 337.4,310.9 337.7,320.7 337.7,314.8 337.7,321.8 337.7,327.8 337.9,331.2 338,325.6 338,332.5 338,342.5 338.1,338.6 338.3,323.9 338.3,317.2 338.3,331.9 338.4,335.5 338.5,332.8 338.5,327.3 338.5,333.4 338.6,341.2 338.6,319.2 338.6,316.8 338.7,316 338.9,321.2 339,327.5 339.1,335.5 339.1,319.6 339.3,326.3 339.3,330 339.4,316.7 339.5,335.6 339.5,332.4 339.6,344.6 339.6,327.9 339.6,310.6 339.6,311 339.6,316.2 339.7,313.6 339.8,315.2 340.1,324.8 340.3,327 340.5,322 340.5,318.7 340.6,332.9 340.6,320.9 340.6,318.5 340.6,330.3 340.7,313.1 340.7,330.2 340.7,331.2 340.7,319.8 340.9,332 340.9,320.3 341.3,326.4 341.3,335.4 341.5,317.9 341.5,318.7 341.6,311.8 341.6,327.7 341.6,312.9 341.7,321.3 341.8,317.7 342,350.5 342.1,336.8 342.1,318.7 342.1,325.5 342.2,346.2 342.2,328.8 342.2,310.9 342.2,332 342.4,331.4 342.4,322.5 342.5,323.6 342.5,331.3 342.5,332.1 342.5,329.6 342.6,331 342.6,332.8 342.7,332.5 342.8,336.4 342.8,317.1 342.9,320.2 343,327.5 343.1,329.4 343.1,326 343.1,313.2 343.2,314.8 343.2,324.1 343.3,315.6 343.3,322.1 343.4,297.5 343.5,307.5 343.5,329.8 343.5,316.8 343.5,327.4 343.6,304 343.7,331.7 343.7,334.5 343.8,295 343.8,330.8 343.9,300.5 344,337.8 344.1,323 344.1,326.5 344.1,315.7 344.2,320.7 344.3,323.4 344.4,342.2 344.5,313.8 344.6,321.2 344.9,303.6 345,297.4 345.1,318 345.2,328 345.2,302.2 345.2,313.1 345.2,324.1 345.2,308.3 345.2,318.6 345.2,314.6 345.2,315.6 345.4,310.7 345.4,329.4 345.4,316.7 345.5,327.3 345.6,333.4 345.7,326.9 345.8,316.4 345.9,313.2 346,322.5 346.1,318.9 346.2,323 346.3,334.5 346.3,321.1 346.3,329.7 346.4,325 346.4,317.9 346.4,309.1 346.4,322.5 346.5,332 346.5,320.8 346.6,316.4 346.6,307.1 346.8,331.3 346.9,324.2 347,327.1 347,321.3 347.1,336.9 347.1,331 347.2,323 347.2,317.4 347.2,316.1 347.2,331.7 347.4,321.6 347.5,321.2 347.6,311.6 347.8,311.5 347.9,337.9 348,305.2 348,336.1 348.2,320 348.2,319.3 348.2,329.6 348.4,317.5 348.4,328.6 348.5,328.9 348.5,330 348.6,323.9 348.6,333.5 348.6,320 348.7,326.6 348.7,329.4 348.7,329.9 348.7,313.3 348.7,341.7 348.9,322.9 349.1,327.6 349.2,325.8 349.2,325.5 349.2,305.6 349.4,337.9 349.4,318.6 349.4,313.7 349.5,312.4 349.6,323.1 349.6,323.2 349.8,345 350,329.7 350,323.4 350,309.6 350.1,332.1 350.2,328.4 350.4,332.2 350.4,323 350.4,322.7 350.4,331.5 350.4,323.1 350.5,321.2 350.6,331.5 350.6,328.1 350.6,313.6 350.7,320 350.8,319.1 350.8,314.5 350.9,315.8 351,316 351.1,317.2 351.3,309.9 351.4,310.2 351.4,318.5 351.4,321.4 351.4,314 351.4,312.4 351.5,313.6 351.5,298.2 351.5,327 351.5,308.4 351.6,325.8 351.7,317.1 351.8,314.3 351.8,318.5 351.8,324.8 351.8,309.4 351.8,315.7 351.9,333 352.2,333.3 352.2,318.8 352.3,339.2 352.4,323.4 352.5,303.8 352.7,323.5 352.7,314.1 352.7,321 352.7,302.5 352.8,309.8 353.1,303.3 353.2,310.7 353.2,317.2 353.2,311 353.3,332.5 353.4,307.6 353.4,316.7 353.5,326.3 353.6,328.1 353.6,335.2 353.6,318.7 353.6,315.2 353.6,312.1 353.7,318.8 353.9,309.4 354,310.7 354,309.5 354,300.2 354,324.7 354.1,321.4 354.3,294 354.4,325.6 354.4,300 354.4,301 354.5,338.5 354.5,330.5 354.5,303 354.5,326.1 354.5,319.9 354.5,317.7 354.6,297 354.6,326.7 354.7,287.5 354.7,325.7 354.7,289.5 354.7,291.5 354.7,320.5 354.9,303 354.9,319.9 355,328.6 355.1,313 355.1,314.5 355.1,316.5 355.1,320.1 355.2,324.4 355.2,320.3 355.2,342.4 355.4,319.4 355.4,311.4 355.4,323.3 355.4,307.8 355.5,300.7 355.5,329.7 355.6,314.3 355.7,325.8 355.7,318.7 355.8,317.6 355.9,332.3 355.9,315.7 356,308.9 356.1,323.8 356.1,323.2 356.1,328.9 356.2,320.8 356.2,316 356.2,321.6 356.2,307 356.2,315.2 356.2,315.5 356.5,315.9 356.5,324.1 356.6,342.6 356.6,334.6 356.6,335 356.7,322.8 356.8,339.2 356.9,308.5 356.9,321.6 357,308.7 357,303.1 357,309.5 357.2,320.4 357.2,315.4 357.3,324.6 357.3,320.9 357.4,310.5 357.4,319.9 357.4,312.1 357.5,317.5 357.6,310.8 357.6,316.7 357.7,319.1 357.7,321.1 357.8,321.2 357.8,317.8 357.9,316.2 357.9,323.2 358,312.5 358,324.1 358.1,304.5 358.2,320 358.2,312.5 358.4,312.4 358.5,320.6 358.6,314.7 358.7,316.5 358.7,303.7 358.8,323 358.8,327.7 358.8,331.4 358.9,330.1 359,324.7 359.2,305.7 359.3,330.6 359.3,336 359.4,310.6 359.5,317.4 359.5,311.7 359.5,326.4 359.6,324.5 359.6,321 359.7,323.9 359.8,332.7 359.8,330.4 359.8,319.8 359.9,324.9 360,319.5 360,311.3 360,319.9 360.1,313.8 360.1,308.5 360.2,329.4 360.4,311.2 360.5,325.2 360.5,328.4 360.5,327.6 360.6,316.4 360.6,331.3 360.6,333 360.7,328.6 360.7,324.2 360.7,330.2 360.9,320.1 360.9,315.2 361,324.8 361,306.7 361.1,325.9 361.1,296.6 361.2,335.6 361.2,310.7 361.3,336.9 361.3,311 361.3,329.1 361.4,315.1 361.4,316.9 361.6,320.9 361.7,325.1 361.9,325.1 361.9,312.7 362,330.5 362,318.2 362.2,323.8 362.4,317.9 362.4,333.7 362.6,327.3 362.6,330.9 362.8,314.9 362.8,341.7 362.8,345.9 362.8,312 362.9,339.1 362.9,311.3 363,338.5 363,334.1 363,328.2 363.1,311.9 363.1,317.2 363.1,313.8 363.2,312.9 363.3,313.7 363.4,340.7 363.4,337.9 363.5,332.8 363.5,309.2 363.5,322.9 363.5,324.6 363.5,319.3 363.6,332.7 363.7,337.7 363.7,332.4 363.9,333.9 363.9,340.4 364,332.3 364,323.6 364,315 364.3,327.1 364.4,339.4 364.4,327.5 364.5,316.2 364.6,324.8 364.7,332.8 364.7,327.5 364.8,320.2 364.9,330.2 365,339.5 365.2,330.7 365.3,325.3 365.4,331.6 365.5,318.3 365.6,332.8 365.6,327.8 365.7,328.5 365.8,324.2 365.8,329.1 366,329.9 366.2,322 366.4,317.3 366.4,310.8 366.4,315.4 366.5,321.8 366.5,317.3 366.5,310.5 366.5,311.1 366.6,323.3 366.6,304.5 366.7,303.3 366.7,315 366.8,327.2 366.8,338.4 367,350.2 367,339.8 367,319.2 367,339.8 367.2,348.8 367.2,324.8 367.3,326.3 367.5,319.7 367.5,316.6 367.5,338.6 367.6,319.1 367.7,334 367.8,325.5 367.9,323.7 368,338.7 368.2,341.5 368.3,322.4 368.5,326.2 368.5,340.2 368.5,333.1 368.5,332.8 368.6,315.9 368.7,332.9 368.7,304.2 368.7,325 368.7,327.9 368.9,316.6 368.9,337.2 369,325.6 369,326.3 369,322.9 369.2,327.2 369.2,320.7 369.3,326.9 369.4,294.7 369.4,316.2 369.5,317.4 369.7,332.4 369.8,318.8 369.8,333 369.8,317 369.8,330.5 369.9,318.4 369.9,325.9 370,331.5 370,327.9 370,331.4 370.1,318.3 370.1,313.6 370.1,313.1 370.1,313.8 370.2,310.1 370.2,333.7 370.2,321.3 370.2,319 370.2,315.2 370.3,309.4 370.5,304.9 370.5,292.2 370.5,319.6 370.7,286.5 370.7,304.4 370.7,307.3 370.7,315.1 370.8,291 370.8,297 370.9,315.1 371,326 371,306.4 371,326.2 371.1,303 371.1,294 371.2,318.4 371.2,301.8 371.3,300 371.3,316.5 371.4,289 371.5,304.4 371.5,315.7 371.7,317.9 371.8,319.2 371.9,317.1 371.9,317.9 372.1,314.5 372.3,321.6 372.3,327.5 372.3,306.8 372.3,322.2 372.3,322.9 372.3,332.4 372.4,323.1 372.4,334 372.6,323.9 372.7,327.5 372.8,306.7 372.8,315.7 372.8,326.8 372.8,315.5 372.8,311.5 372.9,310.5 373,337.8 373,328.2 373,310.6 373.1,308.7 373.1,303.1 373.2,331.2 373.2,327.8 373.3,319 373.3,313.9 373.3,307 373.3,309.6 373.3,320.9 373.4,329.2 373.4,320.9 373.4,329.8 373.4,325.5 373.4,330.1 373.5,328.5 373.5,318.9 373.5,320.9 373.5,321.7 373.7,309.6 373.8,320.9 373.8,316.3 373.8,327.8 373.9,312.4 374,325.7 374,321.7 374.1,323.1 374.1,322.2 374.1,330.3 374.2,316.5 374.2,316.1 374.2,341.9 374.3,326.5 374.3,322.7 374.4,319.9 374.5,322.1 374.5,320.3 374.5,318.1 374.7,319.6 374.7,305.2 374.8,329.1 374.9,334.2 375.1,306.4 375.2,336.9 375.2,338 375.2,321.7 375.2,328.8 375.3,330.8 375.3,324.9 375.4,335.5 375.4,331.4 375.5,326.7 375.5,322.4 375.6,326.2 375.6,341.9 375.6,315.8 375.6,317 375.8,328.1 375.8,334.2 375.8,335.3 375.9,337.4 375.9,310.9 375.9,335.6 375.9,338.7 375.9,340 376,320.6 376.1,324.1 376.2,333.1 376.3,329.3 376.3,320.4 376.4,321.4 376.4,341.8 376.5,329.3 376.6,322 376.7,344.6 376.7,326.1 376.8,319.6 376.8,324.4 377,334.1 377,333 377,324.4 377.1,314.7 377.2,339.2 377.4,341.6 377.4,325.2 377.5,334.5 377.5,318.5 377.5,323.2 377.5,308.2 377.6,329.8 377.6,314.8 377.7,322.1 377.7,323.7 377.7,330.6 377.8,326 377.8,339.3 377.8,336.6 377.8,336.2 378.1,316.6 378.3,326.6 378.3,313.4 378.4,321.1 378.5,323.7 378.5,339.7 378.7,338.9 378.7,328.4 378.8,329.4 378.9,313.5 378.9,332.6 378.9,318.3 379,326.6 379,319.5 379.1,322.1 379.2,333.3 379.2,326.9 379.3,328.3 379.3,335 379.3,316.3 379.4,325.5 379.4,315.1 379.6,314 379.6,326.8 379.6,318.2 379.7,321.3 379.8,293 380.1,313 380.1,333.8 380.1,323.5 380.2,305.5 380.2,325.1 380.4,334.2 380.5,320.6 380.5,316.7 380.5,307.4 380.5,307.5 380.6,305 380.7,338.4 380.7,324.3 380.8,332.1 381,326.4 381.1,328.4 381.1,325 381.2,293.5 381.3,313 381.3,316.2 381.4,309.2 381.4,334.2 381.4,324.8 381.4,315.9 381.5,328 381.5,321.2 381.6,325.8 381.7,325.4 381.7,323.9 381.8,301 381.9,305 381.9,324.1 381.9,313.1 381.9,316.5 381.9,323.7 381.9,325.2 381.9,322.4 382.1,324.7 382.1,329.7 382.1,340 382.2,319.7 382.3,343.7 382.3,309.6 382.4,330.6 382.4,330.4 382.5,319.2 382.5,315.7 382.6,309.2 382.6,316.6 382.7,296.3 382.7,331.5 382.8,297.3 382.9,309.2 382.9,322.4 383.1,321.6 383.1,315.9 383.2,329.7 383.2,335.3 383.3,311.3 383.5,317.2 383.5,306.3 383.5,315.8 383.5,324.8 383.5,329.3 383.6,316 383.7,306.9 383.8,320.4 383.8,329.1 383.8,311.2 383.9,309.2 384,325.7 384,314.9 384,317.5 384.1,316.3 384.2,328 384.3,308.7 384.4,298.4 384.5,320.5 384.5,316.4 384.6,322 384.6,323.9 384.6,330.3 384.8,304.2 384.8,315.7 384.8,307.7 384.8,309.6 384.8,317 384.9,318.1 384.9,323.5 384.9,308.8 385,313.9 385,310.8 385.1,323.6 385.3,319.4 385.3,312.7 385.4,316 385.4,318.4 385.4,316.2 385.4,334.8 385.5,312.7 385.5,314 385.5,313.7 385.7,314.5 385.8,337.4 385.8,312.9 385.9,306.9 386,313.8 386.1,324.5 386.1,332.1 386.1,307.7 386.3,308.5 386.3,321.1 386.3,298.1 386.3,329.7 386.4,325.3 386.4,313.6 386.4,314.6 386.4,329.8 386.4,308.4 386.5,316.8 386.6,300.3 386.6,313.1 386.8,309.2 386.9,305.8 387,312.5 387,323.5 387.3,319 387.4,316.8 387.4,333.8 387.5,311.1 387.5,328.6 387.6,304.6 387.7,325.6 387.7,329.5 387.8,319.2 387.8,326.7 388.1,316.2 388.1,328.4 388.1,319 388.2,313.1 388.4,321 388.4,323.1 388.5,325.4 388.5,306.3 388.6,314.1 388.9,321.3 389.1,338.9 389.1,326.2 389.3,313.4 389.3,333.3 389.3,318.1 389.3,303.6 389.4,316.3 389.4,305.6 389.4,298.6 389.6,307.9 389.6,309.6 389.7,301.1 389.7,298.1 389.8,317.5 389.8,308.5 389.9,328.6 389.9,327.8 389.9,335 390,328 390,326.8 390,320.4 390,319.8 390,320.8 390.1,309.3 390.1,316.5 390.2,318.7 390.2,311.3 390.2,321.6 390.4,312.7 390.4,311.2 390.5,309.8 390.7,294.7 390.8,315.6 390.8,335 390.8,329.4 390.9,312.7 391,321.4 391,310.2 391.1,317.7 391.1,336 391.1,328.4 391.2,327.1 391.4,334.1 391.4,322.5 391.5,333.5 391.5,306.3 391.5,322 391.6,325.2 391.7,311.6 391.7,314.4 391.7,328.1 391.7,312.2 391.7,316 391.8,294.4 391.8,318.6 391.8,318.1 391.9,314.8 391.9,302.8 392,328 392,310.6 392.2,314.3 392.2,332.7 392.4,319.7 392.5,317.7 392.6,310.8 392.7,303.9 392.8,308.9 392.8,335.2 392.8,318.3 392.9,305.7 393,303 393,317 393.1,308.7 393.1,319.7 393.2,310 393.2,310.7 393.3,308.4 393.3,319.4 393.5,310.4 393.5,309.4 393.5,315.2 393.6,303.3 393.7,325 393.8,312.4 393.8,308.9 393.8,320.4 393.9,321.3 394,308.4 394.1,301.9 394.3,331.4 394.3,314.1 394.4,323.8 394.4,316.4 394.5,321.5 394.5,311.6 394.5,315.1 394.7,321.3 394.7,298.4 394.8,318.7 394.9,299.3 394.9,321 395,323 395.1,326.9 395.1,320.3 395.2,302.2 395.2,281.6 395.3,316.3 395.3,308.7 395.4,299.3 395.4,289.1 395.5,316.4 395.5,302.1 395.6,283.8 395.6,313.8 395.6,302.4 395.6,316.9 395.7,301.8 395.7,285.6 395.7,312.7 395.8,308.9 395.8,305.6 395.9,307 395.9,300.1 395.9,325.2 395.9,300.3 395.9,301.5 396.1,317.9 396.1,333.2 396.1,302.9 396.1,296.7 396.1,298.7 396.1,301.2 396.2,312.3 396.2,308.2 396.2,299 396.2,279.4 396.2,292.9 396.2,276.5 396.2,312.7 396.3,260.9 396.4,259.8 396.4,323.3 396.4,297 396.4,324.1 396.5,326.1 396.5,321.3 396.6,284.5 396.6,294.5 396.6,292 396.6,282.3 396.7,272.8 396.7,289.5 396.7,308.3 396.8,317.6 396.9,287 397,313.9 397,317.8 397.1,302.2 397.2,304.6 397.2,302.8 397.3,321 397.4,303.5 397.4,312.1 397.5,301.1 397.5,309.4 397.5,303.3 397.5,312.2 397.6,313.3 397.6,314.9 397.7,304 397.7,303.3 397.9,296.3 397.9,326 398,301.4 398,305.9 398,309.6 398.1,316.2 398.1,319 398.2,319.8 398.2,301.4 398.3,310.5 398.3,316.7 398.4,316.3 398.5,304.1 398.6,316.8 398.6,321.7 398.6,318.3 398.7,310.1 398.8,319.1 398.9,317.2 398.9,335.1 398.9,308.6 398.9,314 399,310.9 399,320.1 399,303.7 399.1,316.8 399.1,320.5 399.3,322.7 399.5,330.9 399.5,326.9 399.7,308.4 399.7,320.7 399.7,316.1 399.8,313.9 399.9,308.6 399.9,316.6 399.9,324 399.9,310.4 399.9,312.8 400,305.7 400,310.4 400,322.1 400.3,326.4 400.5,306.3 400.5,322.1 400.5,317.6 400.5,333 400.7,322.8 400.7,320.7 400.8,310.1 400.9,306.8 401,318.4 401.1,326.2 401.1,321.9 401.1,313.4 401.2,318.6 401.2,328.9 401.3,318.5 401.5,314.4 401.6,299.9 401.6,307.2 401.7,313.6 401.7,312 401.8,310.4 402,316 402.1,312.1 402.1,328.5 402.1,344.2 402.2,308.5 402.4,316.1 402.4,335.8 402.4,326.1 402.4,330.6 402.5,321.1 402.5,329.2 402.5,315.1 402.5,335.1 402.5,321.9 402.5,327.7 402.6,331.9 402.6,313.6 402.7,312.1 402.9,326.7 403,315.4 403,324.3 403,320.1 403.2,317.3 403.2,328.6 403.2,347.9 403.2,337.7 403.3,333 403.4,306.8 403.6,322.2 403.6,326.3 403.6,333.1 403.7,321.2 403.7,312.5 403.8,341.8 403.8,331.8 404,318.8 404,329.1 404,341 404,328.1 404.1,336.8 404.1,324.3 404.1,329.1 404.1,322.5 404.2,331.4 404.2,306 404.2,325.3 404.3,309 404.3,333.9 404.4,336.7 404.4,330 404.4,335.3 404.4,329.6 404.6,303 404.6,334.8 404.7,331.4 404.8,325.6 404.8,330.5 404.8,316.2 404.8,300 404.8,312 405,326.9 405.1,337.6 405.1,351.1 405.1,342.2 405.2,318.1 405.3,333.9 405.3,345.5 405.4,324 405.5,319.6 405.6,327.5 405.7,319.7 405.8,329.8 405.8,333.8 405.8,336.3 405.9,330.8 406,351.7 406,334.9 406,328.5 406.3,330.1 406.3,330.9 406.3,338.8 406.5,329 406.5,322.6 406.8,332.9 406.8,345.6 406.9,328.7 406.9,325.4 406.9,343.3 407,323.2 407.1,331 407.1,335.7 407.1,339.2 407.3,321.4 407.4,338.8 407.4,331.3 407.5,323 407.6,337.8 407.6,337.2 407.6,334.6 407.7,341.4 407.8,339.1 407.8,332.1 407.9,330.8 407.9,332.4 408,329.9 408,329.3 408,326.8 408,334.4 408.1,330.1 408.1,334.9 408.2,325.1 408.2,337.5 408.3,333.7 408.5,338.4 408.5,347.4 408.7,346.1 408.8,341.6 408.9,346.9 408.9,347.2 409,333.6 409,330.7 409.1,355 409.2,347.7 409.3,342 409.4,334.5 409.4,343.7 409.4,353.1 409.5,346 409.5,326.2 409.6,345.8 409.6,341.7 409.6,334.4 409.6,339 409.7,347.1 409.8,350.5 409.9,343.4 409.9,340.1 410,341.3 410,340.5 410.1,334.9 410.2,346.2 410.3,341.3 410.3,347.2 410.3,329.9 410.3,344.6 410.3,338.3 410.4,343.5 410.6,328.2 410.7,323.4 410.7,329.2 410.8,339.6 410.8,332 411,347.9 411.1,349.1 411.1,342.7 411.1,338.4 411.2,329.7 411.2,342.2 411.3,330.8 411.4,332 411.6,343.1 411.6,327.2 411.7,337.8 411.7,332.7 411.7,344.8 411.8,352.1 412,330.3 412.1,339.2 412.1,338.3 412.1,340.4 412.2,339.5 412.3,341.8 412.4,345.9 412.4,339.8 412.4,334.4 412.6,351.1 412.6,344.3 412.7,337.6 413,339.1 413,352.2 413.1,342.9 413.1,339.9 413.2,339.8 413.2,348.9 413.2,348.1 413.2,316 413.3,348 413.3,344.5 413.4,333.1 413.4,328 413.5,342 413.5,331.2 413.5,313 413.5,331.8 413.6,325 413.6,337.5 413.6,345.1 413.6,322 413.8,319 413.9,345.1 414,348.3 414,330.5 414.1,334.4 414.1,356.9 414.2,331 414.2,336.3 414.2,335.5 414.2,350.4 414.2,350 414.2,334.2 414.3,342.8 414.3,340 414.3,341.1 414.5,350 414.6,340.4 414.6,341.8 414.8,350.6 414.8,351.4 414.8,352 414.9,340.9 414.9,346.7 414.9,348.9 414.9,336.1 414.9,343.6 415,338.8 415,339.9 415,352.7 415,345.5 415,339 415,333.8 415.2,352.5 415.3,351 415.4,344.9 416,340.1 416,350.7 416,344.6 416.2,347.6 416.2,354.6 416.2,344.5 416.4,353.2 416.4,354.2 416.4,356.5 416.4,350.6 416.5,353.4 416.5,355.6 416.6,350.2 416.7,339.7 416.7,350.7 416.8,345.8 416.9,357 417.2,344.1 417.3,357.5 417.3,344.2 417.4,350.8 417.6,342.9 417.7,353.9 417.7,352.8 417.7,361.7 417.9,356.2 417.9,352.5 418,351.3 418,357.6 418,348.9 418.1,345.4 418.1,351.6 418.1,347.2 418.1,350.8 418.1,355.1 418.2,353.6 418.2,339.2 418.2,358.3 418.2,348.6 418.3,353.7 418.3,349.8 418.4,354.9 418.5,345.2 418.5,346.7 418.5,354.9 418.5,357.4 418.7,352.4 418.7,362 418.7,347.2 418.7,347.7 418.8,355.8 418.8,354.3 418.9,352 418.9,349.4 418.9,359.6 419,346.4 419.1,365.6 419.2,354.2 419.2,355.2 419.2,358.9 419.2,360.9 419.2,357.9 419.2,356.4 419.3,353 419.4,349.4 419.4,355.2 419.5,356.4 419.5,356.9 419.6,355.9 419.6,344.1 419.8,356.7 420,351.4 420.1,358.9 420.1,361.1 420.2,353.8 420.3,354 420.3,360.9 420.4,357.9 420.5,357.1 420.6,351.6 420.7,357.5 420.7,350.4 420.8,354.7 420.8,364.6 420.9,350.5 421,355.1 421,356 421,357.7 421.1,353.1 421.1,356 421.2,350.9 421.3,361.1 421.4,343.8 421.5,353.1 421.6,348.2 421.6,351.2 421.7,361.4 421.7,357.7 421.8,353.9 421.9,358.9 422,364.8 422,354.3 422.1,349.8 422.2,353 422.4,358.3 422.6,355.7 422.8,355 422.9,356.5 422.9,346.7 423.1,353.3 423.2,353.4 423.2,361.7 423.3,349.7 423.3,355.8 423.3,356.7 423.5,356.8 423.8,360.6 423.8,352.2 423.8,355.1 423.9,354.1 423.9,345.4 424.1,352.8 424.3,360.2 424.3,365 424.4,356.4 424.4,354.5 424.5,363.1 424.6,363.3 424.6,356.8 424.7,352.7 424.7,353.4 424.8,367.3 424.8,367.1 424.9,352.4 425,360.4 425.1,354.2 425.1,360 425.2,357 425.2,359.8 425.2,349.5 425.3,367.6 425.3,357.8 425.5,357.4 425.5,362 425.5,356 425.5,356.3 425.6,364.6 425.6,360.3 425.7,354.7 425.9,354.2 425.9,359 425.9,358.1 425.9,356.2 426,349 426,350.2 426.1,362.6 426.1,361.4 426.4,370.1 426.4,362.5 426.4,365.5 426.6,373 426.6,358.5 426.7,365.7 426.8,360.2 426.9,368.1 426.9,359.8 427,362.6 427,362 427,363.8 427,366 427,366.1 427.1,355.5 427.1,360.7 427.2,370.6 427.2,364.8 427.3,365.6 427.4,354.7 427.4,357.5 427.4,364.9 427.5,363 427.5,369 427.7,348.6 427.7,358 427.8,352.2 427.8,363.6 428.1,365.7 428.1,357.1 428.1,360.9 428.2,352.9 428.3,352.1 428.4,356.8 428.5,359 428.5,354.4 428.7,354.7 428.7,362 428.7,355.1 428.7,354.5 428.8,367.4 428.9,365.6 429,357.6 429,356 429.1,362.7 429.1,361.4 429.2,364.4 429.2,357.9 429.2,356.2 429.3,359.1 429.3,357.6 429.4,365.5 429.5,365.9 429.5,357.3 429.5,359.4 429.5,352.8 429.6,364.5 429.7,354.9 429.8,358.3 429.8,336 429.9,353.9 429.9,353.3 429.9,353 429.9,344.5 429.9,359.5 430,333 430,355.6 430.1,350.6 430.1,327 430.2,343 430.2,358.1 430.4,363.2 430.5,355.2 430.5,340 430.5,361.5 430.7,360.7 430.8,358.9 430.8,351.6 430.8,367.3 430.8,351.9 430.9,357.2 430.9,357.9 430.9,358.3 431.2,357.5 431.2,358.7 431.5,362.3 431.5,348.8 431.6,357.3 432,354.9 432.1,352.2 432.1,356.1 432.1,357.1 432.2,352.7 432.2,356.2 432.4,355.2 432.4,351.1 432.4,357.4 432.5,356.7 432.7,360.3 432.8,359.1 432.9,355.5 433,356.3 433.1,354.5 433.2,362.2 433.2,354 433.2,367.6 433.2,349.5 433.3,362.4 433.3,356.5 433.4,359.3 433.4,365.3 433.4,359.6 433.5,348.1 433.6,355.3 433.7,357.8 433.8,367.3 433.9,360.9 434,362.5 434.1,367.5 434.1,359.6 434.1,365.9 434.2,363.3 434.2,360.7 434.3,365.9 434.4,365.7 434.4,363 434.7,365.9 434.8,361.4 435.1,364.5 435.2,367.1 435.2,367.4 435.2,367.1 435.3,368.9 435.3,373.7 435.4,369.6 435.4,371.6 435.4,372.2 435.5,361.5 435.5,366.2 435.7,371.1 435.7,362.1 435.8,369.1 435.9,369 436,365.7 436,367.2 436,371.8 436.3,373.8 436.5,366.4 436.5,366.7 436.7,374 436.7,364.3 436.8,359 436.9,365.1 436.9,361.2 436.9,365.1 436.9,361.3 437,361.7 437.2,367.2 437.3,369.3 437.3,361.4 437.3,365.9 437.5,369.8 437.8,359.9 437.8,362.9 438.1,367.7 438.2,364.7 438.2,359.1 438.3,362.8 438.4,369.6 438.5,370.1 438.6,369.1 438.8,362.7 438.8,359.4 438.8,356.6 438.9,359.4 439.1,361.9 439.3,361.1 439.4,363 439.4,366.4 439.7,362.8 439.7,362.9 439.8,348.2 440,360.9 440,352.2 440.2,359.2 440.3,352 440.4,343 440.4,357.3 440.4,361.1 440.5,356.7 440.5,359.2 440.5,355.3 440.5,340 440.6,353.3 440.6,351.3 440.7,346 440.8,353 440.8,347 440.8,360.2 440.9,356.3 441,359.3 441.1,358.3 441.1,350.7 441.1,353.5 441.3,355.3 441.3,360.2 441.5,361.5 441.5,359.6 441.6,362.7 441.6,352.8 441.8,357.8 441.9,363 442,359.5 442,350.5 442,354.5 442.1,366.2 442.1,356.9 442.3,360.8 442.4,359.8 442.5,363.7 442.7,350.8 442.7,356.2 442.7,362.4 442.9,362.6 443,364.4 443.1,359.2 443.2,355.1 443.3,356.3 443.4,363.1 443.5,360.3 443.8,354.3 443.8,365 443.8,356.3 443.9,365 443.9,370.5 443.9,363.4 444,359.2 444,368.9 444.1,359.2 444.3,360.2 444.3,363 444.4,362.5 444.4,357.6 444.4,365.8 444.4,361.9 444.4,361.9 444.7,359 444.7,357.3 444.7,368.8 444.9,367.4 445,363.4 445.1,364.1 445.4,372.3 445.4,363 445.5,363.8 445.5,365.8 445.6,343 445.6,349 445.8,360.8 445.9,346 446,358.4 446,364.9 446,372.9 446.1,372.4 446.2,368.6 446.2,359.7 446.4,371.8 446.4,366.5 446.4,362.9 446.5,373.9 446.5,365.6 446.6,371 446.8,367 447,375.3 447.2,365.1 447.3,363.7 447.3,365.1 447.4,370.2 447.4,374.1 447.5,369.5 447.7,368.1 447.8,370 447.8,371.1 447.8,366 447.9,365.6 448,371.4 448,373.2 448.1,367.9 448.2,369.3 448.8,376.8 448.8,373 448.8,372.5 448.9,368.7 448.9,363.7 449,369.2 449,363 449.1,371.6 449.1,369.4 449.3,366.9 449.3,369.5 449.3,369.2 449.3,367.8 449.4,371.8 449.5,373.6 449.5,366.4 449.7,370.7 449.8,375.2 449.8,372.8 450,375.8 450,369.9 450.2,367 450.2,378.2 450.3,378.4 450.4,376.4 450.6,374.2 450.7,379.4 450.8,372 451,368.2 451.2,380.5 451.2,377.7 451.2,377.8 451.3,376.1 451.3,371.8 451.4,376.5 451.5,375.9 451.5,377 451.5,379.7 451.6,376.5 451.7,372.2 451.7,374.4 451.8,377.4 451.9,371.8 452,369.4 452,374.5 452,376.2 452.2,375.4 452.2,374.5 452.5,367.4 452.6,376.4 452.6,373 452.7,373.8 452.7,370.3 452.8,373.3 452.8,379.9 453,378.6 453.1,380.4 453.2,373.9 453.3,377.8 453.3,384 453.4,372.9 453.4,375.5 453.5,379.1 453.5,379 453.7,370.7 453.7,386.2 453.7,378.8 453.8,373 453.8,379.1 453.9,378.1 454,374.9 454.1,378.5 454.1,378.4 454.1,381.1 454.3,374.2 454.4,370.4 454.4,379 454.4,376.7 454.5,375.2 454.6,382.9 454.6,380 454.9,377.4 455.1,381.2 455.2,382.2 455.2,372.6 455.2,379.2 455.2,378.7 455.3,380.3 455.4,374.7 455.4,386.3 455.5,376.9 456,380.9 456.1,377.9 456.2,381.1 456.2,378.2 456.2,381.3 456.3,376.6 456.5,379.9 457,381 457,377.6 457.1,374.1 457.2,376.6 457.3,382.9 457.4,377 457.5,381.7 457.8,381.1 458,377.1 458.2,380.3 458.2,384.1 458.6,378.1 458.7,381.9 458.8,381.1 459,382.5 459,379.3 459,384.1 459.1,381.7 459.1,382.7 459.2,380.5 459.2,381.6 459.2,381.4 459.3,385.2 459.4,375.9 459.4,385.2 459.8,390.4 459.8,381.6 460,380.8 460,383.3 460.2,384 460.3,383.8 460.5,378.1 460.5,381.5 460.8,386.3 460.9,385.9 461,377.2 461,380.4 461.2,384.3 461.6,384 461.6,383 461.6,382.7 461.7,377.4 461.7,383.4 461.8,382.4 461.9,377.6 462,379 462,380.8 462,386.8 462.1,378.9 462.2,379.1 462.2,379.5 462.4,381.2 462.4,385.6 462.6,382.1 462.7,389.3 463,388.2 463.1,380.4 463.1,382.4 463.4,384.1 463.7,382.3 463.8,381.3 464.1,376.5 464.2,379.6 464.2,384.2 464.5,382.5 464.5,379.7 464.8,379.9 464.9,383.8 465,382.2 465,379.9 465,385.7 465.1,383 465.4,380.9 465.4,386.5 465.5,378.6 465.6,381.2 465.7,382.4 465.8,382.1 465.9,383.3 465.9,386.8 466.2,383.2 466.2,385.5 466.3,378 466.5,380.7 466.9,376.9 467.4,380.7 467.9,380.7 467.9,375.2 468,377.6 468.1,379.4 468.2,377.5 468.3,377.4 468.6,374.6 468.9,375.5 469.3,376.1 469.4,373.4 469.4,376.9 469.4,373.7 469.7,373.3 470.1,371.8 470.2,372.9 470.4,373.7 470.4,369.9 470.5,368.7 471.2,371.1 471.3,374.3 471.4,371.5 471.4,374.5 471.5,373.9 471.6,370.2 471.7,371.8 471.8,377.4 471.8,372.3 472,371.6 472,369.3 472,372.3 472,372.4 472,372.5 472.1,369.4 472.1,372.3 472.3,373.9 472.5,374.1 472.6,371.8 472.7,376.2 472.8,371.4 472.8,375.5 473.1,368.2 473.4,372.9 473.5,372.7 473.6,371.8 473.8,371.3 473.8,374.6 473.9,372.9 474,369.4 474.1,372.2 474.1,369.5 474.2,370.3 474.2,371.3 474.3,374.1 474.4,373.7 474.5,367.3 474.5,372.5 475,372 475.5,377.7 475.5,373.6 475.5,375.5 475.6,376.2 475.8,373.4 475.8,381.1 476.1,373.1 476.2,378 476.3,377.5 476.3,378.8 476.3,379.5 476.6,381.3 476.7,382.8 476.9,382.1 477,385.3 477.1,386.9 477.2,387.3 477.7,385.6 477.8,385.1 477.8,386.2 477.8,386.8 477.9,388.6 478,384.6 478,387.2 478,390.7 478,388.8 478.2,390.3 478.4,388.1 478.6,390.6 478.7,387.8 478.9,386.6 478.9,388 478.9,389.7 479.2,390.8 479.3,384.5 479.3,390.2 479.4,390.4 479.8,385.8 479.9,387.8 479.9,388 479.9,386.4 480.1,385.9 480.2,385.1 480.2,386.1 480.3,382.6 480.4,388.4 480.4,388.4 481,391.5 481.1,387 481.2,392.4 481.5,391.7 481.5,390.5 481.7,388.4 481.7,392.6 481.8,394.8 482.3,390.9 482.4,386.2 482.4,390.9 482.5,392 482.6,387 482.8,388.7 482.8,391.8 482.9,386.1 483.1,386.4 483.2,388.8 483.3,386.9 483.3,386.8 483.3,388.1 483.4,386.3 483.5,389.3 483.6,388.3 484.2,390.1 484.3,390.1 484.3,392.2 484.3,390.4 484.6,390.4 484.8,390.1 485,385.3 485.1,388 485.3,386.3 485.3,391.6 485.4,389.2 486,388.1 486.1,388 486.1,392.9 486.3,389 486.3,389.6 486.3,392.4 486.6,389.7 486.8,387.6 487,388.5 487.1,389.6 487.6,388 487.7,385.8 487.8,387.4 488,389.7 488.1,391.1 488.3,388.7 488.4,391.6 488.4,387.3 489.1,390.2 489.1,390.3 489.2,391.6 489.5,392.7 489.7,393.5 489.8,393.9 490.2,400.9 490.4,396.1 490.6,401.2 490.6,399.6 490.7,396.3 491.1,403 491.8,400.7 491.8,398.7 492,400.5 492.1,401.1 492.3,400.3 492.3,402.9 492.4,401.8 492.7,401.4 493.1,402.7 493.3,405.4 493.4,407 493.5,405.7 493.5,407.2 493.8,407.5 493.9,408.4 494.4,405.9 494.4,408.7 494.5,410.4 494.9,408.5 494.9,411.5 494.9,407.4 495,409.8 495.4,410.3 495.4,411 495.4,411.2 495.8,411.1 495.8,411.2 496.4,414.4 496.7,412.3 496.8,415.7 496.9,415.1 497,414.4 497,413.7 497.3,415.5 497.4,418.5 497.5,415.6 498,418.3 498,418.8 498.2,419.8 498.3,422 498.4,422.4 498.5,422.6 498.6,421.4 498.9,426.6 499.3,422.7 499.4,424.3 499.5,422.2 499.6,424.7 499.9,425.3 500.5,423.5 501.3,425.1 502.5,425.2 503.8,421 505.2,416.8 505.2,418.9 505.4,417.4 506.3,416.7 508.1,420 508.4,419.9 509.7,420.5 509.9,421 510.3,419.6 510.9,421.1 512,419 512.9,417.3 513.9,417.4 514.3,418.5 514.3,416.8 514.4,416.6 514.5,416.3 518.9,411.6 519.1,412.7 519.8,411.1 520.6,410.1 521.2,409 521.5,408.7 524.8,402.6 524.9,403.3 525,401.4 525.1,403.7 525.6,402.6 526.1,401.2 528.2,398.1 529.3,396.4 530.9,394.6 531.1,394.7 532.2,394.3 533.3,394.8 533.7,392.3 534.6,395.9 535.9,394.2 536.6,391.7 536.8,393.2 536.9,392 537,391 537.9,391.6 539,391.8 539.3,391.6 539.8,392.1 539.9,391.9 540.9,390.3 541,390.6 541.6,390.9 541.6,391 542,391.6 542.2,390.9 543.2,391 543.2,391.2 543.5,391 543.9,389.6 544.2,391.5 544.6,389.6 544.7,389.8 545.4,386.6 546.3,384.8 547.2,385.1 547.6,380.9 547.8,382.2 549.6,378.5 550.3,379.4 550.3,379.9 550.6,378.3 551.3,380.2 551.5,379.6 553.3,380.2 554.1,377.5 554.5,378 554.8,377 555.4,377.1 555.8,376.6 556,375.9 556.4,375.9 556.8,376.2 557.9,374.9 558.3,377.3 558.4,377.2 560.7,374.4 561.2,373.9 561.2,374.9 561.6,373.3 561.9,373.9 562.4,373.7 562.5,373.8 562.6,373.2 562.9,373.1 564.1,374.4 564.3,373.8 564.7,374.7 566.3,372 566.5,373.9 566.5,372.8 567.3,373.7 567.7,372.7 567.9,372.7 567.9,374.2 568.5,373.7 568.7,372.4 569.6,373.1 570.4,372.8 570.5,372.2 571.1,372 572.3,370.9 573.3,371.9 573.6,371.3 574.6,371.3 575.1,371.8 575.7,371.3 575.9,373 576.6,372.1 576.9,371.4 577.1,370.8 577.6,370.7 577.6,372.2 577.9,371.3 577.9,370.8 579.2,369.8 579.2,372.4 580.3,369.7 581.1,370.3 581.2,368.6 581.4,369.5 581.9,369.6 582.6,369.4 583.4,369.4 584.7,368.2 584.8,367.9 585,366 585.3,366.1 586.2,366.2 586.5,364.6 587,363.7 587.4,362.2 587.7,362.6 588,364.2 588.3,363.5 588.4,362.9 588.6,364.5 588.7,365.7 589,364.3 590.4,363.7 590.9,362.7 591,362.4 591.1,363.2 591.7,364.9 592.3,362.3 593.7,364.3 594.7,366.1 595.3,367.3 595.7,366 595.7,365.8 596.4,365.9 596.8,365 597.1,365.6 597.2,366.7 597.6,365.2 597.8,365.6 598.1,365.3 598.4,366.1 600.3,364.1 601.1,362.3 601.2,362.2 601.5,361.4 603.9,359.9 603.9,361.9 604.2,359.1 604.3,360.7 604.4,360.6 604.6,359.3 604.8,360.2 605.9,359 607,358.2 607.2,360.2 607.2,359.1 607.6,359.3 607.7,358.9 607.7,358.5 607.7,357.8 608.7,359.3 609.1,359.5 609.5,359.8 609.6,358.4 609.8,359.4 610.5,358.2 612,357.4 612.9,358 613,358.1 614.1,358.1 614.3,357.1 614.5,357.1 615,356.8 615.6,356.2 615.7,355.7 616.1,357.2 616.3,356.9 617.3,357 617.6,356.1 618.1,356.2 618.9,355.2 620.7,355.6 621.3,356" marker-start="url(#mb)" marker-mid="url(#mb)" marker-end="url(#mb)"/>
<path d="M113.8,327.6 115,327.7 117.6,329.3 118.8,330.1 122.2,334 123.4,335.3 126.7,338.4 127.9,339.5 132.8,340.3 134,340.5 137.4,338.7 138.6,338.1 141.2,338.5 142.4,338.7 144.2,342.1 145.4,344.4 147.2,349.9 148.4,353.5 150.3,357.3 151.5,359.7 154.8,362.8 156,363.9 160.2,364.8 161.4,365.1 164.7,363.6 165.9,363 167,364.8 168.2,366.7 169.3,371.1 170.5,375.8 172.3,378 173.5,379.5 176.9,378.4 178.1,378 181.4,375.6 182.6,374.8 186,369.7 187.2,367.9 190.6,361.2 191.8,358.8 195.1,353.7 196.3,351.8 199.7,346.6 200.9,344.7 204.3,343.2 205.5,342.7 208.8,344.6 210,345.2 213.4,346.3 214.6,346.6 219.5,345.4 220.7,345.1 225.5,344.4 226.7,344.2 230,343.2 231.2,343 234.6,341.9 235.8,341.5 239.1,340 240.3,339.3 243.7,338.7 244.9,338.9 248.2,339.5 249.4,338.9 251.3,338 252.5,340.3 253.6,342.5 254.8,340.4 255.8,338.6 257,336.3 258.9,332.5 260.1,333.4 261.2,334.1 262.4,334.9 263.7,335.6 264.9,333 266.5,329.5 267.7,331.9 268,332.5 269.2,329.5 269.8,328 271,330.3 271.8,331.8 273,334.9 273.3,335.6 274.5,334 275.6,332.5 276.8,334 278.6,336.3 279.8,339.1 280.9,341.4 282.1,344.1 283.2,346.7 284.4,347 286.2,347.9 287.4,348.2 289.3,348.6 290.5,348.5 292.3,348.5 293.5,351.2 294.6,353.7 295.8,354.9 296.9,356 298.1,353.4 298.7,352.1 299.9,349.4 300.7,347.4 301.9,349.7 302.7,351.3 303.9,351.5 304.5,351.5 305.7,351.6 306.8,351.8 308,355.5 309,358.6 310.2,361.4 311.3,363.9 312.5,361.6 312.9,360.9 314.1,368.1 314.4,369.9 315.6,373.8 316.3,376 317.5,371.2 318.2,368.4 319.4,362.8 320.5,357.6 321.7,359.7 322.7,361.4 323.9,365 325.5,369.8 326.7,366.8 328,363.6 329.2,360.4 330.3,357.5 331.5,355.5 332.6,353.6 333.8,356.4 334.9,358.9 336.1,360.1 337.2,361.1 338.4,360.3 339.5,359.6 340.7,356.7 341.7,354.3 342.9,351.9 343.3,351.1 344.5,350.7 345.5,350.4 346.7,353.9 347.8,357.2 349,360.7 350.1,364 351.3,358.1 352.3,353.3 353.5,351.7 354.6,350.3 355.8,350.7 356.8,351.1 358,353.8 359.1,356.3 360.3,355.6 361.4,354.8 362.6,357.6 363.7,360.1 364.9,362.8 366.4,366.2 367.6,360.6 368.2,357.8 369.4,350.5 370.2,345.6 371.4,347 372.8,348.7 374,350.7 375.1,352.5 376.3,353.5 377.7,354.8 378.9,351.9 379.6,350.2 380.8,347.4 381.9,344.9 383.1,344.4 384.2,344 385.4,344.5 386.5,344.8 387.7,348.1 389.8,353.9 391,351.7 392.3,349.3 393.5,350.8 394.1,351.6 395.3,348.8 396.4,346.3 397.6,351.1 398.3,353.9 399.5,353.4 400.2,353.1 401.4,348.8 401.7,347.8 402.9,351 404,353.9 405.2,359.6 406.2,364.5 407.4,368.1 408.5,371.3 409.7,370 410.5,369 411.7,372.1 412.3,373.6 413.5,374.8 414.6,375.8 415.8,378.2 416.9,380.4 418.1,380.4 419.9,380.4 421.1,380.7 423,381.2 424.2,380.3 426,378.9 427.2,377.3 428.3,375.8 429.5,378.2 429.8,378.9 431,372.8 431.3,371.3 432.5,378.5 433.3,383.3 434.5,387.3 435.4,390.2 436.6,389.1 437.9,387.9 439.1,381.9 440,377.3 441.2,376.4 442,375.7 443.2,378.9 444.3,381.8 445.5,385.1 446.5,387.9 447.7,389.4 449.6,391.7 450.8,393.2 452.6,395.5 453.8,396.7 454.9,397.8 456.1,395.8 457.2,394 458.4,395.9 459.5,397.7 460.7,396.7 462.2,395.4 463.4,398.2 464.8,401.5 466,397.6 467.1,393.9 468.3,389.5 469.3,385.9 470.5,385.3 471.6,385 472.8,385.8 473.8,386.5 475,391.8 475.8,395.3 477,401.8 477.6,405 478.8,400 479.4,397.5 480.6,402.6 481.4,405.9 482.6,402.8 483.7,399.9 484.9,400.3 486,400.6 487.2,400.2 488.2,399.9 489.4,405.1 490.5,409.9 491.7,413.4 493.6,419 494.8,422.7 496.1,426.6 497.3,430.3 498.1,432.8 499.3,432.5 501.2,432.4 502.4,432.1 504.2,430.9 505.4,430 507.2,430.6 508.4,431 511.8,428.9 513,428.2 517.1,424.3 518.3,423.2 521.7,419.5 522.9,418.1 526.2,412.2 527.4,410 529.3,407.7 530.5,406.3 533.8,405.4 535,405.1 538.4,403.5 539.6,403 542.2,402.7 543.4,402.5 545,399.5 546.2,397.2 548.3,394.4 549.5,392.8 553.3,391.1 554.5,390.6 559.3,387.9 560.5,387.2 561.4,386.8 562.6,386.3 566.1,387.2 567.3,387.5 570.9,387.1 572.1,387 578,386 579.2,385.8 583.9,383.6 585.1,383 589.9,381.6 591.1,381.2 595.8,380.2 597,379.9 601.8,378.5 603,378.1 607.7,377.6 608.9,377.5 613.7,375.9 614.9,375.5 617.2,374.4 618.4,373.9 621.3,372.6" stroke="#00ff00" stroke-width="1.5"/>
<path d="M113.8,330.4 117.6,332.7 122.2,337.2 126.7,341 132.8,341.8 137.4,339.2 141.2,339.8 144.2,345.6 147.2,354.7 150.3,360.8 154.8,364.6 160.2,365.4 164.7,363.1 167,366.9 169.3,376 172.3,379.8 176.9,378.3 181.4,375.2 186,368.4 190.6,359.3 195.1,352.4 199.7,345.6 204.3,344.1 208.8,346.8 213.4,348.3 219.5,347.4 225.5,347.1 230,346.2 234.6,344.7 239.1,342.7 243.7,341.9 248.2,342.7 251.3,341.2 253.6,345.7 255.8,341.9 258.9,335.8 261.2,337.4 263.7,338.9 266.5,332.8 268,335.8 269.8,331.3 271.8,335.1 273.3,338.9 275.6,335.8 278.6,339.6 280.9,345 283.2,351 286.2,352.6 289.3,353.3 292.3,353.3 294.6,358.6 296.9,360.9 298.7,357.1 300.7,352.6 302.7,357.1 304.5,357.9 306.8,358.6 309,365.5 311.3,370.8 312.9,367.8 314.4,376.9 316.3,383 318.2,375.4 320.5,364.7 322.7,368.5 325.5,376.9 328,370.8 330.3,364.7 332.6,360.9 334.9,366.2 337.2,368.5 339.5,367 341.7,361.7 343.3,358.6 345.5,357.9 347.8,364.7 350.1,371.5 352.3,360.8 354.6,357.8 356.8,358.6 359.1,363.9 361.4,362.4 363.7,367.7 366.4,373.8 368.2,365.4 370.2,353.2 372.8,356.3 375.1,360.1 377.7,362.4 379.6,357.8 381.9,352.5 384.2,351.7 386.5,352.5 389.8,361.6 392.3,357 394.1,359.3 396.4,354 398.3,361.6 400.2,360.8 401.7,355.5 404,361.6 406.2,372.2 408.5,379.1 410.5,376.8 412.3,381.4 414.6,383.6 416.9,388.2 419.9,388.2 423,389 426,386.7 428.3,383.6 429.8,386.7 431.3,379.1 433.3,391.2 435.4,398.1 437.9,395.8 440,385.2 442,383.6 444.3,389.7 446.5,395.8 449.6,399.6 452.6,403.4 454.9,405.7 457.2,401.9 459.5,405.7 462.2,403.4 464.8,409.5 467.1,401.9 469.3,393.9 471.6,392.5 473.8,393.3 475.8,401.5 477.6,410.6 479.4,403 481.4,411.4 483.7,405.3 486,406 488.2,405.3 490.5,415.2 493.6,424.3 496.1,431.9 498.1,438 501.2,437.2 504.2,434.9 507.2,435.7 511.8,432.6 517.1,427.3 521.7,422 526.2,413.6 529.3,409.8 533.8,408.3 538.4,406 542.2,405.3 545,399.8 548.3,395.2 553.3,392.6 559.3,388.7 561.4,387.6 566.1,388.4 570.9,387.6 578,386.4 583.9,383.6 589.9,381.8 595.8,380.5 601.8,378.7 607.7,378.1 613.7,376.3 617.2,374.9 621.3,373.3" stroke="#ff0000" stroke-width="1.5"/>
<path d="M113.8,307.9 117.6,307.9 121.4,311.4 125.2,316 129.8,319.8 134.3,320.5 138.9,323.6 142.7,326.6 145,327.4 148,335 151,338.8 154.8,340.3 160.2,344.8 166.2,344.5 168.5,350.2 172.3,357.8 175.4,359.6 180.7,357 184.5,353.2 189,344.1 192.9,338 196.7,333.4 199.7,327.4 204.3,325.1 210.3,327.1 216.4,327.1 222.5,326.1 227.8,322.8 230.9,320.5 233.5,322 236.1,318.5 239.1,317 242.2,316.2 245.2,314.4 248.2,313.2 251.3,312.4 254,313.2 256.6,307.1 259.6,301.8 261.9,306.4 263.7,307.1 266.2,299.8 267.7,304.8 269.8,298.3 271.8,303.3 274.8,304.8 278.6,304.1 280.9,310.2 283.2,315.5 285.5,314 288.5,316.6 290.8,314.7 293.8,319.3 296.1,322.3 298.7,326.1 301.5,320.8 303.7,313.2 305.6,307.9 307.5,314.7 309.8,323.8 311.3,330.7 312.9,325.4 314.4,334.5 316.3,346.7 318.2,333 320.5,312.4 322.7,320.8 325,329.2 327.3,332.2 329.6,325.4 331.9,320 334.1,320.8 336.4,323.8 339.5,331.5 341.7,323.1 343.3,326.9 345.5,317.8 347.4,320.8 349.8,330 352.3,320.4 354.6,312.8 356.8,320.4 359.1,321.9 360.9,321.2 362.9,328.8 365.2,335.6 367.5,331 369.5,318.9 371,313.6 372.8,320.4 375.1,326.5 377.4,330.3 379.6,323.4 381.9,317.4 384.2,316.6 386.5,317.4 389.2,327.2 391.8,315.8 393.3,312.8 394.8,313.6 396.7,302.2 398.6,315.8 400.9,318.1 402.9,320.4 405,334.1 407.5,337.1 409.3,344 411.6,340.2 413.8,337.9 416.1,346.2 418.4,356.5 420.2,355.4 422.2,359.2 424.5,359.2 426.8,357.3 429.1,355.1 431,351 432.9,358 435.3,372.5 437.6,365.7 439.8,354.7 442,359.2 445,358.9 447.3,365.7 449.6,372.9 453.4,378.6 456.4,380.6 459.5,382.9 462.5,383.6 464.8,381.4 465.6,384.4 467.8,376 470,371.1 472.4,371.3 473.8,370.5 475.8,377.2 477.6,390.8 479.4,384.8 481.4,392.4 483.7,387.8 486,388.6 488.2,387.8 490.5,398.4 493.6,406.8 496.6,413.6 498.9,424.3 501.9,425 504.2,418.2 506.5,417.4 509.5,419.7 514.1,417.4 518.6,412.9 523.2,406 527.8,397.7 530.8,394.6 535.4,393.9 539.2,391.2 543.4,391 546.3,384.7 549.3,379.8 554.7,377.7 560.7,374 566.7,373.3 570.9,372.2 575.4,372 580.6,370 584.5,367.4 586.8,363.8 591.1,363.3 594.6,366.2 598.2,365.6 601.8,361.5 606.5,359.1 611.3,358.5 616,356.7 621.3,355.2" stroke="#0000ff" stroke-width="1.5"/>
</g>
<text x="370" y="46" font-size="36" text-anchor="middle">Dew Point / 2008-07-09</text>
<text transform="translate(115.0,70.6) scale(0.92,1)" font-size="18.5" text-anchor="middle">[°C]</text>
<text transform="translate(103.7,488.4) scale(1.08,1)" font-size="19" text-anchor="end" stroke="#000" stroke-width="0.2">15</text>
<text transform="translate(103.7,289.9) scale(1.08,1)" font-size="19" text-anchor="end" stroke="#000" stroke-width="0.2">20</text>
<text transform="translate(103.7,92.5) scale(1.08,1)" font-size="19" text-anchor="end" stroke="#000" stroke-width="0.2">25</text>
<text transform="translate(113.8,506.4) scale(1.095,1)" font-size="19" text-anchor="middle" stroke="#000" stroke-width="0.2">00:00</text>
<text transform="translate(241.6,506.4) scale(1.095,1)" font-size="19" text-anchor="middle" stroke="#000" stroke-width="0.2">06:00</text>
<text transform="translate(370.1,506.4) scale(1.095,1)" font-size="19" text-anchor="middle" stroke="#000" stroke-width="0.2">12:00</text>
<text transform="translate(497.8,506.4) scale(1.095,1)" font-size="19" text-anchor="middle" stroke="#000" stroke-width="0.2">18:00</text>
<text x="369" y="526.5" font-size="20" text-anchor="middle">Jul-09</text>
<text x="370" y="550.5" font-size="24" text-anchor="middle">(LST)</text>
<rect x="638" y="396.5" width="184.2" height="85" fill="#fff" stroke="#000" stroke-width="1.35"/>
<path d="M643.1,410.9h12" stroke="#ff0000" stroke-width="1.7"/>
<circle cx="649" cy="410.9" r="1.2" fill="#ff6464" stroke="#fff" stroke-width="0.5" fill-opacity="0.75"/>
<text transform="translate(659.6,416.0) scale(1.02,1)" font-size="18" text-anchor="start" stroke="#000" stroke-width="0.25">at 29.5 m</text>
<path d="M643.1,439.4h12" stroke="#00ff00" stroke-width="1.7"/>
<circle cx="649" cy="439.4" r="1.2" fill="#64ff64" stroke="#fff" stroke-width="0.5" fill-opacity="0.75"/>
<text transform="translate(659.6,444.5) scale(1.02,1)" font-size="18" text-anchor="start" stroke="#000" stroke-width="0.25">at 12.3 m</text>
<path d="M643.1,467.9h12" stroke="#0000ff" stroke-width="1.7"/>
<circle cx="649" cy="467.9" r="1.2" fill="#6464ff" stroke="#fff" stroke-width="0.5" fill-opacity="0.75"/>
<text transform="translate(659.6,473.0) scale(1.02,1)" font-size="18" text-anchor="start" stroke="#000" stroke-width="0.25">at 1.6 m</text>
<text x="779" y="532.7" font-size="12.4" text-anchor="end">©TERC, Univ. Tsukuba</text>
<text x="823" y="549.8" font-size="14" text-anchor="end">Observed at TERC Tower site</text>
<text x="823" y="566.7" font-size="14" text-anchor="end">Created Automatically at 2008-07-09/23:55:22</text>
<text x="823" y="583.6" font-size="14" text-anchor="end">Data source : /home/hojyo/new/TERC-data/sorted_data/MET.10s.dat</text>
<g transform="translate(785,503.9)">
<rect width="34" height="34" rx="1.3" fill="#1260ff"/>
<path d="M11.2,-0.5 L11.6,1.5 C12.3,4 13.2,6.3 14.6,6.3 L19.9,6.3 C21.3,6.3 22.2,4 22.8,1.5 L23.2,-0.5Z" fill="#fff"/>
<path d="M17.4,8.1 C17.9,10.8 20.4,13 20.4,15.4 C20.4,17.3 19.2,18.3 17.3,18.3 C15.4,18.3 14.2,17.3 14.2,15.4 C14.2,13 16.9,10.8 17.4,8.1Z" fill="#fff"/>
<path d="M0,11 C4,17 9,21.4 17,21.4 C25,21.4 30,17 34,11 M0,15.8 C4,20.6 9,23.3 17,23.3 C25,23.3 30,20.6 34,15.8 M0,20.6 C3,23 6,24.8 10,25.4 M34,20.6 C31,23 28,24.8 24,25.4" fill="none" stroke="#fff" stroke-width="1.1"/>
<text transform="scale(0.8,1)" x="5 15.6 29.5 39.5" y="33.1" font-family="'Liberation Sans', Arial, sans-serif" font-weight="bold" font-size="8.1" fill="#fff" text-anchor="middle">TERC</text>
</g>
</svg>
</body></html>
